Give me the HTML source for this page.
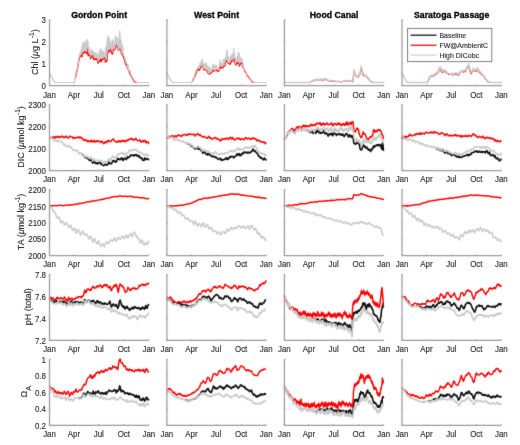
<!DOCTYPE html>
<html><head><meta charset="utf-8"><style>
html,body{margin:0;padding:0;background:#fff;}
svg{display:block;}
text{font-family:"Liberation Sans",sans-serif;fill:#262626;stroke:#262626;stroke-width:0.12px;}
</style></head><body>
<svg width="520" height="445" viewBox="0 0 520 445">
<defs>
<filter id="bl" color-interpolation-filters="sRGB" x="0" y="0" width="520" height="445" filterUnits="userSpaceOnUse"><feConvolveMatrix order="3" kernelMatrix="0.0113 0.0838 0.0113 0.0838 0.6193 0.0838 0.0113 0.0838 0.0113" edgeMode="none" preserveAlpha="false"/></filter>
<filter id="bt" color-interpolation-filters="sRGB" x="0" y="0" width="520" height="445" filterUnits="userSpaceOnUse"><feConvolveMatrix order="3" kernelMatrix="0.0016 0.0371 0.0016 0.0371 0.8450 0.0371 0.0016 0.0371 0.0016" edgeMode="none" preserveAlpha="false"/></filter>
</defs>
<rect width="520" height="445" fill="#fff"/>
<g filter="url(#bl)">
<polyline points="75.3,78.2 75.6,77.1 75.9,75.8 76.2,73.9 76.6,72.2 76.9,71.2 77.2,70.3 77.5,68.7 77.8,66.8 78.1,64.4 78.4,63.6 78.8,60.5 79.1,59.5 79.4,57.4 79.7,57.0 80.0,56.6 80.3,55.2 80.6,56.6 81.0,55.4 81.3,56.4 81.6,56.5 81.9,56.8 82.2,55.1 82.5,52.1 82.8,53.0 83.2,53.2 83.5,53.6 83.8,51.6 84.1,51.3 84.4,52.5 84.7,52.1 85.0,52.5 85.3,51.5 85.7,52.4 86.0,52.0 86.3,53.0 86.6,53.5 86.9,52.5 87.2,49.0 87.5,48.9 87.9,53.6 88.2,55.8 88.5,54.7 88.8,53.4 89.1,54.0 89.4,55.3 89.7,54.9 90.1,56.7 90.4,57.3 90.7,58.5 91.0,57.7 91.3,57.0 91.6,56.2 91.9,55.2 92.3,56.3 92.6,55.8 92.9,55.9 93.2,57.5 93.5,58.7 93.8,59.8 94.1,59.0 94.4,58.7 94.8,58.7 95.1,58.7 95.4,59.5 95.7,58.7 96.0,59.1 96.3,58.8 96.6,59.4 97.0,58.3 97.3,59.0 97.6,62.1 97.9,62.4 98.2,63.4 98.5,60.7 98.8,61.1 99.2,60.8 99.5,61.7 99.8,60.2 100.1,59.0 100.4,59.4 100.7,60.1 101.0,61.5 101.4,61.4 101.7,60.6 102.0,58.9 102.3,58.8 102.6,59.3 102.9,59.3 103.2,59.5 103.6,57.7 103.9,58.4 104.2,57.6 104.5,57.9 104.8,58.1 105.1,60.3 105.4,62.2 105.7,61.9 106.1,59.3 106.4,61.0 106.7,61.2 107.0,59.9 107.3,54.9 107.6,52.5 107.9,50.6 108.3,50.7 108.6,49.7 108.9,51.8 109.2,52.0 109.5,50.1 109.8,49.3 110.1,47.1 110.5,50.8 110.8,50.5 111.1,52.1 111.4,49.7 111.7,51.4 112.0,53.5 112.3,54.1 112.7,53.4 113.0,50.2 113.3,50.2 113.6,47.6 113.9,49.0 114.2,48.3 114.5,49.5 114.8,48.5 115.2,48.8 115.5,48.0 115.8,46.2 116.1,45.9 116.4,44.8 116.7,45.2 117.0,45.4 117.4,46.4 117.7,47.5 118.0,48.3 118.3,50.1 118.6,50.5 118.9,50.4 119.2,48.8 119.6,48.3 119.9,47.2 120.2,49.2 120.5,49.3 120.8,50.6 121.1,51.3 121.4,53.5 121.8,54.6 122.1,53.1 122.4,53.8 122.7,54.9 123.0,56.0 123.3,56.9 123.6,57.0 124.0,58.3 124.3,58.7 124.6,60.2 124.9,62.2 125.2,61.5 125.5,64.1 125.8,64.0 126.1,64.6 126.5,64.2 126.8,65.0 127.1,67.1 127.4,67.2 127.7,68.2 128.0,68.9 128.3,69.5 128.7,70.7 129.0,71.1 129.3,71.8 129.6,72.4 129.9,73.6 130.2,74.5 130.5,74.7 130.9,75.4 131.2,75.5 131.5,76.1 131.8,76.6 132.1,77.4 132.4,78.2 132.7,78.8 133.1,79.8 133.4,80.1 133.7,80.4 134.0,80.8 134.3,81.1 134.6,81.7 134.9,81.9 135.2,82.1 135.6,82.2 135.9,82.3 136.2,82.5 136.5,82.5" fill="none" stroke="#ff0000" stroke-width="1.3" stroke-linejoin="round" stroke-linecap="round"/>
<polygon points="49.6,73.9 49.9,73.8 50.2,74.0 50.5,74.4 50.8,75.5 51.1,76.2 51.5,76.3 51.8,77.1 52.1,78.0 52.4,78.4 52.7,79.1 53.0,79.6 53.3,80.0 53.6,80.7 54.0,81.1 54.3,81.8 54.6,81.9 54.9,82.1 55.2,82.4 55.5,82.5 55.8,82.5 56.2,82.5 56.5,82.5 56.8,82.5 57.1,82.5 57.4,82.5 57.7,82.5 58.0,82.5 58.4,82.5 58.7,82.5 59.0,82.5 59.3,82.5 59.6,82.5 59.9,82.5 60.2,82.5 60.6,82.5 60.9,82.5 61.2,82.5 61.5,82.5 61.8,82.5 62.1,82.5 62.4,82.5 62.8,82.5 63.1,82.5 63.4,82.5 63.7,82.5 64.0,82.5 64.3,82.5 64.6,82.5 64.9,82.5 65.3,82.5 65.6,82.5 65.9,82.5 66.2,82.5 66.5,82.5 66.8,82.5 67.1,82.5 67.5,82.5 67.8,82.5 68.1,82.5 68.4,82.5 68.7,82.5 69.0,82.5 69.3,82.5 69.7,82.5 70.0,82.5 70.3,82.5 70.6,82.5 70.9,82.5 71.2,82.5 71.5,82.5 71.9,82.5 72.2,82.5 72.5,82.5 72.8,82.5 73.1,82.5 73.4,82.5 73.7,82.5 74.0,82.5 74.4,82.5 74.7,81.6 75.0,79.8 75.3,78.2 75.6,76.9 75.9,75.8 76.2,73.1 76.6,72.2 76.9,71.2 77.2,70.3 77.5,68.7 77.8,64.9 78.1,60.6 78.4,63.6 78.8,58.3 79.1,58.1 79.4,54.3 79.7,57.0 80.0,55.3 80.3,50.9 80.6,53.3 81.0,50.6 81.3,48.9 81.6,48.2 81.9,46.6 82.2,47.2 82.5,45.7 82.8,43.6 83.2,45.8 83.5,41.7 83.8,43.2 84.1,43.7 84.4,46.1 84.7,42.1 85.0,47.0 85.3,43.7 85.7,42.4 86.0,40.9 86.3,43.0 86.6,41.3 86.9,39.1 87.2,39.4 87.5,41.0 87.9,41.2 88.2,46.2 88.5,48.1 88.8,48.3 89.1,48.0 89.4,47.1 89.7,48.9 90.1,51.5 90.4,54.9 90.7,53.1 91.0,51.3 91.3,52.1 91.6,50.5 91.9,49.4 92.3,50.1 92.6,51.0 92.9,54.7 93.2,51.2 93.5,54.2 93.8,55.5 94.1,52.4 94.4,56.0 94.8,54.5 95.1,52.4 95.4,54.2 95.7,54.0 96.0,53.8 96.3,54.1 96.6,55.2 97.0,56.1 97.3,53.6 97.6,55.7 97.9,52.7 98.2,56.6 98.5,57.5 98.8,55.8 99.2,55.0 99.5,54.6 99.8,50.9 100.1,49.5 100.4,48.7 100.7,49.2 101.0,49.0 101.4,54.8 101.7,50.0 102.0,53.1 102.3,54.4 102.6,52.2 102.9,51.2 103.2,51.0 103.6,54.4 103.9,56.5 104.2,54.5 104.5,54.0 104.8,52.6 105.1,54.1 105.4,47.9 105.7,52.4 106.1,51.4 106.4,45.8 106.7,50.7 107.0,40.6 107.3,38.9 107.6,37.4 107.9,41.0 108.3,35.4 108.6,38.7 108.9,39.8 109.2,40.5 109.5,38.4 109.8,41.0 110.1,46.9 110.5,41.7 110.8,43.7 111.1,43.8 111.4,44.6 111.7,42.1 112.0,42.3 112.3,39.3 112.7,44.3 113.0,44.3 113.3,40.4 113.6,47.6 113.9,49.0 114.2,43.7 114.5,44.4 114.8,45.7 115.2,38.0 115.5,35.4 115.8,36.3 116.1,37.3 116.4,36.8 116.7,39.2 117.0,39.8 117.4,37.9 117.7,43.1 118.0,45.8 118.3,43.1 118.6,41.4 118.9,38.0 119.2,37.6 119.6,30.8 119.9,33.2 120.2,35.0 120.5,41.1 120.8,41.7 121.1,40.0 121.4,44.2 121.8,48.0 122.1,44.1 122.4,46.4 122.7,47.0 123.0,46.6 123.3,53.4 123.6,55.7 124.0,56.2 124.3,56.3 124.6,56.7 124.9,58.4 125.2,57.4 125.5,61.7 125.8,62.8 126.1,63.3 126.5,61.1 126.8,63.3 127.1,63.9 127.4,67.2 127.7,66.5 128.0,64.1 128.3,68.4 128.7,70.7 129.0,70.3 129.3,71.3 129.6,71.0 129.9,69.6 130.2,70.7 130.5,72.2 130.9,74.0 131.2,75.0 131.5,76.0 131.8,76.0 132.1,77.4 132.4,77.4 132.7,77.8 133.1,79.0 133.4,78.9 133.7,78.9 134.0,80.0 134.3,80.8 134.6,80.6 134.9,81.3 135.2,81.6 135.6,81.8 135.9,82.1 136.2,82.5 136.5,82.5 136.8,82.5 137.1,82.5 137.4,82.5 137.8,82.5 138.1,82.5 138.4,82.5 138.7,82.5 139.0,82.5 139.3,82.5 139.6,82.5 140.0,82.5 140.3,82.5 140.6,82.5 140.9,82.5 141.2,82.5 141.5,82.5 141.8,82.5 142.2,82.5 142.5,82.5 142.8,82.5 143.1,82.5 143.4,82.5 143.7,82.5 144.0,82.5 144.4,82.5 144.7,82.5 145.0,82.5 145.3,82.5 145.6,82.5 145.9,82.5 146.2,82.5 146.5,82.5 146.9,82.5 147.2,82.5 147.5,82.5 147.8,82.5 148.1,82.5 148.4,82.5 148.7,82.5 148.7,82.5 148.4,82.5 148.1,82.5 147.8,82.5 147.5,82.5 147.2,82.5 146.9,82.5 146.5,82.5 146.2,82.5 145.9,82.5 145.6,82.5 145.3,82.5 145.0,82.5 144.7,82.5 144.4,82.5 144.0,82.5 143.7,82.5 143.4,82.5 143.1,82.5 142.8,82.5 142.5,82.5 142.2,82.5 141.8,82.5 141.5,82.5 141.2,82.5 140.9,82.5 140.6,82.5 140.3,82.5 140.0,82.5 139.6,82.5 139.3,82.5 139.0,82.5 138.7,82.5 138.4,82.5 138.1,82.5 137.8,82.5 137.4,82.5 137.1,82.5 136.8,82.5 136.5,82.5 136.2,82.5 135.9,82.3 135.6,82.1 135.2,82.1 134.9,81.7 134.6,81.5 134.3,80.8 134.0,80.0 133.7,79.9 133.4,79.7 133.1,79.7 132.7,78.5 132.4,77.4 132.1,77.4 131.8,76.0 131.5,76.0 131.2,75.0 130.9,74.0 130.5,75.3 130.2,74.7 129.9,73.6 129.6,71.1 129.3,71.3 129.0,71.4 128.7,70.9 128.3,70.0 128.0,69.0 127.7,69.4 127.4,67.9 127.1,67.1 126.8,64.3 126.5,63.6 126.1,63.4 125.8,63.3 125.5,63.7 125.2,61.4 124.9,61.6 124.6,59.3 124.3,58.4 124.0,57.3 123.6,55.7 123.3,54.6 123.0,55.0 122.7,55.1 122.4,54.6 122.1,54.0 121.8,54.4 121.4,53.5 121.1,50.9 120.8,50.9 120.5,49.2 120.2,48.6 119.9,48.3 119.6,49.3 119.2,50.6 118.9,51.0 118.6,51.3 118.3,50.2 118.0,47.6 117.7,47.5 117.4,46.7 117.0,46.1 116.7,45.1 116.4,43.2 116.1,44.1 115.8,43.8 115.5,47.3 115.2,48.6 114.8,49.3 114.5,50.2 114.2,48.3 113.9,49.3 113.6,47.6 113.3,49.7 113.0,48.9 112.7,52.3 112.3,53.1 112.0,51.7 111.7,50.4 111.4,49.1 111.1,52.6 110.8,50.1 110.5,49.8 110.1,46.9 109.8,48.9 109.5,50.0 109.2,51.8 108.9,51.3 108.6,49.3 108.3,50.3 107.9,50.0 107.6,51.7 107.3,54.2 107.0,59.5 106.7,60.1 106.4,59.9 106.1,57.8 105.7,60.7 105.4,61.1 105.1,59.7 104.8,57.4 104.5,57.2 104.2,56.1 103.9,58.0 103.6,57.5 103.2,59.4 102.9,58.5 102.6,58.4 102.3,58.8 102.0,58.0 101.7,58.2 101.4,58.6 101.0,59.2 100.7,59.1 100.4,59.0 100.1,58.1 99.8,58.8 99.5,59.3 99.2,60.2 98.8,61.7 98.5,61.6 98.2,63.4 97.9,61.1 97.6,61.6 97.3,58.6 97.0,58.9 96.6,58.5 96.3,57.5 96.0,57.0 95.7,57.6 95.4,58.7 95.1,59.0 94.8,58.5 94.4,57.7 94.1,57.1 93.8,56.9 93.5,56.7 93.2,54.8 92.9,54.7 92.6,53.6 92.3,54.6 91.9,54.0 91.6,56.1 91.3,56.5 91.0,56.2 90.7,57.3 90.4,57.2 90.1,57.4 89.7,54.4 89.4,54.2 89.1,52.7 88.8,52.2 88.5,53.7 88.2,54.8 87.9,52.9 87.5,47.8 87.2,47.8 86.9,51.1 86.6,52.5 86.3,52.1 86.0,51.8 85.7,52.8 85.3,51.1 85.0,51.3 84.7,50.1 84.4,51.2 84.1,50.7 83.8,52.0 83.5,54.3 83.2,52.8 82.8,52.0 82.5,50.4 82.2,53.8 81.9,54.9 81.6,55.3 81.3,54.7 81.0,54.6 80.6,55.8 80.3,54.4 80.0,55.4 79.7,57.0 79.4,56.6 79.1,59.6 78.8,61.0 78.4,64.5 78.1,64.3 77.8,65.9 77.5,68.7 77.2,70.3 76.9,71.2 76.6,72.2 76.2,74.5 75.9,76.3 75.6,78.1 75.3,78.4 75.0,79.8 74.7,81.6 74.4,82.5 74.0,82.5 73.7,82.5 73.4,82.5 73.1,82.5 72.8,82.5 72.5,82.5 72.2,82.5 71.9,82.5 71.5,82.5 71.2,82.5 70.9,82.5 70.6,82.5 70.3,82.5 70.0,82.5 69.7,82.5 69.3,82.5 69.0,82.5 68.7,82.5 68.4,82.5 68.1,82.5 67.8,82.5 67.5,82.5 67.1,82.5 66.8,82.5 66.5,82.5 66.2,82.5 65.9,82.5 65.6,82.5 65.3,82.5 64.9,82.5 64.6,82.5 64.3,82.5 64.0,82.5 63.7,82.5 63.4,82.5 63.1,82.5 62.8,82.5 62.4,82.5 62.1,82.5 61.8,82.5 61.5,82.5 61.2,82.5 60.9,82.5 60.6,82.5 60.2,82.5 59.9,82.5 59.6,82.5 59.3,82.5 59.0,82.5 58.7,82.5 58.4,82.5 58.0,82.5 57.7,82.5 57.4,82.5 57.1,82.5 56.8,82.5 56.5,82.5 56.2,82.5 55.8,82.5 55.5,82.5 55.2,82.4 54.9,82.1 54.6,81.9 54.3,81.8 54.0,81.1 53.6,80.7 53.3,80.0 53.0,79.6 52.7,79.1 52.4,78.4 52.1,78.0 51.8,77.1 51.5,76.6 51.1,76.7 50.8,75.9 50.5,75.1 50.2,74.5 49.9,73.8 49.6,73.9" fill="#c9c9c9"/>
<polyline points="49.6,73.9 49.9,73.8 50.2,74.0 50.5,74.4 50.8,75.5 51.1,76.2 51.5,76.3 51.8,77.1 52.1,78.0 52.4,78.4 52.7,79.1 53.0,79.6 53.3,80.0 53.6,80.7 54.0,81.1 54.3,81.8 54.6,81.9 54.9,82.1 55.2,82.4 55.5,82.5 55.8,82.5 56.2,82.5 56.5,82.5 56.8,82.5 57.1,82.5 57.4,82.5 57.7,82.5 58.0,82.5 58.4,82.5 58.7,82.5 59.0,82.5 59.3,82.5 59.6,82.5 59.9,82.5 60.2,82.5 60.6,82.5 60.9,82.5 61.2,82.5 61.5,82.5 61.8,82.5 62.1,82.5 62.4,82.5 62.8,82.5 63.1,82.5 63.4,82.5 63.7,82.5 64.0,82.5 64.3,82.5 64.6,82.5 64.9,82.5 65.3,82.5 65.6,82.5 65.9,82.5 66.2,82.5 66.5,82.5 66.8,82.5 67.1,82.5 67.5,82.5 67.8,82.5 68.1,82.5 68.4,82.5 68.7,82.5 69.0,82.5 69.3,82.5 69.7,82.5 70.0,82.5 70.3,82.5 70.6,82.5 70.9,82.5 71.2,82.5 71.5,82.5 71.9,82.5 72.2,82.5 72.5,82.5 72.8,82.5 73.1,82.5 73.4,82.5 73.7,82.5 74.0,82.5 74.4,82.5 74.7,81.6 75.0,79.8 75.3,78.2 75.6,76.9 75.9,75.8 76.2,73.1 76.6,72.2 76.9,71.2 77.2,70.3 77.5,68.7 77.8,64.9 78.1,60.6 78.4,63.6 78.8,58.3 79.1,58.1 79.4,54.3 79.7,57.0 80.0,55.3 80.3,50.9 80.6,53.3 81.0,50.6 81.3,48.9 81.6,48.2 81.9,46.6 82.2,47.2 82.5,45.7 82.8,43.6 83.2,45.8 83.5,41.7 83.8,43.2 84.1,43.7 84.4,46.1 84.7,42.1 85.0,47.0 85.3,43.7 85.7,42.4 86.0,40.9 86.3,43.0 86.6,41.3 86.9,39.1 87.2,39.4 87.5,41.0 87.9,41.2 88.2,46.2 88.5,48.1 88.8,48.3 89.1,48.0 89.4,47.1 89.7,48.9 90.1,51.5 90.4,54.9 90.7,53.1 91.0,51.3 91.3,52.1 91.6,50.5 91.9,49.4 92.3,50.1 92.6,51.0 92.9,54.7 93.2,51.2 93.5,54.2 93.8,55.5 94.1,52.4 94.4,56.0 94.8,54.5 95.1,52.4 95.4,54.2 95.7,54.0 96.0,53.8 96.3,54.1 96.6,55.2 97.0,56.1 97.3,53.6 97.6,55.7 97.9,52.7 98.2,56.6 98.5,57.5 98.8,55.8 99.2,55.0 99.5,54.6 99.8,50.9 100.1,49.5 100.4,48.7 100.7,49.2 101.0,49.0 101.4,54.8 101.7,50.0 102.0,53.1 102.3,54.4 102.6,52.2 102.9,51.2 103.2,51.0 103.6,54.4 103.9,56.5 104.2,54.5 104.5,54.0 104.8,52.6 105.1,54.1 105.4,47.9 105.7,52.4 106.1,51.4 106.4,45.8 106.7,50.7 107.0,40.6 107.3,38.9 107.6,37.4 107.9,41.0 108.3,35.4 108.6,38.7 108.9,39.8 109.2,40.5 109.5,38.4 109.8,41.0 110.1,46.9 110.5,41.7 110.8,43.7 111.1,43.8 111.4,44.6 111.7,42.1 112.0,42.3 112.3,39.3 112.7,44.3 113.0,44.3 113.3,40.4 113.6,47.6 113.9,49.0 114.2,43.7 114.5,44.4 114.8,45.7 115.2,38.0 115.5,35.4 115.8,36.3 116.1,37.3 116.4,36.8 116.7,39.2 117.0,39.8 117.4,37.9 117.7,43.1 118.0,45.8 118.3,43.1 118.6,41.4 118.9,38.0 119.2,37.6 119.6,30.8 119.9,33.2 120.2,35.0 120.5,41.1 120.8,41.7 121.1,40.0 121.4,44.2 121.8,48.0 122.1,44.1 122.4,46.4 122.7,47.0 123.0,46.6 123.3,53.4 123.6,55.7 124.0,56.2 124.3,56.3 124.6,56.7 124.9,58.4 125.2,57.4 125.5,61.7 125.8,62.8 126.1,63.3 126.5,61.1 126.8,63.3 127.1,63.9 127.4,67.2 127.7,66.5 128.0,64.1 128.3,68.4 128.7,70.7 129.0,70.3 129.3,71.3 129.6,71.0 129.9,69.6 130.2,70.7 130.5,72.2 130.9,74.0 131.2,75.0 131.5,76.0 131.8,76.0 132.1,77.4 132.4,77.4 132.7,77.8 133.1,79.0 133.4,78.9 133.7,78.9 134.0,80.0 134.3,80.8 134.6,80.6 134.9,81.3 135.2,81.6 135.6,81.8 135.9,82.1 136.2,82.5 136.5,82.5 136.8,82.5 137.1,82.5 137.4,82.5 137.8,82.5 138.1,82.5 138.4,82.5 138.7,82.5 139.0,82.5 139.3,82.5 139.6,82.5 140.0,82.5 140.3,82.5 140.6,82.5 140.9,82.5 141.2,82.5 141.5,82.5 141.8,82.5 142.2,82.5 142.5,82.5 142.8,82.5 143.1,82.5 143.4,82.5 143.7,82.5 144.0,82.5 144.4,82.5 144.7,82.5 145.0,82.5 145.3,82.5 145.6,82.5 145.9,82.5 146.2,82.5 146.5,82.5 146.9,82.5 147.2,82.5 147.5,82.5 147.8,82.5 148.1,82.5 148.4,82.5 148.7,82.5" fill="none" stroke="#c9c9c9" stroke-width="1.0" stroke-linejoin="round" stroke-linecap="round"/>
<polyline points="49.6,73.9 49.9,73.8 50.2,74.0 50.5,74.4 50.8,75.5 51.1,76.2 51.5,76.3 51.8,77.1 52.1,78.0 52.4,78.4 52.7,79.1 53.0,79.6 53.3,80.0 53.6,80.7 54.0,81.1 54.3,81.8 54.6,81.9 54.9,82.1 55.2,82.4 55.5,82.5 55.8,82.5 56.2,82.5 56.5,82.5 56.8,82.5 57.1,82.5 57.4,82.5 57.7,82.5 58.0,82.5 58.4,82.5 58.7,82.5 59.0,82.5 59.3,82.5 59.6,82.5 59.9,82.5 60.2,82.5 60.6,82.5 60.9,82.5 61.2,82.5 61.5,82.5 61.8,82.5 62.1,82.5 62.4,82.5 62.8,82.5 63.1,82.5 63.4,82.5 63.7,82.5 64.0,82.5 64.3,82.5 64.6,82.5 64.9,82.5 65.3,82.5 65.6,82.5 65.9,82.5 66.2,82.5 66.5,82.5 66.8,82.5 67.1,82.5 67.5,82.5 67.8,82.5 68.1,82.5 68.4,82.5 68.7,82.5 69.0,82.5 69.3,82.5 69.7,82.5 70.0,82.5 70.3,82.5 70.6,82.5 70.9,82.5 71.2,82.5 71.5,82.5 71.9,82.5 72.2,82.5 72.5,82.5 72.8,82.5 73.1,82.5 73.4,82.5 73.7,82.5 74.0,82.5 74.4,82.5 74.7,81.6 75.0,79.8" fill="none" stroke="#c9c9c9" stroke-width="1.15" stroke-linejoin="round" stroke-linecap="round"/>
<polyline points="136.8,82.5 137.1,82.5 137.4,82.5 137.8,82.5 138.1,82.5 138.4,82.5 138.7,82.5 139.0,82.5 139.3,82.5 139.6,82.5 140.0,82.5 140.3,82.5 140.6,82.5 140.9,82.5 141.2,82.5 141.5,82.5 141.8,82.5 142.2,82.5 142.5,82.5 142.8,82.5 143.1,82.5 143.4,82.5 143.7,82.5 144.0,82.5 144.4,82.5 144.7,82.5 145.0,82.5 145.3,82.5 145.6,82.5 145.9,82.5 146.2,82.5 146.5,82.5 146.9,82.5 147.2,82.5 147.5,82.5 147.8,82.5 148.1,82.5 148.4,82.5 148.7,82.5" fill="none" stroke="#c9c9c9" stroke-width="1.15" stroke-linejoin="round" stroke-linecap="round"/>
<path d="M49.50,19.40V85.70H148.80" fill="none" stroke="#9c9c9c" stroke-width="1.25"/>
<path d="M49.50,85.70h1.2M49.50,63.77h1.2M49.50,41.83h1.2M49.50,19.90h1.2M49.50,85.70v-1.2M73.98,85.70v-1.2M98.74,85.70v-1.2M123.77,85.70v-1.2M148.80,85.70v-1.2" stroke="#9c9c9c" stroke-width="0.9" fill="none"/>
<polyline points="192.4,81.3 192.7,80.7 193.0,79.9 193.3,79.2 193.6,78.6 194.0,78.1 194.3,77.4 194.6,77.0 194.9,76.0 195.2,75.5 195.5,74.3 195.8,73.7 196.1,73.0 196.5,72.4 196.8,71.6 197.1,70.8 197.4,70.1 197.7,69.3 198.0,68.9 198.3,68.8 198.7,69.5 199.0,69.7 199.3,70.3 199.6,69.8 199.9,69.0 200.2,68.4 200.5,67.3 200.9,67.5 201.2,65.7 201.5,66.0 201.8,64.2 202.1,64.9 202.4,64.9 202.7,66.4 203.1,67.7 203.4,68.9 203.7,69.9 204.0,69.5 204.3,69.7 204.6,69.4 204.9,69.8 205.3,70.0 205.6,70.1 205.9,70.0 206.2,69.9 206.5,70.2 206.8,70.6 207.1,71.2 207.4,72.1 207.8,73.0 208.1,72.9 208.4,73.1 208.7,72.9 209.0,73.9 209.3,74.0 209.6,74.5 210.0,73.7 210.3,73.3 210.6,73.1 210.9,73.1 211.2,73.2 211.5,72.1 211.8,71.9 212.2,70.9 212.5,71.5 212.8,71.0 213.1,71.7 213.4,70.4 213.7,70.6 214.0,70.0 214.4,70.4 214.7,70.4 215.0,70.7 215.3,70.8 215.6,70.8 215.9,70.9 216.2,70.6 216.5,69.9 216.9,70.0 217.2,70.5 217.5,70.8 217.8,71.3 218.1,71.0 218.4,71.4 218.7,71.3 219.1,70.9 219.4,69.6 219.7,67.2 220.0,66.0 220.3,66.5 220.6,67.1 220.9,68.0 221.3,68.3 221.6,67.8 221.9,67.4 222.2,66.7 222.5,67.8 222.8,67.9 223.1,67.7 223.5,66.5 223.8,65.6 224.1,65.5 224.4,66.2 224.7,66.0 225.0,65.2 225.3,63.9 225.7,61.5 226.0,61.2 226.3,60.8 226.6,61.5 226.9,60.3 227.2,60.4 227.5,62.3 227.8,63.3 228.2,62.8 228.5,63.0 228.8,62.3 229.1,63.7 229.4,62.9 229.7,64.3 230.0,63.2 230.4,64.1 230.7,63.4 231.0,62.4 231.3,60.0 231.6,59.1 231.9,60.6 232.2,61.6 232.6,61.5 232.9,60.1 233.2,60.0 233.5,59.7 233.8,59.5 234.1,58.3 234.4,60.2 234.8,62.2 235.1,63.2 235.4,64.6 235.7,64.5 236.0,65.2 236.3,63.1 236.6,62.9 236.9,63.2 237.3,63.7 237.6,62.0 237.9,62.2 238.2,62.0 238.5,62.6 238.8,63.4 239.1,64.9 239.5,66.2 239.8,64.7 240.1,64.4 240.4,63.0 240.7,63.5 241.0,62.8 241.3,63.6 241.7,62.9 242.0,64.0 242.3,65.1 242.6,66.4 242.9,67.4 243.2,68.0 243.5,68.4 243.9,68.5 244.2,69.1 244.5,70.3 244.8,71.3 245.1,72.0 245.4,71.7 245.7,72.2 246.1,72.4 246.4,73.0 246.7,74.3 247.0,75.2 247.3,75.8 247.6,75.7 247.9,76.0 248.2,76.4 248.6,77.1 248.9,77.3 249.2,78.0 249.5,78.2 249.8,78.8 250.1,79.2 250.4,79.6 250.8,80.0 251.1,80.4 251.4,80.8 251.7,81.2 252.0,81.7 252.3,82.0 252.6,82.2 253.0,82.3 253.3,82.3 253.6,82.4 253.9,82.5 254.2,82.5" fill="none" stroke="#ff0000" stroke-width="1.2" stroke-linejoin="round" stroke-linecap="round"/>
<polygon points="167.0,73.1 167.3,72.6 167.6,74.3 167.9,75.2 168.2,75.1 168.5,76.4 168.8,76.4 169.2,77.6 169.5,77.9 169.8,78.6 170.1,79.2 170.4,79.5 170.7,79.8 171.0,80.6 171.4,81.3 171.7,81.7 172.0,82.0 172.3,82.1 172.6,82.4 172.9,82.5 173.2,82.5 173.6,82.5 173.9,82.5 174.2,82.5 174.5,82.5 174.8,82.5 175.1,82.5 175.4,82.5 175.7,82.5 176.1,82.5 176.4,82.5 176.7,82.5 177.0,82.5 177.3,82.5 177.6,82.5 177.9,82.5 178.3,82.5 178.6,82.5 178.9,82.5 179.2,82.5 179.5,82.5 179.8,82.5 180.1,82.5 180.5,82.5 180.8,82.5 181.1,82.5 181.4,82.5 181.7,82.5 182.0,82.5 182.3,82.5 182.7,82.5 183.0,82.5 183.3,82.5 183.6,82.5 183.9,82.5 184.2,82.5 184.5,82.5 184.9,82.5 185.2,82.5 185.5,82.5 185.8,82.5 186.1,82.5 186.4,82.5 186.7,82.5 187.0,82.5 187.4,82.5 187.7,82.5 188.0,82.5 188.3,82.5 188.6,82.5 188.9,82.5 189.2,82.5 189.6,82.5 189.9,82.5 190.2,82.5 190.5,82.5 190.8,82.5 191.1,82.5 191.4,82.5 191.8,82.1 192.1,81.6 192.4,80.7 192.7,80.6 193.0,79.5 193.3,78.3 193.6,78.0 194.0,77.0 194.3,75.7 194.6,74.0 194.9,74.4 195.2,73.7 195.5,70.4 195.8,72.5 196.1,71.9 196.5,70.2 196.8,70.1 197.1,69.3 197.4,68.2 197.7,68.4 198.0,68.9 198.3,66.1 198.7,67.8 199.0,67.1 199.3,65.2 199.6,65.0 199.9,62.9 200.2,63.0 200.5,63.8 200.9,63.6 201.2,60.8 201.5,66.0 201.8,59.5 202.1,59.9 202.4,59.4 202.7,60.3 203.1,64.7 203.4,62.7 203.7,66.6 204.0,67.1 204.3,64.3 204.6,66.9 204.9,63.6 205.3,68.6 205.6,63.8 205.9,63.3 206.2,62.1 206.5,63.8 206.8,65.5 207.1,65.6 207.4,65.6 207.8,66.5 208.1,67.4 208.4,69.8 208.7,66.0 209.0,67.7 209.3,67.5 209.6,67.1 210.0,67.7 210.3,68.3 210.6,70.4 210.9,69.6 211.2,69.0 211.5,69.5 211.8,68.2 212.2,66.6 212.5,66.6 212.8,64.6 213.1,66.5 213.4,66.0 213.7,64.5 214.0,63.7 214.4,68.1 214.7,66.4 215.0,70.7 215.3,65.4 215.6,67.2 215.9,65.0 216.2,65.6 216.5,66.9 216.9,65.5 217.2,67.6 217.5,68.9 217.8,68.8 218.1,69.0 218.4,69.1 218.7,68.4 219.1,66.7 219.4,63.9 219.7,60.6 220.0,60.0 220.3,61.5 220.6,64.7 220.9,64.0 221.3,63.1 221.6,65.9 221.9,63.5 222.2,63.5 222.5,64.0 222.8,64.7 223.1,59.4 223.5,61.2 223.8,62.6 224.1,60.9 224.4,59.1 224.7,58.9 225.0,61.5 225.3,57.0 225.7,58.1 226.0,57.0 226.3,53.0 226.6,53.2 226.9,49.9 227.2,50.6 227.5,51.4 227.8,57.1 228.2,56.5 228.5,57.0 228.8,56.7 229.1,63.0 229.4,61.5 229.7,59.6 230.0,58.3 230.4,56.4 230.7,59.4 231.0,58.6 231.3,54.6 231.6,58.6 231.9,57.3 232.2,53.5 232.6,53.8 232.9,53.5 233.2,53.5 233.5,51.9 233.8,48.1 234.1,53.6 234.4,53.3 234.8,56.9 235.1,58.7 235.4,57.2 235.7,59.1 236.0,60.6 236.3,61.4 236.6,59.3 236.9,57.6 237.3,58.1 237.6,55.7 237.9,55.6 238.2,52.2 238.5,55.6 238.8,52.9 239.1,53.2 239.5,55.8 239.8,58.0 240.1,62.6 240.4,60.5 240.7,57.2 241.0,59.8 241.3,58.2 241.7,60.3 242.0,59.1 242.3,59.8 242.6,61.0 242.9,62.4 243.2,62.5 243.5,66.3 243.9,68.5 244.2,69.1 244.5,69.5 244.8,69.8 245.1,71.2 245.4,71.5 245.7,72.2 246.1,72.4 246.4,72.7 246.7,74.3 247.0,75.1 247.3,74.2 247.6,75.2 247.9,74.6 248.2,76.1 248.6,76.4 248.9,77.2 249.2,77.6 249.5,78.2 249.8,78.7 250.1,79.2 250.4,79.6 250.8,79.9 251.1,80.2 251.4,80.8 251.7,81.2 252.0,81.5 252.3,82.0 252.6,82.1 253.0,82.2 253.3,82.3 253.6,82.4 253.9,82.4 254.2,82.5 254.5,82.5 254.8,82.5 255.2,82.5 255.5,82.5 255.8,82.5 256.1,82.5 256.4,82.5 256.7,82.5 257.0,82.5 257.3,82.5 257.7,82.5 258.0,82.5 258.3,82.5 258.6,82.5 258.9,82.5 259.2,82.5 259.5,82.5 259.9,82.5 260.2,82.5 260.5,82.5 260.8,82.5 261.1,82.5 261.4,82.5 261.7,82.5 262.1,82.5 262.4,82.5 262.7,82.5 263.0,82.5 263.3,82.5 263.6,82.5 263.9,82.5 264.3,82.5 264.6,82.5 264.9,82.5 265.2,82.5 265.5,82.5 265.8,82.5 266.1,82.5 266.1,82.5 265.8,82.5 265.5,82.5 265.2,82.5 264.9,82.5 264.6,82.5 264.3,82.5 263.9,82.5 263.6,82.5 263.3,82.5 263.0,82.5 262.7,82.5 262.4,82.5 262.1,82.5 261.7,82.5 261.4,82.5 261.1,82.5 260.8,82.5 260.5,82.5 260.2,82.5 259.9,82.5 259.5,82.5 259.2,82.5 258.9,82.5 258.6,82.5 258.3,82.5 258.0,82.5 257.7,82.5 257.3,82.5 257.0,82.5 256.7,82.5 256.4,82.5 256.1,82.5 255.8,82.5 255.5,82.5 255.2,82.5 254.8,82.5 254.5,82.5 254.2,82.5 253.9,82.4 253.6,82.4 253.3,82.4 253.0,82.4 252.6,82.2 252.3,82.0 252.0,81.6 251.7,81.5 251.4,81.2 251.1,81.1 250.8,80.4 250.4,79.6 250.1,79.2 249.8,78.7 249.5,78.2 249.2,77.6 248.9,77.2 248.6,76.4 248.2,76.1 247.9,74.6 247.6,75.2 247.3,75.6 247.0,75.3 246.7,74.3 246.4,72.7 246.1,72.4 245.7,72.2 245.4,71.5 245.1,71.2 244.8,70.6 244.5,69.7 244.2,69.8 243.9,68.8 243.5,69.6 243.2,69.5 242.9,68.1 242.6,67.5 242.3,65.0 242.0,64.7 241.7,61.5 241.3,61.8 241.0,61.3 240.7,62.7 240.4,62.0 240.1,62.6 239.8,63.1 239.5,65.6 239.1,63.9 238.8,62.5 238.5,61.7 238.2,62.4 237.9,62.0 237.6,61.4 237.3,62.5 236.9,62.4 236.6,61.4 236.3,62.7 236.0,64.8 235.7,65.1 235.4,64.1 235.1,61.9 234.8,60.8 234.4,59.5 234.1,58.5 233.8,58.2 233.5,58.1 233.2,58.1 232.9,59.1 232.6,61.2 232.2,61.5 231.9,60.8 231.6,59.3 231.3,59.9 231.0,61.7 230.7,61.1 230.4,62.1 230.0,62.5 229.7,64.7 229.4,62.7 229.1,63.0 228.8,61.0 228.5,62.8 228.2,62.7 227.8,64.6 227.5,63.5 227.2,61.3 226.9,60.0 226.6,59.6 226.3,59.3 226.0,58.7 225.7,60.0 225.3,62.6 225.0,65.0 224.7,65.8 224.4,65.8 224.1,64.7 223.8,64.9 223.5,65.6 223.1,67.0 222.8,67.4 222.5,67.8 222.2,66.5 221.9,66.6 221.6,67.1 221.3,66.6 220.9,67.1 220.6,65.9 220.3,66.0 220.0,64.9 219.7,66.1 219.4,69.6 219.1,71.0 218.7,71.5 218.4,70.4 218.1,69.6 217.8,68.9 217.5,68.9 217.2,68.8 216.9,68.0 216.5,68.5 216.2,68.3 215.9,69.0 215.6,69.2 215.3,69.7 215.0,70.7 214.7,68.4 214.4,69.2 214.0,68.8 213.7,69.5 213.4,67.7 213.1,69.5 212.8,69.9 212.5,71.8 212.2,71.3 211.8,72.3 211.5,71.4 211.2,72.8 210.9,71.7 210.6,71.9 210.3,71.7 210.0,72.4 209.6,74.4 209.3,74.1 209.0,74.1 208.7,72.4 208.4,73.4 208.1,73.2 207.8,73.3 207.4,70.5 207.1,68.4 206.8,68.0 206.5,69.1 206.2,70.6 205.9,70.6 205.6,70.3 205.3,69.5 204.9,68.9 204.6,68.0 204.3,69.0 204.0,68.7 203.7,69.6 203.4,69.0 203.1,68.7 202.7,66.9 202.4,64.1 202.1,63.5 201.8,63.7 201.5,66.7 201.2,66.3 200.9,67.4 200.5,65.6 200.2,67.0 199.9,66.7 199.6,68.0 199.3,68.1 199.0,68.2 198.7,68.3 198.3,67.9 198.0,68.9 197.7,68.4 197.4,68.2 197.1,69.3 196.8,70.2 196.5,71.2 196.1,71.9 195.8,72.5 195.5,72.3 195.2,74.2 194.9,74.4 194.6,76.5 194.3,77.5 194.0,79.4 193.6,79.0 193.3,79.1 193.0,79.6 192.7,80.6 192.4,80.8 192.1,81.6 191.8,82.1 191.4,82.5 191.1,82.5 190.8,82.5 190.5,82.5 190.2,82.5 189.9,82.5 189.6,82.5 189.2,82.5 188.9,82.5 188.6,82.5 188.3,82.5 188.0,82.5 187.7,82.5 187.4,82.5 187.0,82.5 186.7,82.5 186.4,82.5 186.1,82.5 185.8,82.5 185.5,82.5 185.2,82.5 184.9,82.5 184.5,82.5 184.2,82.5 183.9,82.5 183.6,82.5 183.3,82.5 183.0,82.5 182.7,82.5 182.3,82.5 182.0,82.5 181.7,82.5 181.4,82.5 181.1,82.5 180.8,82.5 180.5,82.5 180.1,82.5 179.8,82.5 179.5,82.5 179.2,82.5 178.9,82.5 178.6,82.5 178.3,82.5 177.9,82.5 177.6,82.5 177.3,82.5 177.0,82.5 176.7,82.5 176.4,82.5 176.1,82.5 175.7,82.5 175.4,82.5 175.1,82.5 174.8,82.5 174.5,82.5 174.2,82.5 173.9,82.5 173.6,82.5 173.2,82.5 172.9,82.5 172.6,82.4 172.3,82.1 172.0,82.0 171.7,81.7 171.4,81.3 171.0,80.6 170.7,79.8 170.4,79.5 170.1,79.2 169.8,78.6 169.5,77.9 169.2,77.6 168.8,77.1 168.5,76.5 168.2,75.8 167.9,75.2 167.6,74.3 167.3,72.6 167.0,73.1" fill="#c9c9c9"/>
<polyline points="167.0,73.1 167.3,72.6 167.6,74.3 167.9,75.2 168.2,75.1 168.5,76.4 168.8,76.4 169.2,77.6 169.5,77.9 169.8,78.6 170.1,79.2 170.4,79.5 170.7,79.8 171.0,80.6 171.4,81.3 171.7,81.7 172.0,82.0 172.3,82.1 172.6,82.4 172.9,82.5 173.2,82.5 173.6,82.5 173.9,82.5 174.2,82.5 174.5,82.5 174.8,82.5 175.1,82.5 175.4,82.5 175.7,82.5 176.1,82.5 176.4,82.5 176.7,82.5 177.0,82.5 177.3,82.5 177.6,82.5 177.9,82.5 178.3,82.5 178.6,82.5 178.9,82.5 179.2,82.5 179.5,82.5 179.8,82.5 180.1,82.5 180.5,82.5 180.8,82.5 181.1,82.5 181.4,82.5 181.7,82.5 182.0,82.5 182.3,82.5 182.7,82.5 183.0,82.5 183.3,82.5 183.6,82.5 183.9,82.5 184.2,82.5 184.5,82.5 184.9,82.5 185.2,82.5 185.5,82.5 185.8,82.5 186.1,82.5 186.4,82.5 186.7,82.5 187.0,82.5 187.4,82.5 187.7,82.5 188.0,82.5 188.3,82.5 188.6,82.5 188.9,82.5 189.2,82.5 189.6,82.5 189.9,82.5 190.2,82.5 190.5,82.5 190.8,82.5 191.1,82.5 191.4,82.5 191.8,82.1 192.1,81.6 192.4,80.7 192.7,80.6 193.0,79.5 193.3,78.3 193.6,78.0 194.0,77.0 194.3,75.7 194.6,74.0 194.9,74.4 195.2,73.7 195.5,70.4 195.8,72.5 196.1,71.9 196.5,70.2 196.8,70.1 197.1,69.3 197.4,68.2 197.7,68.4 198.0,68.9 198.3,66.1 198.7,67.8 199.0,67.1 199.3,65.2 199.6,65.0 199.9,62.9 200.2,63.0 200.5,63.8 200.9,63.6 201.2,60.8 201.5,66.0 201.8,59.5 202.1,59.9 202.4,59.4 202.7,60.3 203.1,64.7 203.4,62.7 203.7,66.6 204.0,67.1 204.3,64.3 204.6,66.9 204.9,63.6 205.3,68.6 205.6,63.8 205.9,63.3 206.2,62.1 206.5,63.8 206.8,65.5 207.1,65.6 207.4,65.6 207.8,66.5 208.1,67.4 208.4,69.8 208.7,66.0 209.0,67.7 209.3,67.5 209.6,67.1 210.0,67.7 210.3,68.3 210.6,70.4 210.9,69.6 211.2,69.0 211.5,69.5 211.8,68.2 212.2,66.6 212.5,66.6 212.8,64.6 213.1,66.5 213.4,66.0 213.7,64.5 214.0,63.7 214.4,68.1 214.7,66.4 215.0,70.7 215.3,65.4 215.6,67.2 215.9,65.0 216.2,65.6 216.5,66.9 216.9,65.5 217.2,67.6 217.5,68.9 217.8,68.8 218.1,69.0 218.4,69.1 218.7,68.4 219.1,66.7 219.4,63.9 219.7,60.6 220.0,60.0 220.3,61.5 220.6,64.7 220.9,64.0 221.3,63.1 221.6,65.9 221.9,63.5 222.2,63.5 222.5,64.0 222.8,64.7 223.1,59.4 223.5,61.2 223.8,62.6 224.1,60.9 224.4,59.1 224.7,58.9 225.0,61.5 225.3,57.0 225.7,58.1 226.0,57.0 226.3,53.0 226.6,53.2 226.9,49.9 227.2,50.6 227.5,51.4 227.8,57.1 228.2,56.5 228.5,57.0 228.8,56.7 229.1,63.0 229.4,61.5 229.7,59.6 230.0,58.3 230.4,56.4 230.7,59.4 231.0,58.6 231.3,54.6 231.6,58.6 231.9,57.3 232.2,53.5 232.6,53.8 232.9,53.5 233.2,53.5 233.5,51.9 233.8,48.1 234.1,53.6 234.4,53.3 234.8,56.9 235.1,58.7 235.4,57.2 235.7,59.1 236.0,60.6 236.3,61.4 236.6,59.3 236.9,57.6 237.3,58.1 237.6,55.7 237.9,55.6 238.2,52.2 238.5,55.6 238.8,52.9 239.1,53.2 239.5,55.8 239.8,58.0 240.1,62.6 240.4,60.5 240.7,57.2 241.0,59.8 241.3,58.2 241.7,60.3 242.0,59.1 242.3,59.8 242.6,61.0 242.9,62.4 243.2,62.5 243.5,66.3 243.9,68.5 244.2,69.1 244.5,69.5 244.8,69.8 245.1,71.2 245.4,71.5 245.7,72.2 246.1,72.4 246.4,72.7 246.7,74.3 247.0,75.1 247.3,74.2 247.6,75.2 247.9,74.6 248.2,76.1 248.6,76.4 248.9,77.2 249.2,77.6 249.5,78.2 249.8,78.7 250.1,79.2 250.4,79.6 250.8,79.9 251.1,80.2 251.4,80.8 251.7,81.2 252.0,81.5 252.3,82.0 252.6,82.1 253.0,82.2 253.3,82.3 253.6,82.4 253.9,82.4 254.2,82.5 254.5,82.5 254.8,82.5 255.2,82.5 255.5,82.5 255.8,82.5 256.1,82.5 256.4,82.5 256.7,82.5 257.0,82.5 257.3,82.5 257.7,82.5 258.0,82.5 258.3,82.5 258.6,82.5 258.9,82.5 259.2,82.5 259.5,82.5 259.9,82.5 260.2,82.5 260.5,82.5 260.8,82.5 261.1,82.5 261.4,82.5 261.7,82.5 262.1,82.5 262.4,82.5 262.7,82.5 263.0,82.5 263.3,82.5 263.6,82.5 263.9,82.5 264.3,82.5 264.6,82.5 264.9,82.5 265.2,82.5 265.5,82.5 265.8,82.5 266.1,82.5" fill="none" stroke="#c9c9c9" stroke-width="1.0" stroke-linejoin="round" stroke-linecap="round"/>
<polyline points="167.0,73.1 167.3,72.6 167.6,74.3 167.9,75.2 168.2,75.1 168.5,76.4 168.8,76.4 169.2,77.6 169.5,77.9 169.8,78.6 170.1,79.2 170.4,79.5 170.7,79.8 171.0,80.6 171.4,81.3 171.7,81.7 172.0,82.0 172.3,82.1 172.6,82.4 172.9,82.5 173.2,82.5 173.6,82.5 173.9,82.5 174.2,82.5 174.5,82.5 174.8,82.5 175.1,82.5 175.4,82.5 175.7,82.5 176.1,82.5 176.4,82.5 176.7,82.5 177.0,82.5 177.3,82.5 177.6,82.5 177.9,82.5 178.3,82.5 178.6,82.5 178.9,82.5 179.2,82.5 179.5,82.5 179.8,82.5 180.1,82.5 180.5,82.5 180.8,82.5 181.1,82.5 181.4,82.5 181.7,82.5 182.0,82.5 182.3,82.5 182.7,82.5 183.0,82.5 183.3,82.5 183.6,82.5 183.9,82.5 184.2,82.5 184.5,82.5 184.9,82.5 185.2,82.5 185.5,82.5 185.8,82.5 186.1,82.5 186.4,82.5 186.7,82.5 187.0,82.5 187.4,82.5 187.7,82.5 188.0,82.5 188.3,82.5 188.6,82.5 188.9,82.5 189.2,82.5 189.6,82.5 189.9,82.5 190.2,82.5 190.5,82.5 190.8,82.5 191.1,82.5 191.4,82.5 191.8,82.1 192.1,81.6" fill="none" stroke="#c9c9c9" stroke-width="1.15" stroke-linejoin="round" stroke-linecap="round"/>
<polyline points="254.5,82.5 254.8,82.5 255.2,82.5 255.5,82.5 255.8,82.5 256.1,82.5 256.4,82.5 256.7,82.5 257.0,82.5 257.3,82.5 257.7,82.5 258.0,82.5 258.3,82.5 258.6,82.5 258.9,82.5 259.2,82.5 259.5,82.5 259.9,82.5 260.2,82.5 260.5,82.5 260.8,82.5 261.1,82.5 261.4,82.5 261.7,82.5 262.1,82.5 262.4,82.5 262.7,82.5 263.0,82.5 263.3,82.5 263.6,82.5 263.9,82.5 264.3,82.5 264.6,82.5 264.9,82.5 265.2,82.5 265.5,82.5 265.8,82.5 266.1,82.5" fill="none" stroke="#c9c9c9" stroke-width="1.15" stroke-linejoin="round" stroke-linecap="round"/>
<path d="M166.90,19.40V85.70H266.20" fill="none" stroke="#9c9c9c" stroke-width="1.25"/>
<path d="M166.90,85.70h1.2M166.90,63.77h1.2M166.90,41.83h1.2M166.90,19.90h1.2M166.90,85.70v-1.2M191.38,85.70v-1.2M216.14,85.70v-1.2M241.17,85.70v-1.2M266.20,85.70v-1.2" stroke="#9c9c9c" stroke-width="0.9" fill="none"/>
<polyline points="310.1,82.1 310.4,81.9 310.7,81.7 311.1,81.6 311.4,81.5 311.7,81.4 312.0,81.3 312.3,81.1 312.6,81.0 312.9,80.9 313.2,80.7 313.6,80.4 313.9,80.3 314.2,80.3 314.5,80.3 314.8,80.2 315.1,80.2 315.4,80.3 315.8,80.4 316.1,80.5 316.4,80.5 316.7,80.3 317.0,80.0 317.3,79.7 317.6,79.5 318.0,79.4 318.3,79.5 318.6,79.7 318.9,79.5 319.2,79.5 319.5,79.6 319.8,80.1 320.2,80.4 320.5,80.3 320.8,79.9 321.1,79.5 321.4,79.2 321.7,79.3 322.0,79.6 322.3,79.9 322.7,80.2 323.0,80.1 323.3,80.0 323.6,79.8 323.9,79.8 324.2,79.7 324.5,79.7 324.9,79.4 325.2,79.3 325.5,79.1 325.8,79.2 326.1,79.5 326.4,79.7 326.7,79.8 327.1,80.0 327.4,80.1 327.7,80.2 328.0,80.3 328.3,80.6 328.6,80.7 328.9,80.7 329.3,80.7 329.6,80.7 329.9,80.8 330.2,81.0 330.5,81.1 330.8,81.1 331.1,81.1 331.4,81.2 331.8,81.2 332.1,81.2 332.4,81.2 332.7,81.1 333.0,81.1 333.3,81.0 333.6,81.0 334.0,80.9 334.3,81.0 334.6,81.2 334.9,81.3 335.2,81.4 335.5,81.6 335.8,81.6 336.2,81.6 336.5,81.5 336.8,81.5 337.1,81.5 337.4,81.4 337.7,81.4 338.0,81.4 338.4,81.5 338.7,81.5 339.0,81.6 339.3,81.7 339.6,81.8 339.9,81.9 340.2,81.8 340.6,81.8 340.9,81.8 341.2,81.7 341.5,81.7 341.8,81.7 342.1,81.6 342.4,81.6 342.7,81.5 343.1,81.5 343.4,81.4 343.7,81.4 344.0,81.3 344.3,81.2 344.6,81.1 344.9,81.0 345.3,81.0 345.6,81.0 345.9,81.0 346.2,80.9 346.5,80.9 346.8,80.8 347.1,80.8 347.5,80.6 347.8,80.5 348.1,80.6 348.4,80.6 348.7,80.8 349.0,80.8 349.3,80.9 349.7,81.0 350.0,80.9 350.3,80.8 350.6,80.7 350.9,80.7 351.2,80.6 351.5,80.8 351.9,81.1 352.2,81.3 352.5,81.5 352.8,81.8 353.1,81.0 353.4,77.1 353.7,71.1 354.0,70.9 354.4,72.0 354.7,72.9 355.0,73.6 355.3,74.7 355.6,75.8 355.9,76.3 356.2,76.3 356.6,76.3 356.9,76.4 357.2,76.7 357.5,76.7 357.8,76.9 358.1,77.1 358.4,76.5 358.8,75.8 359.1,75.1 359.4,74.6 359.7,74.4 360.0,73.7 360.3,72.6 360.6,70.9 361.0,69.7 361.3,69.5 361.6,69.4 361.9,70.6 362.2,71.3 362.5,72.4 362.8,73.8 363.1,74.6 363.5,75.2 363.8,75.1 364.1,75.5 364.4,75.5 364.7,75.9 365.0,76.1 365.3,76.4 365.7,76.2 366.0,76.3 366.3,76.6 366.6,77.0 366.9,77.3 367.2,77.7 367.5,78.0 367.9,78.2 368.2,78.5 368.5,78.8 368.8,79.1 369.1,79.5 369.4,79.9 369.7,80.2 370.1,80.5 370.4,80.8 370.7,81.2 371.0,81.5 371.3,81.7 371.6,82.0 371.9,82.3 372.2,82.4 372.6,82.4" fill="none" stroke="#ff0000" stroke-width="1.2" stroke-linejoin="round" stroke-linecap="round"/>
<polygon points="284.4,82.5 284.7,82.5 285.0,82.5 285.3,82.5 285.6,82.5 285.9,82.5 286.3,82.5 286.6,82.5 286.9,82.5 287.2,82.5 287.5,82.5 287.8,82.5 288.1,82.5 288.5,82.5 288.8,82.5 289.1,82.5 289.4,82.5 289.7,82.5 290.0,82.5 290.3,82.5 290.6,82.5 291.0,82.5 291.3,82.5 291.6,82.5 291.9,82.5 292.2,82.5 292.5,82.5 292.8,82.5 293.2,82.5 293.5,82.5 293.8,82.5 294.1,82.5 294.4,82.5 294.7,82.5 295.0,82.5 295.4,82.5 295.7,82.5 296.0,82.5 296.3,82.5 296.6,82.5 296.9,82.5 297.2,82.5 297.6,82.5 297.9,82.5 298.2,82.5 298.5,82.5 298.8,82.5 299.1,82.5 299.4,82.5 299.8,82.5 300.1,82.5 300.4,82.5 300.7,82.5 301.0,82.5 301.3,82.5 301.6,82.5 301.9,82.5 302.3,82.5 302.6,82.5 302.9,82.5 303.2,82.5 303.5,82.5 303.8,82.5 304.1,82.5 304.5,82.5 304.8,82.5 305.1,82.5 305.4,82.5 305.7,82.5 306.0,82.5 306.3,82.5 306.7,82.5 307.0,82.5 307.3,82.5 307.6,82.5 307.9,82.5 308.2,82.5 308.5,82.5 308.9,82.5 309.2,82.5 309.5,82.5 309.8,82.3 310.1,82.0 310.4,81.8 310.7,81.7 311.1,81.5 311.4,81.5 311.7,81.4 312.0,81.3 312.3,81.1 312.6,80.9 312.9,80.7 313.2,80.6 313.6,80.2 313.9,80.3 314.2,80.1 314.5,80.2 314.8,79.5 315.1,80.0 315.4,80.2 315.8,80.1 316.1,80.3 316.4,80.4 316.7,80.1 317.0,79.6 317.3,79.4 317.6,79.3 318.0,79.1 318.3,78.9 318.6,79.0 318.9,79.1 319.2,79.4 319.5,79.3 319.8,79.7 320.2,80.3 320.5,79.9 320.8,79.5 321.1,79.1 321.4,79.0 321.7,78.9 322.0,79.5 322.3,79.3 322.7,79.9 323.0,79.4 323.3,79.3 323.6,79.5 323.9,79.2 324.2,79.0 324.5,79.0 324.9,79.1 325.2,78.9 325.5,78.9 325.8,79.1 326.1,78.9 326.4,79.2 326.7,79.4 327.1,79.9 327.4,80.0 327.7,80.2 328.0,80.2 328.3,80.3 328.6,80.5 328.9,80.4 329.3,80.7 329.6,80.7 329.9,80.6 330.2,80.8 330.5,80.8 330.8,81.1 331.1,81.1 331.4,81.0 331.8,81.1 332.1,81.0 332.4,81.1 332.7,81.0 333.0,80.9 333.3,81.0 333.6,80.7 334.0,80.8 334.3,80.9 334.6,80.9 334.9,81.2 335.2,81.3 335.5,81.3 335.8,81.4 336.2,81.5 336.5,81.4 336.8,81.3 337.1,81.3 337.4,81.3 337.7,81.2 338.0,81.3 338.4,81.3 338.7,81.5 339.0,81.6 339.3,81.6 339.6,81.7 339.9,81.8 340.2,81.7 340.6,81.6 340.9,81.7 341.2,81.6 341.5,81.7 341.8,81.6 342.1,81.5 342.4,81.5 342.7,81.5 343.1,81.3 343.4,81.2 343.7,81.2 344.0,81.1 344.3,81.1 344.6,81.0 344.9,81.0 345.3,81.0 345.6,80.8 345.9,80.7 346.2,80.7 346.5,80.7 346.8,80.4 347.1,80.4 347.5,80.4 347.8,80.5 348.1,80.4 348.4,80.5 348.7,80.5 349.0,80.7 349.3,80.8 349.7,80.8 350.0,80.7 350.3,80.7 350.6,80.4 350.9,80.4 351.2,80.4 351.5,80.7 351.9,80.9 352.2,81.1 352.5,81.5 352.8,81.8 353.1,80.9 353.4,77.0 353.7,70.1 354.0,69.9 354.4,69.8 354.7,72.9 355.0,72.7 355.3,74.7 355.6,75.2 355.9,75.6 356.2,75.8 356.6,76.3 356.9,75.7 357.2,76.0 357.5,76.1 357.8,75.7 358.1,76.9 358.4,76.0 358.8,75.2 359.1,75.1 359.4,73.5 359.7,73.3 360.0,73.5 360.3,71.9 360.6,68.5 361.0,66.2 361.3,66.7 361.6,68.3 361.9,68.3 362.2,69.8 362.5,71.5 362.8,71.8 363.1,73.5 363.5,74.3 363.8,74.4 364.1,74.7 364.4,74.5 364.7,75.3 365.0,75.1 365.3,76.0 365.7,76.2 366.0,75.6 366.3,75.3 366.6,76.1 366.9,76.6 367.2,77.1 367.5,77.5 367.9,77.3 368.2,77.7 368.5,78.6 368.8,78.4 369.1,79.3 369.4,79.4 369.7,80.0 370.1,80.3 370.4,80.7 370.7,81.0 371.0,81.2 371.3,81.6 371.6,81.9 371.9,82.2 372.2,82.4 372.6,82.4 372.9,82.4 373.2,82.5 373.5,82.5 373.8,82.5 374.1,82.5 374.4,82.5 374.8,82.5 375.1,82.5 375.4,82.5 375.7,82.5 376.0,82.5 376.3,82.5 376.6,82.5 377.0,82.5 377.3,82.5 377.6,82.5 377.9,82.5 378.2,82.5 378.5,82.5 378.8,82.5 379.2,82.5 379.5,82.5 379.8,82.5 380.1,82.5 380.4,82.5 380.7,82.5 381.0,82.5 381.4,82.5 381.7,82.5 382.0,82.5 382.3,82.5 382.6,82.5 382.9,82.5 383.2,82.5 383.5,82.5 383.5,82.5 383.2,82.5 382.9,82.5 382.6,82.5 382.3,82.5 382.0,82.5 381.7,82.5 381.4,82.5 381.0,82.5 380.7,82.5 380.4,82.5 380.1,82.5 379.8,82.5 379.5,82.5 379.2,82.5 378.8,82.5 378.5,82.5 378.2,82.5 377.9,82.5 377.6,82.5 377.3,82.5 377.0,82.5 376.6,82.5 376.3,82.5 376.0,82.5 375.7,82.5 375.4,82.5 375.1,82.5 374.8,82.5 374.4,82.5 374.1,82.5 373.8,82.5 373.5,82.5 373.2,82.5 372.9,82.5 372.6,82.4 372.2,82.4 371.9,82.3 371.6,82.0 371.3,81.8 371.0,81.5 370.7,81.2 370.4,81.0 370.1,80.7 369.7,80.4 369.4,79.9 369.1,79.7 368.8,79.1 368.5,78.7 368.2,78.5 367.9,78.2 367.5,78.3 367.2,78.0 366.9,78.0 366.6,77.4 366.3,77.1 366.0,76.8 365.7,76.8 365.3,76.8 365.0,76.5 364.7,76.4 364.4,75.8 364.1,75.4 363.8,75.1 363.5,75.2 363.1,74.7 362.8,73.6 362.5,72.3 362.2,71.6 361.9,70.9 361.6,69.6 361.3,69.4 361.0,69.9 360.6,71.1 360.3,72.8 360.0,73.7 359.7,74.5 359.4,74.7 359.1,75.5 358.8,75.9 358.4,76.6 358.1,77.1 357.8,77.2 357.5,77.2 357.2,77.1 356.9,76.5 356.6,76.3 356.2,76.1 355.9,76.6 355.6,76.2 355.3,75.1 355.0,73.7 354.7,73.0 354.4,72.2 354.0,71.1 353.7,71.1 353.4,77.1 353.1,81.0 352.8,81.8 352.5,81.5 352.2,81.3 351.9,81.1 351.5,80.9 351.2,80.6 350.9,80.8 350.6,80.8 350.3,81.0 350.0,81.1 349.7,81.2 349.3,81.1 349.0,80.8 348.7,80.8 348.4,80.7 348.1,80.6 347.8,80.5 347.5,80.5 347.1,80.6 346.8,80.8 346.5,81.0 346.2,81.1 345.9,81.1 345.6,80.9 345.3,81.0 344.9,81.0 344.6,81.1 344.3,81.3 344.0,81.3 343.7,81.4 343.4,81.5 343.1,81.6 342.7,81.7 342.4,81.7 342.1,81.8 341.8,81.8 341.5,81.8 341.2,81.8 340.9,81.8 340.6,81.9 340.2,81.8 339.9,81.9 339.6,81.7 339.3,81.7 339.0,81.6 338.7,81.6 338.4,81.6 338.0,81.5 337.7,81.5 337.4,81.5 337.1,81.6 336.8,81.6 336.5,81.6 336.2,81.7 335.8,81.7 335.5,81.7 335.2,81.4 334.9,81.2 334.6,81.0 334.3,80.9 334.0,80.8 333.6,80.9 333.3,81.1 333.0,81.2 332.7,81.2 332.4,81.3 332.1,81.3 331.8,81.3 331.4,81.2 331.1,81.2 330.8,81.2 330.5,81.2 330.2,81.0 329.9,80.8 329.6,80.8 329.3,80.9 328.9,80.9 328.6,80.8 328.3,80.6 328.0,80.3 327.7,80.2 327.4,80.1 327.1,80.2 326.7,80.1 326.4,79.9 326.1,79.4 325.8,79.1 325.5,79.0 325.2,79.6 324.9,79.7 324.5,80.0 324.2,80.0 323.9,80.1 323.6,79.9 323.3,79.9 323.0,79.9 322.7,80.2 322.3,80.0 322.0,79.8 321.7,79.7 321.4,79.6 321.1,79.7 320.8,79.9 320.5,80.2 320.2,80.3 319.8,79.9 319.5,79.6 319.2,79.4 318.9,79.7 318.6,79.9 318.3,79.7 318.0,79.5 317.6,79.5 317.3,79.9 317.0,80.0 316.7,80.4 316.4,80.7 316.1,80.7 315.8,80.5 315.4,80.3 315.1,80.2 314.8,80.3 314.5,80.5 314.2,80.5 313.9,80.4 313.6,80.5 313.2,80.6 312.9,80.9 312.6,81.0 312.3,81.2 312.0,81.3 311.7,81.4 311.4,81.6 311.1,81.6 310.7,81.8 310.4,81.9 310.1,82.2 309.8,82.3 309.5,82.5 309.2,82.5 308.9,82.5 308.5,82.5 308.2,82.5 307.9,82.5 307.6,82.5 307.3,82.5 307.0,82.5 306.7,82.5 306.3,82.5 306.0,82.5 305.7,82.5 305.4,82.5 305.1,82.5 304.8,82.5 304.5,82.5 304.1,82.5 303.8,82.5 303.5,82.5 303.2,82.5 302.9,82.5 302.6,82.5 302.3,82.5 301.9,82.5 301.6,82.5 301.3,82.5 301.0,82.5 300.7,82.5 300.4,82.5 300.1,82.5 299.8,82.5 299.4,82.5 299.1,82.5 298.8,82.5 298.5,82.5 298.2,82.5 297.9,82.5 297.6,82.5 297.2,82.5 296.9,82.5 296.6,82.5 296.3,82.5 296.0,82.5 295.7,82.5 295.4,82.5 295.0,82.5 294.7,82.5 294.4,82.5 294.1,82.5 293.8,82.5 293.5,82.5 293.2,82.5 292.8,82.5 292.5,82.5 292.2,82.5 291.9,82.5 291.6,82.5 291.3,82.5 291.0,82.5 290.6,82.5 290.3,82.5 290.0,82.5 289.7,82.5 289.4,82.5 289.1,82.5 288.8,82.5 288.5,82.5 288.1,82.5 287.8,82.5 287.5,82.5 287.2,82.5 286.9,82.5 286.6,82.5 286.3,82.5 285.9,82.5 285.6,82.5 285.3,82.5 285.0,82.5 284.7,82.5 284.4,82.5" fill="#c9c9c9"/>
<polyline points="284.4,82.5 284.7,82.5 285.0,82.5 285.3,82.5 285.6,82.5 285.9,82.5 286.3,82.5 286.6,82.5 286.9,82.5 287.2,82.5 287.5,82.5 287.8,82.5 288.1,82.5 288.5,82.5 288.8,82.5 289.1,82.5 289.4,82.5 289.7,82.5 290.0,82.5 290.3,82.5 290.6,82.5 291.0,82.5 291.3,82.5 291.6,82.5 291.9,82.5 292.2,82.5 292.5,82.5 292.8,82.5 293.2,82.5 293.5,82.5 293.8,82.5 294.1,82.5 294.4,82.5 294.7,82.5 295.0,82.5 295.4,82.5 295.7,82.5 296.0,82.5 296.3,82.5 296.6,82.5 296.9,82.5 297.2,82.5 297.6,82.5 297.9,82.5 298.2,82.5 298.5,82.5 298.8,82.5 299.1,82.5 299.4,82.5 299.8,82.5 300.1,82.5 300.4,82.5 300.7,82.5 301.0,82.5 301.3,82.5 301.6,82.5 301.9,82.5 302.3,82.5 302.6,82.5 302.9,82.5 303.2,82.5 303.5,82.5 303.8,82.5 304.1,82.5 304.5,82.5 304.8,82.5 305.1,82.5 305.4,82.5 305.7,82.5 306.0,82.5 306.3,82.5 306.7,82.5 307.0,82.5 307.3,82.5 307.6,82.5 307.9,82.5 308.2,82.5 308.5,82.5 308.9,82.5 309.2,82.5 309.5,82.5 309.8,82.3 310.1,82.0 310.4,81.8 310.7,81.7 311.1,81.5 311.4,81.5 311.7,81.4 312.0,81.3 312.3,81.1 312.6,80.9 312.9,80.7 313.2,80.6 313.6,80.2 313.9,80.3 314.2,80.1 314.5,80.2 314.8,79.5 315.1,80.0 315.4,80.2 315.8,80.1 316.1,80.3 316.4,80.4 316.7,80.1 317.0,79.6 317.3,79.4 317.6,79.3 318.0,79.1 318.3,78.9 318.6,79.0 318.9,79.1 319.2,79.4 319.5,79.3 319.8,79.7 320.2,80.3 320.5,79.9 320.8,79.5 321.1,79.1 321.4,79.0 321.7,78.9 322.0,79.5 322.3,79.3 322.7,79.9 323.0,79.4 323.3,79.3 323.6,79.5 323.9,79.2 324.2,79.0 324.5,79.0 324.9,79.1 325.2,78.9 325.5,78.9 325.8,79.1 326.1,78.9 326.4,79.2 326.7,79.4 327.1,79.9 327.4,80.0 327.7,80.2 328.0,80.2 328.3,80.3 328.6,80.5 328.9,80.4 329.3,80.7 329.6,80.7 329.9,80.6 330.2,80.8 330.5,80.8 330.8,81.1 331.1,81.1 331.4,81.0 331.8,81.1 332.1,81.0 332.4,81.1 332.7,81.0 333.0,80.9 333.3,81.0 333.6,80.7 334.0,80.8 334.3,80.9 334.6,80.9 334.9,81.2 335.2,81.3 335.5,81.3 335.8,81.4 336.2,81.5 336.5,81.4 336.8,81.3 337.1,81.3 337.4,81.3 337.7,81.2 338.0,81.3 338.4,81.3 338.7,81.5 339.0,81.6 339.3,81.6 339.6,81.7 339.9,81.8 340.2,81.7 340.6,81.6 340.9,81.7 341.2,81.6 341.5,81.7 341.8,81.6 342.1,81.5 342.4,81.5 342.7,81.5 343.1,81.3 343.4,81.2 343.7,81.2 344.0,81.1 344.3,81.1 344.6,81.0 344.9,81.0 345.3,81.0 345.6,80.8 345.9,80.7 346.2,80.7 346.5,80.7 346.8,80.4 347.1,80.4 347.5,80.4 347.8,80.5 348.1,80.4 348.4,80.5 348.7,80.5 349.0,80.7 349.3,80.8 349.7,80.8 350.0,80.7 350.3,80.7 350.6,80.4 350.9,80.4 351.2,80.4 351.5,80.7 351.9,80.9 352.2,81.1 352.5,81.5 352.8,81.8 353.1,80.9 353.4,77.0 353.7,70.1 354.0,69.9 354.4,69.8 354.7,72.9 355.0,72.7 355.3,74.7 355.6,75.2 355.9,75.6 356.2,75.8 356.6,76.3 356.9,75.7 357.2,76.0 357.5,76.1 357.8,75.7 358.1,76.9 358.4,76.0 358.8,75.2 359.1,75.1 359.4,73.5 359.7,73.3 360.0,73.5 360.3,71.9 360.6,68.5 361.0,66.2 361.3,66.7 361.6,68.3 361.9,68.3 362.2,69.8 362.5,71.5 362.8,71.8 363.1,73.5 363.5,74.3 363.8,74.4 364.1,74.7 364.4,74.5 364.7,75.3 365.0,75.1 365.3,76.0 365.7,76.2 366.0,75.6 366.3,75.3 366.6,76.1 366.9,76.6 367.2,77.1 367.5,77.5 367.9,77.3 368.2,77.7 368.5,78.6 368.8,78.4 369.1,79.3 369.4,79.4 369.7,80.0 370.1,80.3 370.4,80.7 370.7,81.0 371.0,81.2 371.3,81.6 371.6,81.9 371.9,82.2 372.2,82.4 372.6,82.4 372.9,82.4 373.2,82.5 373.5,82.5 373.8,82.5 374.1,82.5 374.4,82.5 374.8,82.5 375.1,82.5 375.4,82.5 375.7,82.5 376.0,82.5 376.3,82.5 376.6,82.5 377.0,82.5 377.3,82.5 377.6,82.5 377.9,82.5 378.2,82.5 378.5,82.5 378.8,82.5 379.2,82.5 379.5,82.5 379.8,82.5 380.1,82.5 380.4,82.5 380.7,82.5 381.0,82.5 381.4,82.5 381.7,82.5 382.0,82.5 382.3,82.5 382.6,82.5 382.9,82.5 383.2,82.5 383.5,82.5" fill="none" stroke="#c9c9c9" stroke-width="1.3" stroke-linejoin="round" stroke-linecap="round"/>
<polyline points="284.4,82.5 284.7,82.5 285.0,82.5 285.3,82.5 285.6,82.5 285.9,82.5 286.3,82.5 286.6,82.5 286.9,82.5 287.2,82.5 287.5,82.5 287.8,82.5 288.1,82.5 288.5,82.5 288.8,82.5 289.1,82.5 289.4,82.5 289.7,82.5 290.0,82.5 290.3,82.5 290.6,82.5 291.0,82.5 291.3,82.5 291.6,82.5 291.9,82.5 292.2,82.5 292.5,82.5 292.8,82.5 293.2,82.5 293.5,82.5 293.8,82.5 294.1,82.5 294.4,82.5 294.7,82.5 295.0,82.5 295.4,82.5 295.7,82.5 296.0,82.5 296.3,82.5 296.6,82.5 296.9,82.5 297.2,82.5 297.6,82.5 297.9,82.5 298.2,82.5 298.5,82.5 298.8,82.5 299.1,82.5 299.4,82.5 299.8,82.5 300.1,82.5 300.4,82.5 300.7,82.5 301.0,82.5 301.3,82.5 301.6,82.5 301.9,82.5 302.3,82.5 302.6,82.5 302.9,82.5 303.2,82.5 303.5,82.5 303.8,82.5 304.1,82.5 304.5,82.5 304.8,82.5 305.1,82.5 305.4,82.5 305.7,82.5 306.0,82.5 306.3,82.5 306.7,82.5 307.0,82.5 307.3,82.5 307.6,82.5 307.9,82.5 308.2,82.5 308.5,82.5 308.9,82.5 309.2,82.5 309.5,82.5 309.8,82.3" fill="none" stroke="#c9c9c9" stroke-width="1.15" stroke-linejoin="round" stroke-linecap="round"/>
<polyline points="372.9,82.4 373.2,82.5 373.5,82.5 373.8,82.5 374.1,82.5 374.4,82.5 374.8,82.5 375.1,82.5 375.4,82.5 375.7,82.5 376.0,82.5 376.3,82.5 376.6,82.5 377.0,82.5 377.3,82.5 377.6,82.5 377.9,82.5 378.2,82.5 378.5,82.5 378.8,82.5 379.2,82.5 379.5,82.5 379.8,82.5 380.1,82.5 380.4,82.5 380.7,82.5 381.0,82.5 381.4,82.5 381.7,82.5 382.0,82.5 382.3,82.5 382.6,82.5 382.9,82.5 383.2,82.5 383.5,82.5" fill="none" stroke="#c9c9c9" stroke-width="1.15" stroke-linejoin="round" stroke-linecap="round"/>
<path d="M284.40,19.40V85.70H383.70" fill="none" stroke="#9c9c9c" stroke-width="1.25"/>
<path d="M284.40,85.70h1.2M284.40,63.77h1.2M284.40,41.83h1.2M284.40,19.90h1.2M284.40,85.70v-1.2M308.88,85.70v-1.2M333.64,85.70v-1.2M358.67,85.70v-1.2M383.70,85.70v-1.2" stroke="#9c9c9c" stroke-width="0.9" fill="none"/>
<polyline points="428.0,81.5 428.3,80.7 428.6,80.1 429.0,79.2 429.3,78.3 429.6,77.5 429.9,76.8 430.2,76.7 430.5,76.4 430.8,76.4 431.1,76.1 431.5,76.0 431.8,76.1 432.1,76.3 432.4,76.3 432.7,76.3 433.0,76.2 433.3,76.1 433.7,75.9 434.0,75.7 434.3,75.4 434.6,74.9 434.9,74.7 435.2,74.1 435.5,74.2 435.9,73.9 436.2,74.0 436.5,73.7 436.8,73.6 437.1,73.4 437.4,73.2 437.7,72.9 438.1,72.3 438.4,71.8 438.7,70.7 439.0,70.6 439.3,69.7 439.6,69.4 439.9,69.2 440.3,69.5 440.6,69.8 440.9,70.2 441.2,70.7 441.5,71.6 441.8,71.9 442.1,72.1 442.4,72.3 442.8,72.2 443.1,72.2 443.4,71.9 443.7,71.5 444.0,71.2 444.3,70.6 444.6,70.9 445.0,71.4 445.3,71.9 445.6,72.3 445.9,72.5 446.2,72.8 446.5,72.8 446.8,72.8 447.2,72.9 447.5,73.1 447.8,73.4 448.1,73.9 448.4,74.2 448.7,74.2 449.0,74.4 449.4,74.2 449.7,74.4 450.0,74.4 450.3,74.4 450.6,74.4 450.9,74.3 451.2,74.1 451.5,74.0 451.9,74.1 452.2,74.4 452.5,74.6 452.8,75.1 453.1,75.0 453.4,74.4 453.7,74.0 454.1,74.2 454.4,74.6 454.7,74.4 455.0,73.8 455.3,73.8 455.6,73.8 455.9,73.9 456.3,73.8 456.6,74.2 456.9,74.5 457.2,74.6 457.5,74.7 457.8,74.9 458.1,75.3 458.5,75.5 458.8,74.8 459.1,73.6 459.4,73.0 459.7,72.6 460.0,72.9 460.3,72.2 460.7,71.8 461.0,71.4 461.3,71.5 461.6,71.3 461.9,71.4 462.2,71.2 462.5,71.3 462.8,71.8 463.2,72.5 463.5,72.3 463.8,71.6 464.1,70.6 464.4,70.3 464.7,71.0 465.0,71.1 465.4,71.5 465.7,70.5 466.0,70.1 466.3,69.3 466.6,68.8 466.9,68.0 467.2,67.4 467.6,67.6 467.9,67.4 468.2,67.2 468.5,66.1 468.8,67.0 469.1,67.5 469.4,68.7 469.8,69.8 470.1,71.3 470.4,72.5 470.7,73.2 471.0,73.6 471.3,73.6 471.6,72.6 471.9,71.7 472.3,71.1 472.6,70.7 472.9,70.7 473.2,70.6 473.5,70.6 473.8,70.2 474.1,69.9 474.5,70.2 474.8,71.0 475.1,71.3 475.4,71.5 475.7,71.4 476.0,71.1 476.3,70.0 476.7,70.0 477.0,69.7 477.3,70.1 477.6,70.5 477.9,71.0 478.2,71.3 478.5,71.8 478.9,71.8 479.2,71.9 479.5,71.8 479.8,72.2 480.1,72.6 480.4,73.3 480.7,73.5 481.1,73.9 481.4,73.8 481.7,74.2 482.0,74.4 482.3,75.0 482.6,75.3 482.9,75.5 483.2,75.6 483.6,76.0 483.9,76.5 484.2,76.8 484.5,77.1 484.8,77.9 485.1,78.4 485.4,79.0 485.8,79.2 486.1,79.6 486.4,80.0 486.7,80.4 487.0,80.8 487.3,81.2 487.6,81.5 488.0,81.9 488.3,82.0 488.6,82.1 488.9,82.3 489.2,82.4" fill="none" stroke="#ff0000" stroke-width="1.2" stroke-linejoin="round" stroke-linecap="round"/>
<polygon points="402.0,72.7 402.3,73.8 402.6,75.2 402.9,74.8 403.2,75.7 403.5,76.6 403.8,76.8 404.2,77.7 404.5,77.9 404.8,78.8 405.1,79.1 405.4,79.5 405.7,80.3 406.0,80.7 406.4,81.2 406.7,81.7 407.0,81.9 407.3,82.2 407.6,82.4 407.9,82.5 408.2,82.5 408.6,82.5 408.9,82.5 409.2,82.5 409.5,82.5 409.8,82.5 410.1,82.5 410.4,82.5 410.7,82.5 411.1,82.5 411.4,82.5 411.7,82.5 412.0,82.5 412.3,82.5 412.6,82.5 412.9,82.5 413.3,82.5 413.6,82.5 413.9,82.5 414.2,82.5 414.5,82.5 414.8,82.5 415.1,82.5 415.5,82.5 415.8,82.5 416.1,82.5 416.4,82.5 416.7,82.5 417.0,82.5 417.3,82.5 417.7,82.5 418.0,82.5 418.3,82.5 418.6,82.5 418.9,82.5 419.2,82.5 419.5,82.5 419.9,82.5 420.2,82.5 420.5,82.5 420.8,82.5 421.1,82.5 421.4,82.5 421.7,82.5 422.0,82.5 422.4,82.5 422.7,82.5 423.0,82.5 423.3,82.5 423.6,82.5 423.9,82.5 424.2,82.5 424.6,82.5 424.9,82.5 425.2,82.5 425.5,82.5 425.8,82.5 426.1,82.5 426.4,82.5 426.8,82.5 427.1,82.5 427.4,82.5 427.7,82.0 428.0,81.4 428.3,80.7 428.6,80.0 429.0,78.9 429.3,78.2 429.6,77.2 429.9,76.8 430.2,76.4 430.5,76.3 430.8,76.4 431.1,75.1 431.5,75.5 431.8,74.8 432.1,75.9 432.4,75.4 432.7,75.7 433.0,75.8 433.3,76.1 433.7,75.1 434.0,74.6 434.3,74.0 434.6,74.3 434.9,73.5 435.2,73.4 435.5,73.4 435.9,73.5 436.2,72.7 436.5,73.2 436.8,73.6 437.1,71.7 437.4,73.0 437.7,72.9 438.1,71.1 438.4,71.4 438.7,69.4 439.0,69.7 439.3,68.5 439.6,68.2 439.9,66.8 440.3,66.5 440.6,67.0 440.9,67.8 441.2,68.9 441.5,69.7 441.8,69.6 442.1,70.8 442.4,71.5 442.8,69.6 443.1,70.9 443.4,70.1 443.7,69.8 444.0,69.7 444.3,70.1 444.6,70.3 445.0,71.0 445.3,70.2 445.6,71.8 445.9,70.9 446.2,72.0 446.5,72.4 446.8,71.3 447.2,72.9 447.5,73.1 447.8,72.6 448.1,73.4 448.4,73.3 448.7,73.5 449.0,73.5 449.4,73.5 449.7,74.2 450.0,74.2 450.3,73.8 450.6,74.4 450.9,74.1 451.2,73.9 451.5,73.2 451.9,74.1 452.2,74.4 452.5,72.9 452.8,73.5 453.1,73.8 453.4,74.4 453.7,74.0 454.1,73.7 454.4,73.9 454.7,73.9 455.0,72.7 455.3,73.4 455.6,72.7 455.9,72.7 456.3,72.7 456.6,72.5 456.9,73.0 457.2,73.8 457.5,74.2 457.8,74.2 458.1,75.1 458.5,74.7 458.8,73.5 459.1,73.1 459.4,72.4 459.7,71.8 460.0,72.3 460.3,71.7 460.7,71.7 461.0,71.3 461.3,70.7 461.6,71.3 461.9,70.4 462.2,70.9 462.5,70.3 462.8,71.2 463.2,71.2 463.5,71.1 463.8,71.5 464.1,70.6 464.4,70.2 464.7,69.8 465.0,70.7 465.4,70.6 465.7,69.8 466.0,69.5 466.3,68.7 466.6,67.7 466.9,68.0 467.2,66.7 467.6,66.2 467.9,66.7 468.2,64.8 468.5,63.7 468.8,64.2 469.1,66.5 469.4,67.4 469.8,68.8 470.1,69.9 470.4,70.6 470.7,72.1 471.0,71.2 471.3,72.3 471.6,71.3 471.9,71.1 472.3,70.6 472.6,70.7 472.9,67.9 473.2,70.6 473.5,69.0 473.8,69.7 474.1,69.9 474.5,69.1 474.8,69.8 475.1,70.4 475.4,70.3 475.7,70.1 476.0,70.3 476.3,69.9 476.7,68.3 477.0,69.7 477.3,68.8 477.6,67.4 477.9,69.1 478.2,71.3 478.5,71.7 478.9,71.0 479.2,69.9 479.5,71.0 479.8,71.9 480.1,71.7 480.4,71.7 480.7,71.8 481.1,73.1 481.4,72.9 481.7,73.6 482.0,74.0 482.3,74.8 482.6,74.4 482.9,74.8 483.2,74.3 483.6,75.9 483.9,76.3 484.2,76.4 484.5,76.2 484.8,77.2 485.1,77.9 485.4,78.9 485.8,79.0 486.1,79.5 486.4,80.0 486.7,80.4 487.0,80.6 487.3,81.0 487.6,81.4 488.0,81.8 488.3,81.9 488.6,82.1 488.9,82.2 489.2,82.4 489.5,82.5 489.8,82.5 490.2,82.5 490.5,82.5 490.8,82.5 491.1,82.5 491.4,82.5 491.7,82.5 492.0,82.5 492.3,82.5 492.7,82.5 493.0,82.5 493.3,82.5 493.6,82.5 493.9,82.5 494.2,82.5 494.5,82.5 494.9,82.5 495.2,82.5 495.5,82.5 495.8,82.5 496.1,82.5 496.4,82.5 496.7,82.5 497.1,82.5 497.4,82.5 497.7,82.5 498.0,82.5 498.3,82.5 498.6,82.5 498.9,82.5 499.3,82.5 499.6,82.5 499.9,82.5 500.2,82.5 500.5,82.5 500.8,82.5 501.1,82.5 501.1,82.5 500.8,82.5 500.5,82.5 500.2,82.5 499.9,82.5 499.6,82.5 499.3,82.5 498.9,82.5 498.6,82.5 498.3,82.5 498.0,82.5 497.7,82.5 497.4,82.5 497.1,82.5 496.7,82.5 496.4,82.5 496.1,82.5 495.8,82.5 495.5,82.5 495.2,82.5 494.9,82.5 494.5,82.5 494.2,82.5 493.9,82.5 493.6,82.5 493.3,82.5 493.0,82.5 492.7,82.5 492.3,82.5 492.0,82.5 491.7,82.5 491.4,82.5 491.1,82.5 490.8,82.5 490.5,82.5 490.2,82.5 489.8,82.5 489.5,82.5 489.2,82.4 488.9,82.3 488.6,82.2 488.3,82.0 488.0,81.9 487.6,81.6 487.3,81.2 487.0,80.8 486.7,80.4 486.4,80.0 486.1,79.5 485.8,79.4 485.4,79.4 485.1,79.0 484.8,78.2 484.5,77.3 484.2,76.9 483.9,76.4 483.6,75.9 483.2,75.5 482.9,75.2 482.6,75.1 482.3,74.8 482.0,74.0 481.7,73.8 481.4,73.4 481.1,73.8 480.7,73.5 480.4,73.5 480.1,72.8 479.8,72.3 479.5,71.8 479.2,71.9 478.9,71.7 478.5,71.7 478.2,71.3 477.9,71.1 477.6,70.6 477.3,70.4 477.0,69.7 476.7,69.9 476.3,69.9 476.0,70.7 475.7,71.4 475.4,71.4 475.1,71.4 474.8,70.9 474.5,70.1 474.1,69.9 473.8,70.3 473.5,70.8 473.2,70.8 472.9,70.8 472.6,70.7 472.3,71.0 471.9,71.4 471.6,72.4 471.3,73.6 471.0,73.8 470.7,73.6 470.4,72.8 470.1,71.5 469.8,70.0 469.4,68.8 469.1,67.6 468.8,67.1 468.5,66.3 468.2,67.4 467.9,67.3 467.6,67.8 467.2,68.1 466.9,68.9 466.6,69.6 466.3,69.4 466.0,70.2 465.7,70.3 465.4,71.6 465.0,71.1 464.7,71.0 464.4,70.2 464.1,70.6 463.8,71.6 463.5,72.5 463.2,72.7 462.8,71.9 462.5,71.3 462.2,71.5 461.9,71.6 461.6,71.5 461.3,71.6 461.0,71.5 460.7,72.3 460.3,72.7 460.0,73.5 459.7,72.8 459.4,73.1 459.1,73.3 458.8,74.5 458.5,75.4 458.1,75.7 457.8,75.3 457.5,75.1 457.2,74.6 456.9,74.7 456.6,74.2 456.3,73.7 455.9,73.8 455.6,73.8 455.3,73.6 455.0,73.8 454.7,74.4 454.4,74.7 454.1,74.0 453.7,74.0 453.4,74.5 453.1,75.0 452.8,75.3 452.5,74.8 452.2,74.5 451.9,74.3 451.5,74.0 451.2,74.1 450.9,74.1 450.6,74.4 450.3,74.3 450.0,74.5 449.7,74.6 449.4,74.2 449.0,74.0 448.7,73.9 448.4,74.2 448.1,74.3 447.8,74.0 447.5,73.5 447.2,73.2 446.8,73.1 446.5,73.3 446.2,73.0 445.9,72.5 445.6,72.4 445.3,72.3 445.0,71.7 444.6,71.2 444.3,70.9 444.0,71.3 443.7,71.6 443.4,71.7 443.1,72.2 442.8,72.2 442.4,72.0 442.1,72.0 441.8,71.8 441.5,72.1 441.2,71.0 440.9,70.3 440.6,69.8 440.3,69.7 439.9,69.3 439.6,69.5 439.3,69.8 439.0,70.7 438.7,70.9 438.4,72.1 438.1,72.6 437.7,72.9 437.4,73.0 437.1,73.0 436.8,73.6 436.5,73.6 436.2,74.0 435.9,74.1 435.5,74.7 435.2,74.3 434.9,75.0 434.6,75.0 434.3,75.4 434.0,75.6 433.7,75.8 433.3,76.1 433.0,76.2 432.7,76.5 432.4,76.7 432.1,76.4 431.8,76.3 431.5,76.1 431.1,76.4 430.8,76.6 430.5,76.6 430.2,76.8 429.9,77.0 429.6,77.4 429.3,78.2 429.0,78.9 428.6,80.0 428.3,80.7 428.0,81.5 427.7,82.1 427.4,82.5 427.1,82.5 426.8,82.5 426.4,82.5 426.1,82.5 425.8,82.5 425.5,82.5 425.2,82.5 424.9,82.5 424.6,82.5 424.2,82.5 423.9,82.5 423.6,82.5 423.3,82.5 423.0,82.5 422.7,82.5 422.4,82.5 422.0,82.5 421.7,82.5 421.4,82.5 421.1,82.5 420.8,82.5 420.5,82.5 420.2,82.5 419.9,82.5 419.5,82.5 419.2,82.5 418.9,82.5 418.6,82.5 418.3,82.5 418.0,82.5 417.7,82.5 417.3,82.5 417.0,82.5 416.7,82.5 416.4,82.5 416.1,82.5 415.8,82.5 415.5,82.5 415.1,82.5 414.8,82.5 414.5,82.5 414.2,82.5 413.9,82.5 413.6,82.5 413.3,82.5 412.9,82.5 412.6,82.5 412.3,82.5 412.0,82.5 411.7,82.5 411.4,82.5 411.1,82.5 410.7,82.5 410.4,82.5 410.1,82.5 409.8,82.5 409.5,82.5 409.2,82.5 408.9,82.5 408.6,82.5 408.2,82.5 407.9,82.5 407.6,82.4 407.3,82.2 407.0,81.9 406.7,81.8 406.4,81.4 406.0,81.0 405.7,80.4 405.4,79.9 405.1,79.4 404.8,79.0 404.5,78.2 404.2,77.7 403.8,76.8 403.5,76.7 403.2,75.8 402.9,75.5 402.6,75.2 402.3,74.7 402.0,74.0" fill="#c9c9c9"/>
<polyline points="402.0,72.7 402.3,73.8 402.6,75.2 402.9,74.8 403.2,75.7 403.5,76.6 403.8,76.8 404.2,77.7 404.5,77.9 404.8,78.8 405.1,79.1 405.4,79.5 405.7,80.3 406.0,80.7 406.4,81.2 406.7,81.7 407.0,81.9 407.3,82.2 407.6,82.4 407.9,82.5 408.2,82.5 408.6,82.5 408.9,82.5 409.2,82.5 409.5,82.5 409.8,82.5 410.1,82.5 410.4,82.5 410.7,82.5 411.1,82.5 411.4,82.5 411.7,82.5 412.0,82.5 412.3,82.5 412.6,82.5 412.9,82.5 413.3,82.5 413.6,82.5 413.9,82.5 414.2,82.5 414.5,82.5 414.8,82.5 415.1,82.5 415.5,82.5 415.8,82.5 416.1,82.5 416.4,82.5 416.7,82.5 417.0,82.5 417.3,82.5 417.7,82.5 418.0,82.5 418.3,82.5 418.6,82.5 418.9,82.5 419.2,82.5 419.5,82.5 419.9,82.5 420.2,82.5 420.5,82.5 420.8,82.5 421.1,82.5 421.4,82.5 421.7,82.5 422.0,82.5 422.4,82.5 422.7,82.5 423.0,82.5 423.3,82.5 423.6,82.5 423.9,82.5 424.2,82.5 424.6,82.5 424.9,82.5 425.2,82.5 425.5,82.5 425.8,82.5 426.1,82.5 426.4,82.5 426.8,82.5 427.1,82.5 427.4,82.5 427.7,82.0 428.0,81.4 428.3,80.7 428.6,80.0 429.0,78.9 429.3,78.2 429.6,77.2 429.9,76.8 430.2,76.4 430.5,76.3 430.8,76.4 431.1,75.1 431.5,75.5 431.8,74.8 432.1,75.9 432.4,75.4 432.7,75.7 433.0,75.8 433.3,76.1 433.7,75.1 434.0,74.6 434.3,74.0 434.6,74.3 434.9,73.5 435.2,73.4 435.5,73.4 435.9,73.5 436.2,72.7 436.5,73.2 436.8,73.6 437.1,71.7 437.4,73.0 437.7,72.9 438.1,71.1 438.4,71.4 438.7,69.4 439.0,69.7 439.3,68.5 439.6,68.2 439.9,66.8 440.3,66.5 440.6,67.0 440.9,67.8 441.2,68.9 441.5,69.7 441.8,69.6 442.1,70.8 442.4,71.5 442.8,69.6 443.1,70.9 443.4,70.1 443.7,69.8 444.0,69.7 444.3,70.1 444.6,70.3 445.0,71.0 445.3,70.2 445.6,71.8 445.9,70.9 446.2,72.0 446.5,72.4 446.8,71.3 447.2,72.9 447.5,73.1 447.8,72.6 448.1,73.4 448.4,73.3 448.7,73.5 449.0,73.5 449.4,73.5 449.7,74.2 450.0,74.2 450.3,73.8 450.6,74.4 450.9,74.1 451.2,73.9 451.5,73.2 451.9,74.1 452.2,74.4 452.5,72.9 452.8,73.5 453.1,73.8 453.4,74.4 453.7,74.0 454.1,73.7 454.4,73.9 454.7,73.9 455.0,72.7 455.3,73.4 455.6,72.7 455.9,72.7 456.3,72.7 456.6,72.5 456.9,73.0 457.2,73.8 457.5,74.2 457.8,74.2 458.1,75.1 458.5,74.7 458.8,73.5 459.1,73.1 459.4,72.4 459.7,71.8 460.0,72.3 460.3,71.7 460.7,71.7 461.0,71.3 461.3,70.7 461.6,71.3 461.9,70.4 462.2,70.9 462.5,70.3 462.8,71.2 463.2,71.2 463.5,71.1 463.8,71.5 464.1,70.6 464.4,70.2 464.7,69.8 465.0,70.7 465.4,70.6 465.7,69.8 466.0,69.5 466.3,68.7 466.6,67.7 466.9,68.0 467.2,66.7 467.6,66.2 467.9,66.7 468.2,64.8 468.5,63.7 468.8,64.2 469.1,66.5 469.4,67.4 469.8,68.8 470.1,69.9 470.4,70.6 470.7,72.1 471.0,71.2 471.3,72.3 471.6,71.3 471.9,71.1 472.3,70.6 472.6,70.7 472.9,67.9 473.2,70.6 473.5,69.0 473.8,69.7 474.1,69.9 474.5,69.1 474.8,69.8 475.1,70.4 475.4,70.3 475.7,70.1 476.0,70.3 476.3,69.9 476.7,68.3 477.0,69.7 477.3,68.8 477.6,67.4 477.9,69.1 478.2,71.3 478.5,71.7 478.9,71.0 479.2,69.9 479.5,71.0 479.8,71.9 480.1,71.7 480.4,71.7 480.7,71.8 481.1,73.1 481.4,72.9 481.7,73.6 482.0,74.0 482.3,74.8 482.6,74.4 482.9,74.8 483.2,74.3 483.6,75.9 483.9,76.3 484.2,76.4 484.5,76.2 484.8,77.2 485.1,77.9 485.4,78.9 485.8,79.0 486.1,79.5 486.4,80.0 486.7,80.4 487.0,80.6 487.3,81.0 487.6,81.4 488.0,81.8 488.3,81.9 488.6,82.1 488.9,82.2 489.2,82.4 489.5,82.5 489.8,82.5 490.2,82.5 490.5,82.5 490.8,82.5 491.1,82.5 491.4,82.5 491.7,82.5 492.0,82.5 492.3,82.5 492.7,82.5 493.0,82.5 493.3,82.5 493.6,82.5 493.9,82.5 494.2,82.5 494.5,82.5 494.9,82.5 495.2,82.5 495.5,82.5 495.8,82.5 496.1,82.5 496.4,82.5 496.7,82.5 497.1,82.5 497.4,82.5 497.7,82.5 498.0,82.5 498.3,82.5 498.6,82.5 498.9,82.5 499.3,82.5 499.6,82.5 499.9,82.5 500.2,82.5 500.5,82.5 500.8,82.5 501.1,82.5" fill="none" stroke="#c9c9c9" stroke-width="1.3" stroke-linejoin="round" stroke-linecap="round"/>
<polyline points="402.0,72.7 402.3,73.8 402.6,75.2 402.9,74.8 403.2,75.7 403.5,76.6 403.8,76.8 404.2,77.7 404.5,77.9 404.8,78.8 405.1,79.1 405.4,79.5 405.7,80.3 406.0,80.7 406.4,81.2 406.7,81.7 407.0,81.9 407.3,82.2 407.6,82.4 407.9,82.5 408.2,82.5 408.6,82.5 408.9,82.5 409.2,82.5 409.5,82.5 409.8,82.5 410.1,82.5 410.4,82.5 410.7,82.5 411.1,82.5 411.4,82.5 411.7,82.5 412.0,82.5 412.3,82.5 412.6,82.5 412.9,82.5 413.3,82.5 413.6,82.5 413.9,82.5 414.2,82.5 414.5,82.5 414.8,82.5 415.1,82.5 415.5,82.5 415.8,82.5 416.1,82.5 416.4,82.5 416.7,82.5 417.0,82.5 417.3,82.5 417.7,82.5 418.0,82.5 418.3,82.5 418.6,82.5 418.9,82.5 419.2,82.5 419.5,82.5 419.9,82.5 420.2,82.5 420.5,82.5 420.8,82.5 421.1,82.5 421.4,82.5 421.7,82.5 422.0,82.5 422.4,82.5 422.7,82.5 423.0,82.5 423.3,82.5 423.6,82.5 423.9,82.5 424.2,82.5 424.6,82.5 424.9,82.5 425.2,82.5 425.5,82.5 425.8,82.5 426.1,82.5 426.4,82.5 426.8,82.5 427.1,82.5 427.4,82.5 427.7,82.0" fill="none" stroke="#c9c9c9" stroke-width="1.15" stroke-linejoin="round" stroke-linecap="round"/>
<polyline points="489.5,82.5 489.8,82.5 490.2,82.5 490.5,82.5 490.8,82.5 491.1,82.5 491.4,82.5 491.7,82.5 492.0,82.5 492.3,82.5 492.7,82.5 493.0,82.5 493.3,82.5 493.6,82.5 493.9,82.5 494.2,82.5 494.5,82.5 494.9,82.5 495.2,82.5 495.5,82.5 495.8,82.5 496.1,82.5 496.4,82.5 496.7,82.5 497.1,82.5 497.4,82.5 497.7,82.5 498.0,82.5 498.3,82.5 498.6,82.5 498.9,82.5 499.3,82.5 499.6,82.5 499.9,82.5 500.2,82.5 500.5,82.5 500.8,82.5 501.1,82.5" fill="none" stroke="#c9c9c9" stroke-width="1.15" stroke-linejoin="round" stroke-linecap="round"/>
<path d="M402.00,19.40V85.70H501.30" fill="none" stroke="#9c9c9c" stroke-width="1.25"/>
<path d="M402.00,85.70h1.2M402.00,63.77h1.2M402.00,41.83h1.2M402.00,19.90h1.2M402.00,85.70v-1.2M426.48,85.70v-1.2M451.24,85.70v-1.2M476.27,85.70v-1.2M501.30,85.70v-1.2" stroke="#9c9c9c" stroke-width="0.9" fill="none"/>
<polyline points="82.4,154.4 82.9,154.5 83.4,155.2 83.9,156.5 84.4,156.4 84.9,157.2 85.4,157.7 85.9,157.2 86.3,157.7 86.8,158.1 87.3,158.4 87.8,158.5 88.3,158.9 88.8,159.5 89.3,160.1 89.8,160.2 90.3,160.7 90.8,160.5 91.3,159.4 91.7,160.2 92.2,161.4 92.7,163.2 93.2,162.2 93.7,161.9 94.2,160.9 94.7,162.4 95.2,163.4 95.7,163.1 96.2,162.9 96.6,163.2 97.1,163.9 97.6,163.6 98.1,162.7 98.6,163.5 99.1,162.9 99.6,162.7 100.1,162.5 100.6,162.8 101.1,164.4 101.6,164.0 102.0,164.7 102.5,164.5 103.0,165.0 103.5,165.6 104.0,165.1 104.5,165.1 105.0,164.2 105.5,164.7 106.0,164.8 106.5,165.1 106.9,165.1 107.4,164.5 107.9,164.3 108.4,163.2 108.9,162.1 109.4,163.3 109.9,163.1 110.4,163.7 110.9,163.8 111.4,163.7 111.8,163.1 112.3,161.7 112.8,161.1 113.3,160.5 113.8,161.2 114.3,161.7 114.8,160.9 115.3,161.7 115.8,162.2 116.3,161.7 116.8,160.9 117.2,159.8 117.7,158.5 118.2,159.1 118.7,158.6 119.2,159.4 119.7,159.7 120.2,159.5 120.7,159.5 121.2,158.1 121.7,157.9 122.1,158.0 122.6,159.8 123.1,160.5 123.6,159.6 124.1,158.4 124.6,158.2 125.1,158.0 125.6,158.9 126.1,159.6 126.6,158.9 127.1,158.4 127.5,156.7 128.0,157.5 128.5,157.6 129.0,157.1 129.5,157.2 130.0,156.0 130.5,155.2 131.0,154.9 131.5,155.2 132.0,155.5 132.4,155.1 132.9,155.7 133.4,155.8 133.9,154.8 134.4,155.7 134.9,155.6 135.4,154.8 135.9,155.0 136.4,154.6 136.9,155.7 137.3,156.1 137.8,156.1 138.3,155.9 138.8,155.3 139.3,157.4 139.8,157.6 140.3,157.2 140.8,157.8 141.3,158.4 141.8,158.2 142.3,158.7 142.7,160.2 143.2,160.2 143.7,160.5 144.2,159.5 144.7,158.0 145.2,159.8 145.7,159.1 146.2,158.7 146.7,159.0 147.2,158.5 147.6,158.7 148.1,159.4 148.6,159.6" fill="none" stroke="#111111" stroke-width="1.65" stroke-linejoin="round" stroke-linecap="round"/>
<polyline points="49.6,138.7 50.1,138.1 50.5,137.6 51.0,137.2 51.5,137.1 52.0,137.1 52.5,138.4 53.0,136.9 53.5,137.7 54.0,136.8 54.5,138.3 55.0,137.4 55.5,137.1 55.9,136.3 56.4,137.4 56.9,137.2 57.4,136.8 57.9,136.3 58.4,136.8 58.9,137.5 59.4,136.9 59.9,137.4 60.4,137.3 60.8,136.4 61.3,136.3 61.8,136.7 62.3,136.4 62.8,136.2 63.3,137.5 63.8,137.7 64.3,137.0 64.8,137.5 65.3,137.0 65.8,136.3 66.2,136.3 66.7,136.4 67.2,137.7 67.7,137.9 68.2,137.7 68.7,137.9 69.2,137.1 69.7,136.3 70.2,136.3 70.7,136.5 71.1,136.4 71.6,136.5 72.1,136.6 72.6,137.4 73.1,138.3 73.6,138.0 74.1,138.4 74.6,137.8 75.1,137.9 75.6,137.5 76.0,137.9 76.5,137.4 77.0,137.4 77.5,137.5 78.0,136.9 78.5,137.8 79.0,137.3 79.5,137.7 80.0,136.7 80.5,137.7 81.0,137.4 81.4,138.3 81.9,138.2 82.4,138.1 82.9,138.9 83.4,140.1 83.9,140.4 84.4,139.9 84.9,140.3 85.4,140.3 85.9,139.5 86.3,140.5 86.8,140.5 87.3,141.8 87.8,141.3 88.3,140.6 88.8,141.4 89.3,141.8 89.8,141.4 90.3,140.9 90.8,141.5 91.3,140.0 91.7,140.6 92.2,141.4 92.7,142.1 93.2,141.9 93.7,140.7 94.2,140.3 94.7,141.7 95.2,141.6 95.7,142.1 96.2,140.9 96.6,141.2 97.1,140.5 97.6,141.3 98.1,141.1 98.6,141.6 99.1,141.8 99.6,141.2 100.1,141.6 100.6,141.7 101.1,142.5 101.6,141.7 102.0,141.0 102.5,141.7 103.0,142.8 103.5,143.7 104.0,143.2 104.5,143.3 105.0,141.7 105.5,142.0 106.0,142.1 106.5,142.7 106.9,141.4 107.4,140.7 107.9,141.7 108.4,141.2 108.9,140.2 109.4,140.8 109.9,141.4 110.4,141.4 110.9,141.4 111.4,140.9 111.8,140.2 112.3,139.6 112.8,139.3 113.3,138.8 113.8,139.8 114.3,140.8 114.8,141.0 115.3,141.5 115.8,141.5 116.3,142.0 116.8,142.3 117.2,142.1 117.7,141.2 118.2,141.7 118.7,141.4 119.2,140.6 119.7,141.7 120.2,141.4 120.7,141.9 121.2,140.4 121.7,140.9 122.1,140.8 122.6,141.3 123.1,140.6 123.6,141.4 124.1,140.2 124.6,140.8 125.1,141.7 125.6,141.4 126.1,141.5 126.6,140.0 127.1,140.4 127.5,140.0 128.0,140.5 128.5,140.3 129.0,139.2 129.5,138.9 130.0,138.5 130.5,139.1 131.0,138.9 131.5,139.4 132.0,138.3 132.4,139.0 132.9,139.7 133.4,140.1 133.9,139.5 134.4,139.9 134.9,139.7 135.4,138.8 135.9,138.3 136.4,139.6 136.9,140.1 137.3,140.7 137.8,140.7 138.3,140.7 138.8,140.4 139.3,140.3 139.8,139.6 140.3,140.9 140.8,141.9 141.3,142.2 141.8,141.8 142.3,141.1 142.7,140.5 143.2,140.7 143.7,141.9 144.2,141.3 144.7,140.3 145.2,141.1 145.7,141.2 146.2,143.1 146.7,141.5 147.2,142.0 147.6,142.3 148.1,142.1 148.6,143.5" fill="none" stroke="#ff0000" stroke-width="1.45" stroke-linejoin="round" stroke-linecap="round"/>
<polyline points="49.6,138.3 50.1,137.6 50.5,136.9 51.0,137.0 51.5,138.6 52.0,138.8 52.5,138.4 53.0,138.5 53.5,139.8 54.0,140.1 54.5,141.1 55.0,140.6 55.5,140.3 55.9,139.9 56.4,140.3 56.9,140.6 57.4,141.6 57.9,141.5 58.4,140.8 58.9,140.8 59.4,141.5 59.9,141.6 60.4,141.9 60.8,141.9 61.3,142.2 61.8,142.5 62.3,141.9 62.8,143.0 63.3,144.1 63.8,144.7 64.3,144.0 64.8,144.1 65.3,145.8 65.8,146.0 66.2,146.0 66.7,146.4 67.2,146.2 67.7,146.3 68.2,145.4 68.7,146.5 69.2,147.1 69.7,147.0 70.2,146.2 70.7,146.6 71.1,147.2 71.6,147.6 72.1,148.5 72.6,149.2 73.1,150.5 73.6,150.4 74.1,150.6 74.6,150.0 75.1,150.3 75.6,149.7 76.0,150.3 76.5,150.9 77.0,150.6 77.5,151.6 78.0,151.2 78.5,153.0 79.0,153.0 79.5,154.1 80.0,152.8 80.5,152.9 81.0,153.1 81.4,153.2 81.9,153.9 82.4,154.1 82.9,154.2 83.4,154.8 83.9,156.2 84.4,155.9 84.9,156.8 85.4,157.0 85.9,155.6 86.3,156.3 86.8,156.7 87.3,157.2 87.8,156.3 88.3,157.7 88.8,157.6 89.3,158.5 89.8,158.4 90.3,158.0 90.8,158.4 91.3,156.9 91.7,158.7 92.2,159.3 92.7,161.1 93.2,160.4 93.7,159.1 94.2,158.9 94.7,160.3 95.2,160.7 95.7,160.8 96.2,160.2 96.6,159.9 97.1,160.8 97.6,160.7 98.1,160.8 98.6,160.4 99.1,160.3 99.6,160.9 100.1,160.8 100.6,160.6 101.1,160.4 101.6,160.6 102.0,160.4 102.5,161.4 103.0,161.5 103.5,164.0 104.0,162.8 104.5,162.8 105.0,161.2 105.5,161.1 106.0,161.4 106.5,162.4 106.9,161.6 107.4,160.7 107.9,160.6 108.4,159.9 108.9,158.5 109.4,159.6 109.9,160.3 110.4,160.2 110.9,159.8 111.4,158.7 111.8,158.6 112.3,156.1 112.8,156.1 113.3,156.2 113.8,157.5 114.3,157.3 114.8,157.5 115.3,157.8 115.8,156.9 116.3,158.2 116.8,155.8 117.2,155.7 117.7,155.0 118.2,154.1 118.7,153.6 119.2,154.3 119.7,153.9 120.2,153.7 120.7,153.4 121.2,152.6 121.7,152.7 122.1,152.2 122.6,154.1 123.1,154.4 123.6,154.4 124.1,153.3 124.6,154.3 125.1,153.5 125.6,155.4 126.1,154.8 126.6,154.1 127.1,153.3 127.5,152.6 128.0,152.7 128.5,152.4 129.0,150.7 129.5,150.5 130.0,150.1 130.5,150.8 131.0,150.1 131.5,150.3 132.0,150.3 132.4,149.9 132.9,150.4 133.4,149.7 133.9,150.1 134.4,149.3 134.9,149.6 135.4,149.2 135.9,149.3 136.4,149.9 136.9,150.1 137.3,151.2 137.8,151.0 138.3,151.8 138.8,152.3 139.3,152.6 139.8,152.3 140.3,152.3 140.8,152.3 141.3,153.3 141.8,153.6 142.3,153.2 142.7,154.0 143.2,154.7 143.7,154.6 144.2,154.4 144.7,154.4 145.2,155.6 145.7,154.2 146.2,155.4 146.7,154.8 147.2,154.6 147.6,154.2 148.1,155.2 148.6,155.5" fill="none" stroke="#c9c9c9" stroke-width="1.55" stroke-linejoin="round" stroke-linecap="round"/>
<path d="M49.50,104.30V170.60H148.80" fill="none" stroke="#9c9c9c" stroke-width="1.25"/>
<path d="M49.50,170.60h1.2M49.50,148.67h1.2M49.50,126.73h1.2M49.50,104.80h1.2M49.50,170.60v-1.2M73.98,170.60v-1.2M98.74,170.60v-1.2M123.77,170.60v-1.2M148.80,170.60v-1.2" stroke="#9c9c9c" stroke-width="0.9" fill="none"/>
<polyline points="187.6,143.7 188.0,143.6 188.5,143.7 189.0,144.2 189.5,144.0 190.0,144.4 190.5,145.3 191.0,145.9 191.5,146.3 192.0,146.3 192.5,146.5 193.0,146.4 193.4,147.5 193.9,148.1 194.4,148.2 194.9,149.0 195.4,148.8 195.9,148.5 196.4,148.5 196.9,148.6 197.4,148.4 197.9,147.9 198.3,148.4 198.8,149.2 199.3,149.1 199.8,149.2 200.3,149.5 200.8,150.0 201.3,150.8 201.8,150.9 202.3,151.6 202.8,153.0 203.2,153.2 203.7,152.6 204.2,152.2 204.7,152.0 205.2,152.7 205.7,153.7 206.2,154.2 206.7,154.2 207.2,155.0 207.7,153.5 208.2,154.1 208.6,153.7 209.1,154.8 209.6,154.3 210.1,154.7 210.6,155.3 211.1,155.8 211.6,156.5 212.1,156.7 212.6,156.5 213.1,156.4 213.5,156.0 214.0,157.0 214.5,157.2 215.0,157.5 215.5,156.9 216.0,157.1 216.5,157.7 217.0,158.1 217.5,158.7 218.0,159.3 218.5,159.3 218.9,159.0 219.4,158.5 219.9,158.2 220.4,158.4 220.9,159.6 221.4,160.5 221.9,159.4 222.4,160.1 222.9,159.8 223.4,160.0 223.8,160.0 224.3,159.0 224.8,159.1 225.3,159.2 225.8,159.1 226.3,157.6 226.8,158.9 227.3,158.2 227.8,159.4 228.3,159.0 228.8,158.7 229.2,157.6 229.7,156.7 230.2,157.4 230.7,156.6 231.2,156.8 231.7,156.3 232.2,156.4 232.7,156.6 233.2,156.7 233.7,157.8 234.1,157.5 234.6,156.9 235.1,156.1 235.6,156.1 236.1,155.5 236.6,154.7 237.1,153.9 237.6,153.9 238.1,155.3 238.6,154.1 239.0,154.4 239.5,153.6 240.0,155.7 240.5,155.1 241.0,155.3 241.5,154.9 242.0,153.5 242.5,153.1 243.0,153.6 243.5,153.5 244.0,152.3 244.4,152.0 244.9,152.0 245.4,152.7 245.9,152.3 246.4,152.4 246.9,153.0 247.4,152.3 247.9,152.8 248.4,152.1 248.9,152.4 249.3,152.9 249.8,152.9 250.3,152.6 250.8,152.3 251.3,151.2 251.8,151.3 252.3,150.4 252.8,149.5 253.3,149.2 253.8,150.8 254.2,151.2 254.7,151.3 255.2,150.9 255.7,151.6 256.2,152.7 256.7,152.9 257.2,153.3 257.7,154.1 258.2,155.4 258.7,156.2 259.2,156.4 259.6,156.2 260.1,157.4 260.6,158.1 261.1,157.7 261.6,157.8 262.1,158.3 262.6,159.0 263.1,159.3 263.6,159.8 264.1,159.0 264.5,158.0 265.0,159.1 265.5,159.3 266.0,159.8" fill="none" stroke="#111111" stroke-width="1.65" stroke-linejoin="round" stroke-linecap="round"/>
<polyline points="167.0,137.7 167.5,138.0 167.9,137.9 168.4,138.0 168.9,137.3 169.4,136.1 169.9,136.6 170.4,136.6 170.9,137.2 171.4,136.0 171.9,135.9 172.4,136.5 172.8,135.6 173.3,136.2 173.8,136.5 174.3,136.9 174.8,136.3 175.3,136.0 175.8,135.6 176.3,136.9 176.8,136.5 177.3,136.0 177.8,135.4 178.2,135.5 178.7,134.7 179.2,135.3 179.7,135.7 180.2,135.7 180.7,136.2 181.2,136.4 181.7,136.5 182.2,134.9 182.7,135.0 183.1,135.1 183.6,135.1 184.1,134.5 184.6,134.4 185.1,134.6 185.6,134.9 186.1,135.2 186.6,135.3 187.1,134.2 187.6,134.3 188.0,135.0 188.5,134.4 189.0,134.4 189.5,133.8 190.0,134.4 190.5,134.2 191.0,134.2 191.5,134.4 192.0,134.6 192.5,134.7 193.0,134.2 193.4,134.3 193.9,134.0 194.4,134.8 194.9,136.0 195.4,135.9 195.9,135.1 196.4,134.6 196.9,134.2 197.4,134.1 197.9,133.3 198.3,134.3 198.8,135.3 199.3,134.7 199.8,135.0 200.3,134.8 200.8,135.3 201.3,136.1 201.8,136.5 202.3,136.5 202.8,137.0 203.2,136.9 203.7,136.9 204.2,136.3 204.7,136.8 205.2,136.9 205.7,137.5 206.2,138.1 206.7,138.1 207.2,138.3 207.7,137.8 208.2,137.1 208.6,136.2 209.1,137.3 209.6,137.8 210.1,138.2 210.6,137.6 211.1,138.3 211.6,138.8 212.1,139.2 212.6,139.0 213.1,138.4 213.5,138.4 214.0,138.0 214.5,138.0 215.0,137.3 215.5,137.7 216.0,138.1 216.5,138.9 217.0,138.8 217.5,138.2 218.0,139.1 218.5,139.7 218.9,139.8 219.4,139.7 219.9,139.4 220.4,141.1 220.9,140.6 221.4,140.4 221.9,139.1 222.4,138.5 222.9,138.6 223.4,139.3 223.8,139.4 224.3,139.1 224.8,138.4 225.3,139.1 225.8,139.1 226.3,138.6 226.8,138.0 227.3,138.1 227.8,138.9 228.3,139.6 228.8,139.5 229.2,138.5 229.7,137.5 230.2,137.2 230.7,137.4 231.2,138.3 231.7,139.2 232.2,138.1 232.7,137.6 233.2,138.5 233.7,139.5 234.1,139.4 234.6,139.8 235.1,140.0 235.6,139.4 236.1,138.8 236.6,138.1 237.1,138.1 237.6,138.2 238.1,139.0 238.6,138.8 239.0,138.2 239.5,138.3 240.0,139.4 240.5,139.2 241.0,139.8 241.5,138.9 242.0,138.8 242.5,138.8 243.0,139.1 243.5,139.3 244.0,139.9 244.4,138.7 244.9,138.2 245.4,137.7 245.9,137.6 246.4,137.8 246.9,139.1 247.4,138.9 247.9,138.7 248.4,138.2 248.9,138.4 249.3,138.6 249.8,138.3 250.3,139.1 250.8,139.5 251.3,138.6 251.8,138.9 252.3,138.0 252.8,138.6 253.3,138.1 253.8,137.7 254.2,138.6 254.7,138.7 255.2,138.6 255.7,138.6 256.2,139.9 256.7,140.8 257.2,140.0 257.7,139.9 258.2,139.9 258.7,140.8 259.2,140.4 259.6,141.3 260.1,141.0 260.6,141.5 261.1,142.0 261.6,142.2 262.1,141.9 262.6,141.9 263.1,141.8 263.6,142.7 264.1,142.3 264.5,142.0 265.0,143.0 265.5,143.7 266.0,143.1" fill="none" stroke="#ff0000" stroke-width="1.45" stroke-linejoin="round" stroke-linecap="round"/>
<polyline points="167.0,136.9 167.5,137.8 167.9,137.8 168.4,137.4 168.9,137.0 169.4,137.1 169.9,137.4 170.4,138.0 170.9,138.0 171.4,137.7 171.9,137.0 172.4,137.3 172.8,137.2 173.3,138.5 173.8,138.9 174.3,140.3 174.8,139.2 175.3,138.6 175.8,139.8 176.3,139.5 176.8,139.7 177.3,139.1 177.8,139.7 178.2,140.4 178.7,140.0 179.2,140.6 179.7,140.8 180.2,141.2 180.7,141.5 181.2,140.8 181.7,140.8 182.2,140.8 182.7,141.0 183.1,141.4 183.6,142.3 184.1,141.8 184.6,142.0 185.1,142.6 185.6,143.2 186.1,143.8 186.6,143.7 187.1,142.8 187.6,143.4 188.0,143.3 188.5,143.4 189.0,144.0 189.5,143.7 190.0,143.8 190.5,144.5 191.0,144.9 191.5,145.4 192.0,146.0 192.5,145.6 193.0,146.3 193.4,146.8 193.9,147.9 194.4,147.7 194.9,147.7 195.4,147.3 195.9,147.8 196.4,148.0 196.9,147.0 197.4,146.2 197.9,145.8 198.3,146.7 198.8,146.5 199.3,147.0 199.8,147.6 200.3,147.4 200.8,148.0 201.3,149.5 201.8,149.5 202.3,150.9 202.8,150.1 203.2,150.0 203.7,149.8 204.2,149.8 204.7,149.8 205.2,150.4 205.7,151.4 206.2,151.2 206.7,152.1 207.2,151.2 207.7,150.9 208.2,150.7 208.6,151.6 209.1,152.2 209.6,152.7 210.1,152.9 210.6,153.0 211.1,153.6 211.6,152.8 212.1,153.8 212.6,153.6 213.1,154.2 213.5,152.9 214.0,153.7 214.5,152.8 215.0,152.1 215.5,151.5 216.0,152.1 216.5,153.2 217.0,154.1 217.5,154.3 218.0,154.1 218.5,154.5 218.9,154.7 219.4,154.3 219.9,154.0 220.4,153.8 220.9,154.1 221.4,154.5 221.9,153.4 222.4,153.8 222.9,153.8 223.4,154.4 223.8,154.3 224.3,153.0 224.8,153.5 225.3,153.7 225.8,152.9 226.3,153.0 226.8,152.7 227.3,153.1 227.8,153.2 228.3,152.9 228.8,152.3 229.2,151.8 229.7,150.9 230.2,150.7 230.7,151.0 231.2,151.3 231.7,151.5 232.2,150.7 232.7,151.2 233.2,151.5 233.7,152.4 234.1,151.3 234.6,150.3 235.1,150.9 235.6,150.6 236.1,150.2 236.6,149.6 237.1,149.7 237.6,148.0 238.1,148.6 238.6,149.1 239.0,148.4 239.5,149.4 240.0,150.0 240.5,149.6 241.0,149.1 241.5,148.9 242.0,149.0 242.5,149.8 243.0,149.5 243.5,149.6 244.0,148.5 244.4,147.6 244.9,147.8 245.4,147.4 245.9,146.9 246.4,147.3 246.9,148.1 247.4,147.3 247.9,146.9 248.4,147.6 248.9,147.5 249.3,148.5 249.8,148.3 250.3,147.7 250.8,147.3 251.3,146.3 251.8,146.7 252.3,146.9 252.8,146.6 253.3,145.5 253.8,146.5 254.2,146.5 254.7,146.9 255.2,145.2 255.7,146.9 256.2,148.0 256.7,149.0 257.2,149.3 257.7,150.4 258.2,151.1 258.7,152.2 259.2,151.9 259.6,152.6 260.1,152.9 260.6,153.6 261.1,153.3 261.6,152.9 262.1,153.6 262.6,153.6 263.1,154.3 263.6,154.0 264.1,153.7 264.5,153.7 265.0,155.3 265.5,155.1 266.0,155.6" fill="none" stroke="#c9c9c9" stroke-width="1.55" stroke-linejoin="round" stroke-linecap="round"/>
<path d="M166.90,104.30V170.60H266.20" fill="none" stroke="#9c9c9c" stroke-width="1.25"/>
<path d="M166.90,170.60h1.2M166.90,148.67h1.2M166.90,126.73h1.2M166.90,104.80h1.2M166.90,170.60v-1.2M191.38,170.60v-1.2M216.14,170.60v-1.2M241.17,170.60v-1.2M266.20,170.60v-1.2" stroke="#9c9c9c" stroke-width="0.9" fill="none"/>
<polyline points="306.9,130.0 307.4,129.9 307.9,130.4 308.4,130.9 308.9,130.4 309.4,132.1 309.9,132.0 310.4,132.5 310.9,131.2 311.3,131.7 311.8,131.1 312.3,132.4 312.8,131.8 313.3,133.4 313.8,132.4 314.3,131.8 314.8,132.3 315.3,132.0 315.8,133.4 316.2,131.7 316.7,130.9 317.2,130.6 317.7,131.8 318.2,130.0 318.7,131.9 319.2,133.0 319.7,132.9 320.2,132.3 320.7,133.3 321.2,133.2 321.6,133.2 322.1,132.5 322.6,132.8 323.1,132.2 323.6,130.7 324.1,131.4 324.6,132.9 325.1,134.0 325.6,133.2 326.1,133.5 326.5,133.0 327.0,133.5 327.5,134.4 328.0,135.9 328.5,136.0 329.0,134.5 329.5,133.8 330.0,134.2 330.5,134.1 331.0,134.8 331.4,133.3 331.9,133.9 332.4,133.8 332.9,135.7 333.4,133.2 333.9,133.7 334.4,133.1 334.9,133.6 335.4,134.0 335.9,134.0 336.4,135.4 336.8,134.4 337.3,134.7 337.8,133.6 338.3,134.6 338.8,134.3 339.3,134.2 339.8,133.8 340.3,134.8 340.8,134.1 341.3,134.6 341.7,135.2 342.2,134.4 342.7,134.0 343.2,135.4 343.7,136.0 344.2,136.4 344.7,135.7 345.2,134.9 345.7,134.3 346.2,133.4 346.7,134.2 347.1,134.0 347.6,135.2 348.1,136.2 348.6,137.1 349.1,136.1 349.6,134.9 350.1,135.0 350.6,135.6 351.1,137.1 351.6,136.4 352.0,135.8 352.5,137.6 353.0,137.3 353.5,140.8 354.0,143.5 354.5,143.6 355.0,143.5 355.5,144.3 356.0,143.7 356.5,143.3 356.9,142.4 357.4,142.6 357.9,142.2 358.4,143.7 358.9,143.7 359.4,144.5 359.9,148.1 360.4,149.2 360.9,150.0 361.4,149.7 361.9,149.3 362.3,148.3 362.8,146.7 363.3,145.2 363.8,145.3 364.3,146.1 364.8,145.8 365.3,147.7 365.8,147.3 366.3,148.1 366.8,147.0 367.2,148.4 367.7,148.3 368.2,149.8 368.7,150.2 369.2,150.0 369.7,149.4 370.2,150.3 370.7,151.4 371.2,150.4 371.7,150.0 372.2,148.2 372.6,148.9 373.1,147.6 373.6,146.0 374.1,145.8 374.6,147.1 375.1,146.0 375.6,145.8 376.1,145.2 376.6,144.9 377.1,145.7 377.5,145.4 378.0,144.5 378.5,144.9 379.0,145.8 379.5,145.5 380.0,144.5 380.5,144.9 381.0,146.9 381.5,148.1 382.0,149.3 382.4,143.3 382.9,144.6 383.4,150.3" fill="none" stroke="#111111" stroke-width="1.65" stroke-linejoin="round" stroke-linecap="round"/>
<polyline points="284.4,139.1 284.9,137.0 285.4,138.7 285.8,137.7 286.3,137.7 286.8,135.9 287.3,135.7 287.8,132.3 288.3,132.8 288.8,131.2 289.3,131.3 289.8,130.6 290.3,131.2 290.7,130.7 291.2,129.2 291.7,128.5 292.2,128.4 292.7,129.5 293.2,130.6 293.7,129.3 294.2,130.4 294.7,131.2 295.2,129.7 295.7,129.7 296.1,128.0 296.6,127.6 297.1,126.7 297.6,126.7 298.1,127.8 298.6,128.6 299.1,126.8 299.6,126.4 300.1,126.4 300.6,127.7 301.0,127.4 301.5,128.5 302.0,126.8 302.5,126.4 303.0,125.4 303.5,126.4 304.0,125.2 304.5,126.8 305.0,126.5 305.5,126.8 305.9,125.5 306.4,126.2 306.9,125.8 307.4,126.5 307.9,126.1 308.4,126.4 308.9,126.0 309.4,126.4 309.9,125.6 310.4,125.7 310.9,124.1 311.3,125.3 311.8,125.1 312.3,125.9 312.8,124.8 313.3,124.9 313.8,125.1 314.3,124.5 314.8,125.6 315.3,125.4 315.8,125.3 316.2,123.5 316.7,123.6 317.2,123.0 317.7,123.7 318.2,123.9 318.7,124.0 319.2,122.8 319.7,123.8 320.2,122.7 320.7,124.6 321.2,125.5 321.6,124.5 322.1,123.5 322.6,124.1 323.1,124.7 323.6,123.3 324.1,123.3 324.6,124.5 325.1,125.1 325.6,124.4 326.1,124.1 326.5,123.3 327.0,122.9 327.5,123.9 328.0,124.7 328.5,124.9 329.0,124.3 329.5,124.2 330.0,124.4 330.5,124.2 331.0,123.7 331.4,122.8 331.9,124.5 332.4,125.1 332.9,125.9 333.4,124.8 333.9,123.5 334.4,123.6 334.9,123.4 335.4,124.4 335.9,124.5 336.4,125.2 336.8,123.9 337.3,123.9 337.8,122.9 338.3,124.3 338.8,123.4 339.3,123.9 339.8,124.9 340.3,123.4 340.8,124.1 341.3,124.7 341.7,125.7 342.2,124.7 342.7,124.2 343.2,123.5 343.7,123.7 344.2,125.4 344.7,124.0 345.2,125.1 345.7,124.0 346.2,122.5 346.7,124.2 347.1,121.9 347.6,125.2 348.1,123.6 348.6,124.7 349.1,123.3 349.6,122.6 350.1,122.5 350.6,124.0 351.1,124.6 351.6,123.2 352.0,121.7 352.5,122.0 353.0,121.8 353.5,127.0 354.0,131.4 354.5,131.3 355.0,131.3 355.5,131.9 356.0,129.4 356.5,129.2 356.9,127.9 357.4,129.2 357.9,128.7 358.4,129.4 358.9,132.8 359.4,134.5 359.9,135.3 360.4,136.4 360.9,137.8 361.4,137.7 361.9,137.0 362.3,135.7 362.8,133.6 363.3,131.8 363.8,134.1 364.3,134.1 364.8,133.8 365.3,134.7 365.8,135.6 366.3,137.4 366.8,138.6 367.2,139.2 367.7,139.0 368.2,139.7 368.7,139.7 369.2,138.2 369.7,137.1 370.2,137.3 370.7,137.4 371.2,136.3 371.7,136.7 372.2,135.8 372.6,135.7 373.1,132.5 373.6,129.7 374.1,129.9 374.6,130.7 375.1,132.3 375.6,130.8 376.1,131.0 376.6,130.9 377.1,131.9 377.5,130.1 378.0,129.4 378.5,130.0 379.0,129.7 379.5,130.8 380.0,129.8 380.5,130.3 381.0,131.2 381.5,132.7 382.0,134.7 382.4,134.6 382.9,136.1 383.4,138.3" fill="none" stroke="#ff0000" stroke-width="1.45" stroke-linejoin="round" stroke-linecap="round"/>
<polygon points="284.4,138.0 284.9,135.5 285.4,137.1 285.8,137.0 286.3,135.2 286.8,132.8 287.3,132.4 287.8,132.5 288.3,130.7 288.8,132.1 289.3,132.6 289.8,130.4 290.3,131.5 290.7,129.9 291.2,129.9 291.7,128.7 292.2,130.2 292.7,130.6 293.2,131.4 293.7,131.0 294.2,132.5 294.7,132.0 295.2,133.3 295.7,130.5 296.1,130.1 296.6,129.0 297.1,129.5 297.6,127.8 298.1,130.2 298.6,129.2 299.1,128.7 299.6,127.1 300.1,127.2 300.6,127.7 301.0,129.9 301.5,129.7 302.0,128.9 302.5,128.2 303.0,127.2 303.5,128.8 304.0,128.4 304.5,128.0 305.0,127.6 305.5,129.2 305.9,130.8 306.4,128.5 306.9,127.9 307.4,128.0 307.9,128.2 308.4,129.3 308.9,128.3 309.4,130.7 309.9,129.5 310.4,129.8 310.9,129.2 311.3,129.6 311.8,128.2 312.3,128.2 312.8,128.9 313.3,129.1 313.8,129.8 314.3,130.6 314.8,128.6 315.3,128.2 315.8,128.5 316.2,127.6 316.7,126.9 317.2,127.3 317.7,127.4 318.2,125.7 318.7,128.3 319.2,128.0 319.7,128.9 320.2,128.4 320.7,128.4 321.2,129.4 321.6,127.6 322.1,129.9 322.6,128.1 323.1,127.5 323.6,126.8 324.1,126.6 324.6,127.6 325.1,129.8 325.6,127.5 326.1,128.3 326.5,127.9 327.0,127.3 327.5,126.8 328.0,128.8 328.5,130.0 329.0,129.0 329.5,130.0 330.0,128.4 330.5,127.5 331.0,126.9 331.4,127.0 331.9,129.2 332.4,129.5 332.9,129.7 333.4,128.4 333.9,129.0 334.4,127.6 334.9,126.7 335.4,130.4 335.9,127.9 336.4,129.3 336.8,128.5 337.3,130.1 337.8,130.8 338.3,131.4 338.8,128.9 339.3,129.7 339.8,128.0 340.3,127.2 340.8,126.0 341.3,127.5 341.7,126.2 342.2,128.6 342.7,129.4 343.2,130.0 343.7,128.6 344.2,129.0 344.7,128.3 345.2,128.5 345.7,128.5 346.2,127.7 346.7,126.9 347.1,128.4 347.6,128.7 348.1,130.0 348.6,130.6 349.1,127.9 349.6,124.7 350.1,126.5 350.6,127.8 351.1,126.8 351.6,125.6 352.0,127.2 352.5,129.4 353.0,127.9 353.5,131.9 354.0,136.9 354.5,138.7 355.0,139.4 355.5,139.4 356.0,138.3 356.5,138.0 356.9,140.0 357.4,139.8 357.9,139.2 358.4,139.5 358.9,141.0 359.4,139.3 359.9,139.7 360.4,142.2 360.9,142.7 361.4,143.7 361.9,145.0 362.3,143.1 362.8,140.3 363.3,137.9 363.8,139.7 364.3,141.4 364.8,142.0 365.3,140.0 365.8,137.9 366.3,140.7 366.8,140.6 367.2,141.0 367.7,140.5 368.2,139.9 368.7,141.2 369.2,141.0 369.7,141.8 370.2,141.5 370.7,141.4 371.2,140.8 371.7,142.3 372.2,138.6 372.6,140.9 373.1,137.6 373.6,137.2 374.1,135.9 374.6,137.4 375.1,138.0 375.6,138.6 376.1,136.9 376.6,137.9 377.1,136.0 377.5,135.9 378.0,133.7 378.5,134.8 379.0,134.9 379.5,134.7 380.0,132.6 380.5,133.7 381.0,137.2 381.5,137.3 382.0,139.0 382.4,138.5 382.9,138.6 383.4,141.4 383.4,143.3 382.9,140.4 382.4,141.3 382.0,140.9 381.5,139.4 381.0,139.2 380.5,136.2 380.0,135.4 379.5,136.8 379.0,137.7 378.5,137.1 378.0,136.2 377.5,137.9 377.1,138.9 376.6,139.5 376.1,139.5 375.6,141.6 375.1,140.5 374.6,140.2 374.1,138.9 373.6,138.8 373.1,140.2 372.6,142.9 372.2,140.9 371.7,144.8 371.2,143.7 370.7,143.9 370.2,144.2 369.7,144.2 369.2,143.1 368.7,143.4 368.2,142.4 367.7,143.9 367.2,143.1 366.8,142.6 366.3,142.9 365.8,140.1 365.3,142.5 364.8,144.0 364.3,143.4 363.8,141.3 363.3,140.5 362.8,142.4 362.3,144.5 361.9,147.0 361.4,145.8 360.9,145.4 360.4,144.1 359.9,141.9 359.4,142.5 358.9,143.6 358.4,141.6 357.9,142.3 357.4,141.8 356.9,142.5 356.5,140.5 356.0,140.5 355.5,141.2 355.0,141.6 354.5,140.7 354.0,139.7 353.5,134.0 353.0,130.4 352.5,131.7 352.0,129.5 351.6,127.8 351.1,130.0 350.6,130.8 350.1,129.5 349.6,126.9 349.1,130.0 348.6,132.5 348.1,132.5 347.6,131.1 347.1,130.5 346.7,130.2 346.2,129.7 345.7,130.7 345.2,131.6 344.7,130.8 344.2,132.0 343.7,131.6 343.2,132.5 342.7,130.8 342.2,130.9 341.7,129.5 341.3,130.1 340.8,128.5 340.3,129.2 339.8,130.3 339.3,131.9 338.8,131.7 338.3,133.1 337.8,133.9 337.3,132.0 336.8,130.3 336.4,131.1 335.9,130.6 335.4,132.9 334.9,129.3 334.4,129.9 333.9,131.6 333.4,131.4 332.9,131.7 332.4,132.1 331.9,131.7 331.4,129.8 331.0,129.6 330.5,130.3 330.0,130.4 329.5,133.1 329.0,131.5 328.5,132.5 328.0,130.7 327.5,129.0 327.0,130.3 326.5,130.1 326.1,130.9 325.6,130.5 325.1,132.7 324.6,130.2 324.1,129.5 323.6,129.7 323.1,129.8 322.6,129.5 322.1,131.7 321.6,129.8 321.2,130.9 320.7,130.1 320.2,130.8 319.7,131.0 319.2,130.9 318.7,131.0 318.2,128.2 317.7,129.2 317.2,128.9 316.7,129.1 316.2,129.3 315.8,130.3 315.3,130.5 314.8,130.6 314.3,132.9 313.8,132.2 313.3,131.5 312.8,130.9 312.3,130.4 311.8,129.9 311.3,132.1 310.9,131.2 310.4,131.8 309.9,132.2 309.4,132.6 308.9,130.5 308.4,131.7 307.9,131.3 307.4,129.9 306.9,130.8 306.4,130.8 305.9,132.5 305.5,131.8 305.0,129.5 304.5,131.0 304.0,131.4 303.5,131.8 303.0,130.1 302.5,130.7 302.0,130.8 301.5,132.5 301.0,132.5 300.6,129.7 300.1,129.3 299.6,129.3 299.1,130.9 298.6,131.8 298.1,131.9 297.6,130.9 297.1,131.9 296.6,130.5 296.1,131.9 295.7,132.6 295.2,135.4 294.7,134.9 294.2,134.1 293.7,133.4 293.2,133.5 292.7,133.5 292.2,132.3 291.7,131.3 291.2,132.5 290.7,132.2 290.3,133.0 289.8,132.2 289.3,134.4 288.8,134.2 288.3,133.5 287.8,135.1 287.3,134.3 286.8,135.1 286.3,138.1 285.8,140.2 285.4,139.6 284.9,137.9 284.4,139.9" fill="#c9c9c9"/>
<polyline points="284.4,139.1 284.9,136.3 285.4,138.8 285.8,138.6 286.3,136.4 286.8,134.5 287.3,133.5 287.8,133.9 288.3,131.9 288.8,133.0 289.3,133.6 289.8,131.5 290.3,132.1 290.7,131.1 291.2,130.8 291.7,130.2 292.2,130.9 292.7,131.8 293.2,132.5 293.7,132.6 294.2,133.4 294.7,133.5 295.2,133.9 295.7,131.4 296.1,130.8 296.6,129.8 297.1,130.7 297.6,129.4 298.1,130.9 298.6,130.0 299.1,130.2 299.6,128.1 300.1,127.8 300.6,129.0 301.0,131.0 301.5,131.4 302.0,129.7 302.5,129.5 303.0,128.5 303.5,130.5 304.0,130.1 304.5,129.3 305.0,128.5 305.5,130.6 305.9,131.4 306.4,129.7 306.9,129.2 307.4,129.1 307.9,129.6 308.4,130.1 308.9,129.7 309.4,131.6 309.9,131.2 310.4,131.1 310.9,130.2 311.3,130.7 311.8,128.8 312.3,129.3 312.8,129.6 313.3,129.9 313.8,130.9 314.3,132.2 314.8,129.4 315.3,129.9 315.8,129.6 316.2,128.3 316.7,128.3 317.2,128.0 317.7,128.2 318.2,127.4 318.7,129.4 319.2,129.5 319.7,130.3 320.2,129.3 320.7,129.4 321.2,130.2 321.6,128.3 322.1,130.8 322.6,128.8 323.1,128.9 323.6,128.4 324.1,128.0 324.6,128.7 325.1,131.0 325.6,128.9 326.1,129.2 326.5,129.1 327.0,128.9 327.5,128.3 328.0,129.7 328.5,131.4 329.0,129.9 329.5,131.3 330.0,129.1 330.5,129.1 331.0,128.2 331.4,128.3 331.9,130.6 332.4,130.5 332.9,130.4 333.4,129.9 333.9,130.5 334.4,128.6 334.9,128.2 335.4,131.5 335.9,129.1 336.4,130.5 336.8,129.6 337.3,131.1 337.8,132.5 338.3,132.0 338.8,129.9 339.3,131.0 339.8,129.5 340.3,128.2 340.8,127.3 341.3,128.5 341.7,127.7 342.2,130.0 342.7,130.0 343.2,131.1 343.7,130.2 344.2,130.4 344.7,130.0 345.2,129.9 345.7,129.3 346.2,128.5 346.7,128.6 347.1,129.1 347.6,129.5 348.1,131.3 348.6,131.7 349.1,128.7 349.6,126.1 350.1,128.0 350.6,129.2 351.1,128.5 351.6,126.9 352.0,127.9 352.5,130.9 353.0,129.2 353.5,132.8 354.0,138.0 354.5,139.4 355.0,140.5 355.5,140.5 356.0,139.9 356.5,138.8 356.9,140.8 357.4,140.5 357.9,140.9 358.4,140.6 358.9,142.3 359.4,140.9 359.9,141.2 360.4,143.0 360.9,143.7 361.4,144.4 361.9,145.6 362.3,143.8 362.8,141.3 363.3,139.5 363.8,140.5 364.3,142.1 364.8,143.2 365.3,140.9 365.8,139.0 366.3,141.6 366.8,141.7 367.2,142.3 367.7,142.2 368.2,141.3 368.7,142.0 369.2,142.0 369.7,142.8 370.2,142.5 370.7,142.6 371.2,142.6 371.7,143.8 372.2,140.2 372.6,141.6 373.1,139.3 373.6,138.0 374.1,137.2 374.6,138.5 375.1,139.6 375.6,140.1 376.1,138.0 376.6,138.6 377.1,137.5 377.5,137.2 378.0,135.4 378.5,135.8 379.0,136.6 379.5,136.1 380.0,134.3 380.5,134.8 381.0,138.3 381.5,138.6 382.0,140.3 382.4,139.8 382.9,139.5 383.4,142.1" fill="none" stroke="#c9c9c9" stroke-width="1.55" stroke-linejoin="round" stroke-linecap="round"/>
<path d="M284.40,104.30V170.60H383.70" fill="none" stroke="#9c9c9c" stroke-width="1.25"/>
<path d="M284.40,170.60h1.2M284.40,148.67h1.2M284.40,126.73h1.2M284.40,104.80h1.2M284.40,170.60v-1.2M308.88,170.60v-1.2M333.64,170.60v-1.2M358.67,170.60v-1.2M383.70,170.60v-1.2" stroke="#9c9c9c" stroke-width="0.9" fill="none"/>
<polyline points="436.3,148.8 436.8,148.9 437.3,148.0 437.8,148.3 438.2,149.3 438.7,150.0 439.2,149.4 439.7,148.8 440.2,150.4 440.7,150.6 441.2,151.0 441.7,149.7 442.2,149.9 442.7,149.5 443.2,150.3 443.6,151.3 444.1,151.8 444.6,153.0 445.1,152.9 445.6,151.9 446.1,152.0 446.6,151.7 447.1,152.5 447.6,153.5 448.1,153.7 448.5,152.6 449.0,152.8 449.5,153.9 450.0,154.0 450.5,154.2 451.0,153.9 451.5,155.7 452.0,155.1 452.5,154.7 453.0,154.9 453.5,154.4 453.9,154.5 454.4,154.9 454.9,155.2 455.4,155.8 455.9,155.8 456.4,156.9 456.9,156.9 457.4,156.3 457.9,156.3 458.4,156.6 458.8,157.4 459.3,156.3 459.8,157.2 460.3,157.2 460.8,157.5 461.3,157.2 461.8,157.2 462.3,156.8 462.8,156.3 463.3,156.4 463.8,156.3 464.2,155.9 464.7,155.8 465.2,155.8 465.7,155.7 466.2,155.3 466.7,154.7 467.2,154.4 467.7,155.2 468.2,155.7 468.7,155.5 469.1,154.3 469.6,155.1 470.1,154.5 470.6,154.3 471.1,154.3 471.6,152.8 472.1,152.9 472.6,152.6 473.1,152.5 473.6,152.0 474.0,152.1 474.5,151.3 475.0,151.8 475.5,151.3 476.0,151.4 476.5,151.5 477.0,150.9 477.5,152.1 478.0,152.1 478.5,152.2 479.0,151.3 479.4,151.2 479.9,151.7 480.4,152.4 480.9,152.1 481.4,152.2 481.9,151.5 482.4,152.5 482.9,151.6 483.4,152.0 483.9,151.8 484.3,152.0 484.8,151.9 485.3,152.8 485.8,151.6 486.3,151.9 486.8,150.6 487.3,151.7 487.8,152.6 488.3,153.6 488.8,152.7 489.2,152.2 489.7,153.0 490.2,155.0 490.7,155.2 491.2,155.7 491.7,155.0 492.2,154.9 492.7,154.6 493.2,154.8 493.7,156.1 494.2,156.0 494.6,156.8 495.1,155.7 495.6,157.9 496.1,158.0 496.6,158.9 497.1,158.3 497.6,157.9 498.1,158.8 498.6,159.4 499.1,160.6 499.5,160.7 500.0,160.2 500.5,160.2 501.0,159.0" fill="none" stroke="#111111" stroke-width="1.65" stroke-linejoin="round" stroke-linecap="round"/>
<polyline points="402.0,138.8 402.5,136.2 402.9,135.9 403.4,136.7 403.9,137.8 404.4,137.3 404.9,136.9 405.4,136.1 405.9,137.5 406.4,136.8 406.9,137.1 407.4,137.0 407.8,136.2 408.3,136.6 408.8,135.3 409.3,135.7 409.8,134.2 410.3,134.3 410.8,135.0 411.3,135.6 411.8,135.8 412.3,135.7 412.8,135.6 413.2,135.2 413.7,135.1 414.2,135.0 414.7,134.5 415.2,134.2 415.7,135.0 416.2,133.7 416.7,133.6 417.2,133.9 417.7,133.5 418.1,133.8 418.6,134.4 419.1,134.2 419.6,133.0 420.1,134.3 420.6,133.0 421.1,134.3 421.6,133.8 422.1,133.9 422.6,133.2 423.0,133.5 423.5,133.4 424.0,133.6 424.5,134.0 425.0,133.9 425.5,132.3 426.0,132.3 426.5,132.1 427.0,132.5 427.5,133.0 428.0,133.0 428.4,133.0 428.9,132.9 429.4,132.7 429.9,133.0 430.4,132.6 430.9,131.8 431.4,132.0 431.9,132.7 432.4,133.1 432.9,132.7 433.3,132.0 433.8,132.4 434.3,131.6 434.8,132.4 435.3,133.0 435.8,132.5 436.3,132.3 436.8,132.4 437.3,132.4 437.8,133.3 438.2,133.9 438.7,134.1 439.2,134.3 439.7,133.7 440.2,134.0 440.7,134.1 441.2,132.8 441.7,133.0 442.2,132.8 442.7,133.1 443.2,133.5 443.6,133.6 444.1,134.5 444.6,135.5 445.1,135.6 445.6,134.5 446.1,134.5 446.6,133.7 447.1,134.6 447.6,134.5 448.1,135.5 448.5,135.6 449.0,135.9 449.5,135.3 450.0,135.9 450.5,135.3 451.0,135.2 451.5,135.7 452.0,135.4 452.5,135.6 453.0,135.9 453.5,135.7 453.9,135.9 454.4,134.8 454.9,135.2 455.4,134.6 455.9,134.7 456.4,135.6 456.9,136.1 457.4,135.8 457.9,135.5 458.4,135.5 458.8,135.7 459.3,136.3 459.8,135.8 460.3,135.9 460.8,135.4 461.3,137.3 461.8,136.2 462.3,135.7 462.8,136.2 463.3,136.6 463.8,136.1 464.2,136.3 464.7,135.8 465.2,136.0 465.7,136.3 466.2,135.3 466.7,136.3 467.2,136.3 467.7,136.6 468.2,136.6 468.7,135.3 469.1,135.1 469.6,135.7 470.1,136.0 470.6,135.9 471.1,136.7 471.6,135.7 472.1,135.4 472.6,134.5 473.1,133.7 473.6,134.1 474.0,134.4 474.5,134.9 475.0,134.7 475.5,136.1 476.0,135.9 476.5,135.9 477.0,136.1 477.5,137.6 478.0,137.7 478.5,137.0 479.0,136.9 479.4,136.3 479.9,136.7 480.4,137.0 480.9,137.2 481.4,137.8 481.9,136.9 482.4,137.1 482.9,136.1 483.4,137.2 483.9,137.9 484.3,138.2 484.8,137.8 485.3,138.7 485.8,137.9 486.3,137.9 486.8,137.1 487.3,137.5 487.8,137.7 488.3,138.2 488.8,138.1 489.2,138.1 489.7,137.3 490.2,138.5 490.7,138.7 491.2,139.0 491.7,138.1 492.2,138.3 492.7,138.9 493.2,138.5 493.7,139.3 494.2,139.6 494.6,141.1 495.1,139.8 495.6,140.3 496.1,141.0 496.6,141.6 497.1,140.6 497.6,140.3 498.1,141.2 498.6,141.0 499.1,141.5 499.5,141.7 500.0,142.0 500.5,141.7 501.0,140.5" fill="none" stroke="#ff0000" stroke-width="1.45" stroke-linejoin="round" stroke-linecap="round"/>
<polyline points="402.0,136.4 402.5,135.2 402.9,136.5 403.4,137.1 403.9,137.9 404.4,138.7 404.9,139.3 405.4,138.9 405.9,139.4 406.4,139.0 406.9,140.0 407.4,139.3 407.8,140.1 408.3,140.4 408.8,139.7 409.3,139.6 409.8,139.1 410.3,138.9 410.8,139.4 411.3,139.7 411.8,140.8 412.3,140.1 412.8,140.7 413.2,141.5 413.7,141.3 414.2,140.2 414.7,141.3 415.2,141.4 415.7,142.6 416.2,141.9 416.7,141.9 417.2,141.6 417.7,141.2 418.1,142.0 418.6,142.0 419.1,143.4 419.6,142.5 420.1,143.6 420.6,143.0 421.1,144.1 421.6,144.2 422.1,143.9 422.6,144.7 423.0,143.7 423.5,144.6 424.0,144.6 424.5,145.5 425.0,145.6 425.5,146.0 426.0,145.1 426.5,144.9 427.0,146.4 427.5,146.5 428.0,146.3 428.4,146.4 428.9,146.7 429.4,145.9 429.9,146.3 430.4,146.3 430.9,146.8 431.4,146.4 431.9,147.3 432.4,147.6 432.9,147.5 433.3,146.7 433.8,146.6 434.3,146.6 434.8,147.3 435.3,147.8 435.8,148.4 436.3,148.5 436.8,148.6 437.3,147.7 437.8,147.9 438.2,148.9 438.7,149.8 439.2,149.2 439.7,148.3 440.2,149.8 440.7,150.4 441.2,150.4 441.7,150.1 442.2,149.3 442.7,148.6 443.2,148.9 443.6,149.5 444.1,150.3 444.6,151.3 445.1,151.4 445.6,151.2 446.1,150.6 446.6,149.9 447.1,150.9 447.6,151.2 448.1,152.0 448.5,151.4 449.0,151.6 449.5,152.6 450.0,153.0 450.5,152.8 451.0,152.3 451.5,153.0 452.0,153.7 452.5,153.5 453.0,154.0 453.5,153.8 453.9,153.7 454.4,152.5 454.9,153.0 455.4,152.8 455.9,152.4 456.4,153.7 456.9,154.3 457.4,154.3 457.9,153.8 458.4,154.0 458.8,154.8 459.3,153.8 459.8,154.1 460.3,153.6 460.8,154.7 461.3,154.7 461.8,155.1 462.3,153.9 462.8,153.7 463.3,153.0 463.8,153.4 464.2,152.9 464.7,152.5 465.2,152.3 465.7,151.5 466.2,152.1 466.7,151.0 467.2,151.4 467.7,151.5 468.2,151.6 468.7,150.6 469.1,150.3 469.6,149.8 470.1,150.4 470.6,150.7 471.1,150.7 471.6,149.1 472.1,148.8 472.6,148.9 473.1,148.9 473.6,148.6 474.0,147.9 474.5,147.0 475.0,147.0 475.5,146.6 476.0,147.3 476.5,147.1 477.0,146.8 477.5,146.7 478.0,146.9 478.5,147.1 479.0,147.0 479.4,146.5 479.9,147.2 480.4,148.0 480.9,148.2 481.4,148.2 481.9,146.4 482.4,146.6 482.9,147.3 483.4,147.4 483.9,146.9 484.3,147.2 484.8,146.9 485.3,148.7 485.8,147.7 486.3,147.4 486.8,146.2 487.3,147.1 487.8,147.8 488.3,147.9 488.8,148.0 489.2,147.8 489.7,149.7 490.2,149.8 490.7,150.8 491.2,150.9 491.7,151.2 492.2,150.3 492.7,150.4 493.2,150.7 493.7,151.1 494.2,151.2 494.6,152.3 495.1,152.2 495.6,153.6 496.1,153.8 496.6,153.8 497.1,154.3 497.6,153.2 498.1,154.8 498.6,154.9 499.1,155.1 499.5,155.0 500.0,155.1 500.5,155.1 501.0,153.1" fill="none" stroke="#c9c9c9" stroke-width="1.55" stroke-linejoin="round" stroke-linecap="round"/>
<path d="M402.00,104.30V170.60H501.30" fill="none" stroke="#9c9c9c" stroke-width="1.25"/>
<path d="M402.00,170.60h1.2M402.00,148.67h1.2M402.00,126.73h1.2M402.00,104.80h1.2M402.00,170.60v-1.2M426.48,170.60v-1.2M451.24,170.60v-1.2M476.27,170.60v-1.2M501.30,170.60v-1.2" stroke="#9c9c9c" stroke-width="0.9" fill="none"/>
<polyline points="49.6,206.1 50.1,206.0 50.5,205.9 51.0,205.7 51.5,205.7 52.0,205.8 52.5,205.9 53.0,205.6 53.5,205.6 54.0,205.6 54.5,205.6 55.0,205.7 55.5,205.5 55.9,205.7 56.4,205.7 56.9,205.8 57.4,205.6 57.9,205.6 58.4,205.4 58.9,205.4 59.4,205.3 59.9,205.2 60.4,205.3 60.8,205.3 61.3,205.4 61.8,205.6 62.3,205.6 62.8,205.7 63.3,205.5 63.8,205.6 64.3,205.4 64.8,205.4 65.3,205.3 65.8,205.2 66.2,205.1 66.7,205.1 67.2,205.1 67.7,205.3 68.2,205.2 68.7,205.2 69.2,205.0 69.7,205.0 70.2,205.0 70.7,204.8 71.1,204.7 71.6,204.8 72.1,204.8 72.6,204.9 73.1,204.9 73.6,204.7 74.1,204.5 74.6,204.3 75.1,204.3 75.6,204.3 76.0,204.2 76.5,204.0 77.0,204.0 77.5,203.9 78.0,204.1 78.5,203.9 79.0,203.8 79.5,203.3 80.0,203.4 80.5,203.6 81.0,203.5 81.4,203.3 81.9,203.1 82.4,203.1 82.9,203.0 83.4,202.8 83.9,202.7 84.4,202.7 84.9,202.6 85.4,202.4 85.9,202.3 86.3,202.1 86.8,202.0 87.3,202.0 87.8,201.9 88.3,201.8 88.8,201.7 89.3,201.7 89.8,201.6 90.3,201.5 90.8,201.2 91.3,201.5 91.7,201.3 92.2,201.2 92.7,200.9 93.2,201.0 93.7,201.0 94.2,200.9 94.7,200.8 95.2,200.8 95.7,200.8 96.2,200.7 96.6,200.5 97.1,200.3 97.6,200.1 98.1,200.1 98.6,200.1 99.1,200.1 99.6,199.9 100.1,199.7 100.6,199.7 101.1,199.5 101.6,199.6 102.0,199.4 102.5,199.4 103.0,199.1 103.5,199.2 104.0,198.9 104.5,199.0 105.0,198.5 105.5,198.6 106.0,198.4 106.5,198.3 106.9,198.2 107.4,198.2 107.9,198.2 108.4,198.1 108.9,198.1 109.4,197.9 109.9,197.9 110.4,197.5 110.9,197.3 111.4,197.2 111.8,197.2 112.3,197.0 112.8,196.9 113.3,196.8 113.8,196.7 114.3,196.6 114.8,196.7 115.3,196.5 115.8,196.4 116.3,196.4 116.8,196.4 117.2,196.7 117.7,196.7 118.2,196.3 118.7,196.1 119.2,196.0 119.7,196.0 120.2,196.1 120.7,196.0 121.2,196.2 121.7,196.1 122.1,196.2 122.6,196.3 123.1,196.5 123.6,196.5 124.1,196.4 124.6,196.2 125.1,196.2 125.6,196.2 126.1,196.4 126.6,196.3 127.1,196.6 127.5,196.5 128.0,196.6 128.5,196.6 129.0,196.2 129.5,196.1 130.0,196.1 130.5,196.3 131.0,196.6 131.5,196.5 132.0,196.4 132.4,196.7 132.9,196.8 133.4,197.1 133.9,196.9 134.4,197.1 134.9,197.3 135.4,197.3 135.9,197.2 136.4,197.2 136.9,197.1 137.3,197.2 137.8,197.3 138.3,197.4 138.8,197.5 139.3,197.7 139.8,197.7 140.3,197.9 140.8,197.7 141.3,197.6 141.8,197.8 142.3,197.8 142.7,197.8 143.2,197.7 143.7,197.7 144.2,198.2 144.7,198.4 145.2,198.5 145.7,198.3 146.2,198.4 146.7,198.6 147.2,198.8 147.6,198.8 148.1,198.7 148.6,198.6" fill="none" stroke="#ff0000" stroke-width="1.45" stroke-linejoin="round" stroke-linecap="round"/>
<polyline points="49.6,206.2 50.1,206.5 50.5,207.1 51.0,207.5 51.5,207.9 52.0,208.2 52.5,209.4 53.0,211.1 53.5,211.3 54.0,211.5 54.5,211.6 55.0,211.9 55.5,213.4 55.9,214.4 56.4,216.5 56.9,217.6 57.4,218.3 57.9,217.6 58.4,217.1 58.9,216.7 59.4,217.5 59.9,220.2 60.4,220.6 60.8,223.2 61.3,222.2 61.8,222.0 62.3,221.1 62.8,221.0 63.3,222.3 63.8,223.6 64.3,225.1 64.8,225.2 65.3,224.2 65.8,223.2 66.2,222.7 66.7,223.6 67.2,224.3 67.7,225.2 68.2,225.7 68.7,227.1 69.2,227.6 69.7,226.9 70.2,226.0 70.7,224.9 71.1,226.6 71.6,227.5 72.1,229.1 72.6,230.4 73.1,230.1 73.6,229.5 74.1,228.2 74.6,228.1 75.1,229.4 75.6,232.0 76.0,232.8 76.5,233.2 77.0,231.1 77.5,230.1 78.0,230.1 78.5,229.6 79.0,231.6 79.5,232.7 80.0,233.5 80.5,235.2 81.0,234.2 81.4,233.9 81.9,232.2 82.4,231.0 82.9,231.3 83.4,232.5 83.9,233.4 84.4,234.8 84.9,235.1 85.4,235.2 85.9,234.4 86.3,233.9 86.8,234.3 87.3,235.4 87.8,236.0 88.3,237.3 88.8,239.0 89.3,238.1 89.8,237.0 90.3,236.2 90.8,236.1 91.3,237.6 91.7,238.8 92.2,239.8 92.7,242.3 93.2,241.5 93.7,240.8 94.2,239.1 94.7,238.4 95.2,240.5 95.7,241.7 96.2,242.5 96.6,243.8 97.1,243.5 97.6,242.9 98.1,242.1 98.6,240.7 99.1,242.0 99.6,244.2 100.1,245.4 100.6,246.2 101.1,246.1 101.6,245.5 102.0,245.1 102.5,243.8 103.0,244.0 103.5,245.0 104.0,245.5 104.5,247.0 105.0,245.0 105.5,243.6 106.0,242.6 106.5,241.6 106.9,242.5 107.4,243.1 107.9,243.8 108.4,243.6 108.9,243.1 109.4,241.5 109.9,241.0 110.4,239.9 110.9,240.0 111.4,240.7 111.8,240.4 112.3,241.3 112.8,240.4 113.3,240.1 113.8,238.9 114.3,238.0 114.8,238.6 115.3,240.6 115.8,240.9 116.3,241.1 116.8,239.7 117.2,239.1 117.7,237.8 118.2,237.1 118.7,238.1 119.2,238.3 119.7,238.8 120.2,239.4 120.7,238.8 121.2,237.4 121.7,236.9 122.1,235.8 122.6,237.0 123.1,237.1 123.6,238.5 124.1,238.5 124.6,237.8 125.1,236.4 125.6,235.5 126.1,235.0 126.6,235.2 127.1,237.2 127.5,237.4 128.0,238.1 128.5,236.2 129.0,235.5 129.5,234.4 130.0,234.3 130.5,233.3 131.0,234.7 131.5,235.6 132.0,236.5 132.4,236.8 132.9,234.8 133.4,232.8 133.9,232.1 134.4,232.1 134.9,233.2 135.4,234.2 135.9,235.3 136.4,237.1 136.9,236.5 137.3,236.7 137.8,236.9 138.3,238.4 138.8,239.0 139.3,239.8 139.8,241.7 140.3,242.9 140.8,242.5 141.3,241.3 141.8,240.2 142.3,240.3 142.7,242.5 143.2,243.4 143.7,244.9 144.2,244.9 144.7,244.3 145.2,243.5 145.7,242.5 146.2,243.8 146.7,244.4 147.2,244.1 147.6,244.1 148.1,242.2 148.6,241.4" fill="none" stroke="#c9c9c9" stroke-width="1.55" stroke-linejoin="round" stroke-linecap="round"/>
<path d="M49.50,189.20V255.50H148.80" fill="none" stroke="#9c9c9c" stroke-width="1.25"/>
<path d="M49.50,255.50h1.2M49.50,239.05h1.2M49.50,222.60h1.2M49.50,206.15h1.2M49.50,189.70h1.2M49.50,255.50v-1.2M73.98,255.50v-1.2M98.74,255.50v-1.2M123.77,255.50v-1.2M148.80,255.50v-1.2" stroke="#9c9c9c" stroke-width="0.9" fill="none"/>
<polyline points="167.0,205.9 167.5,206.0 167.9,206.2 168.4,206.1 168.9,206.0 169.4,205.9 169.9,206.0 170.4,206.1 170.9,205.7 171.4,205.8 171.9,206.0 172.4,205.7 172.8,206.2 173.3,206.2 173.8,206.1 174.3,205.9 174.8,205.9 175.3,205.7 175.8,205.9 176.3,205.7 176.8,205.9 177.3,205.8 177.8,205.7 178.2,205.6 178.7,205.3 179.2,205.1 179.7,205.4 180.2,205.4 180.7,205.5 181.2,205.2 181.7,205.1 182.2,205.0 182.7,205.4 183.1,205.2 183.6,205.1 184.1,204.9 184.6,204.7 185.1,204.5 185.6,204.4 186.1,204.5 186.6,204.2 187.1,204.2 187.6,204.0 188.0,204.1 188.5,204.0 189.0,203.6 189.5,203.6 190.0,203.5 190.5,203.7 191.0,203.4 191.5,203.2 192.0,202.8 192.5,202.9 193.0,202.3 193.4,202.0 193.9,201.7 194.4,201.8 194.9,201.6 195.4,201.3 195.9,200.8 196.4,200.9 196.9,200.7 197.4,200.5 197.9,200.0 198.3,199.7 198.8,199.4 199.3,199.4 199.8,199.5 200.3,199.6 200.8,199.5 201.3,199.4 201.8,198.9 202.3,198.7 202.8,198.6 203.2,198.7 203.7,198.4 204.2,198.0 204.7,198.2 205.2,198.2 205.7,198.3 206.2,198.2 206.7,198.2 207.2,198.2 207.7,198.2 208.2,198.0 208.6,197.5 209.1,197.8 209.6,197.8 210.1,197.8 210.6,197.6 211.1,197.5 211.6,197.5 212.1,197.3 212.6,197.1 213.1,197.1 213.5,197.3 214.0,197.0 214.5,196.6 215.0,196.7 215.5,196.7 216.0,196.6 216.5,196.6 217.0,196.5 217.5,196.3 218.0,196.4 218.5,196.1 218.9,196.1 219.4,195.9 219.9,195.9 220.4,195.8 220.9,195.8 221.4,195.7 221.9,195.7 222.4,195.6 222.9,195.2 223.4,195.3 223.8,194.9 224.3,195.2 224.8,195.2 225.3,195.2 225.8,195.0 226.3,194.9 226.8,194.7 227.3,194.9 227.8,194.8 228.3,194.7 228.8,194.5 229.2,194.6 229.7,194.2 230.2,194.0 230.7,193.8 231.2,194.0 231.7,193.8 232.2,194.1 232.7,194.0 233.2,194.0 233.7,194.2 234.1,194.2 234.6,193.9 235.1,194.3 235.6,194.4 236.1,194.2 236.6,194.4 237.1,194.2 237.6,194.1 238.1,193.8 238.6,194.1 239.0,194.4 239.5,194.6 240.0,194.8 240.5,195.1 241.0,194.9 241.5,195.2 242.0,194.9 242.5,194.9 243.0,195.1 243.5,195.4 244.0,195.3 244.4,195.6 244.9,195.4 245.4,195.5 245.9,195.6 246.4,195.6 246.9,195.6 247.4,195.6 247.9,196.0 248.4,196.1 248.9,196.0 249.3,195.9 249.8,196.1 250.3,196.1 250.8,196.0 251.3,196.1 251.8,196.2 252.3,196.3 252.8,196.6 253.3,196.7 253.8,196.8 254.2,196.8 254.7,196.6 255.2,196.6 255.7,197.2 256.2,197.2 256.7,197.4 257.2,197.3 257.7,197.2 258.2,197.1 258.7,197.5 259.2,197.1 259.6,197.5 260.1,197.3 260.6,197.9 261.1,198.0 261.6,198.1 262.1,197.9 262.6,197.8 263.1,197.7 263.6,198.0 264.1,198.2 264.5,198.2 265.0,198.3 265.5,198.2 266.0,198.5" fill="none" stroke="#ff0000" stroke-width="1.45" stroke-linejoin="round" stroke-linecap="round"/>
<polyline points="167.0,205.9 167.5,205.6 167.9,205.8 168.4,206.3 168.9,207.0 169.4,207.3 169.9,207.9 170.4,207.6 170.9,207.7 171.4,207.3 171.9,207.2 172.4,207.2 172.8,208.2 173.3,209.6 173.8,209.8 174.3,210.1 174.8,209.5 175.3,209.1 175.8,209.8 176.3,209.8 176.8,211.0 177.3,211.6 177.8,213.0 178.2,213.2 178.7,213.1 179.2,212.5 179.7,212.3 180.2,212.0 180.7,213.0 181.2,213.9 181.7,215.7 182.2,215.6 182.7,215.4 183.1,215.0 183.6,215.1 184.1,215.7 184.6,217.1 185.1,217.9 185.6,219.1 186.1,219.3 186.6,218.6 187.1,218.3 187.6,217.8 188.0,217.9 188.5,218.7 189.0,220.3 189.5,221.2 190.0,221.0 190.5,221.0 191.0,220.7 191.5,220.9 192.0,221.0 192.5,221.6 193.0,222.7 193.4,224.2 193.9,224.2 194.4,223.3 194.9,221.8 195.4,221.0 195.9,222.5 196.4,223.4 196.9,225.2 197.4,225.8 197.9,226.0 198.3,224.8 198.8,223.8 199.3,223.5 199.8,223.9 200.3,224.5 200.8,225.3 201.3,226.8 201.8,226.7 202.3,225.3 202.8,223.2 203.2,223.2 203.7,222.9 204.2,224.7 204.7,226.0 205.2,227.0 205.7,226.9 206.2,226.0 206.7,224.9 207.2,224.8 207.7,224.9 208.2,226.2 208.6,227.6 209.1,228.7 209.6,229.3 210.1,228.1 210.6,227.6 211.1,227.3 211.6,227.7 212.1,229.5 212.6,230.4 213.1,231.5 213.5,231.0 214.0,230.6 214.5,230.5 215.0,230.7 215.5,231.0 216.0,231.2 216.5,232.5 217.0,233.4 217.5,234.0 218.0,233.1 218.5,232.9 218.9,232.1 219.4,232.2 219.9,232.7 220.4,233.8 220.9,234.8 221.4,234.2 221.9,233.2 222.4,232.1 222.9,231.7 223.4,231.6 223.8,232.0 224.3,232.1 224.8,233.1 225.3,233.5 225.8,232.6 226.3,230.9 226.8,230.0 227.3,229.2 227.8,230.0 228.3,230.3 228.8,231.1 229.2,231.0 229.7,229.9 230.2,229.2 230.7,228.2 231.2,227.6 231.7,227.5 232.2,228.5 232.7,228.5 233.2,229.4 233.7,229.2 234.1,228.3 234.6,227.6 235.1,227.0 235.6,227.5 236.1,228.2 236.6,228.0 237.1,227.7 237.6,227.4 238.1,226.4 238.6,226.4 239.0,225.9 239.5,225.8 240.0,226.2 240.5,226.5 241.0,227.9 241.5,228.0 242.0,227.6 242.5,226.4 243.0,226.3 243.5,226.0 244.0,226.9 244.4,227.7 244.9,227.7 245.4,228.4 245.9,228.1 246.4,228.0 246.9,227.0 247.4,226.7 247.9,225.8 248.4,226.9 248.9,228.2 249.3,228.7 249.8,229.2 250.3,227.8 250.8,226.7 251.3,225.5 251.8,225.8 252.3,226.0 252.8,227.3 253.3,228.1 253.8,229.6 254.2,229.3 254.7,229.7 255.2,228.7 255.7,228.6 256.2,230.1 256.7,231.4 257.2,233.0 257.7,233.9 258.2,233.9 258.7,233.1 259.2,233.1 259.6,233.2 260.1,234.9 260.6,236.2 261.1,237.1 261.6,238.1 262.1,236.8 262.6,237.0 263.1,236.8 263.6,237.4 264.1,237.5 264.5,238.4 265.0,239.7 265.5,240.6 266.0,239.8" fill="none" stroke="#c9c9c9" stroke-width="1.55" stroke-linejoin="round" stroke-linecap="round"/>
<path d="M166.90,189.20V255.50H266.20" fill="none" stroke="#9c9c9c" stroke-width="1.25"/>
<path d="M166.90,255.50h1.2M166.90,239.05h1.2M166.90,222.60h1.2M166.90,206.15h1.2M166.90,189.70h1.2M166.90,255.50v-1.2M191.38,255.50v-1.2M216.14,255.50v-1.2M241.17,255.50v-1.2M266.20,255.50v-1.2" stroke="#9c9c9c" stroke-width="0.9" fill="none"/>
<polyline points="284.4,206.2 284.9,205.8 285.4,205.4 285.8,205.7 286.3,205.8 286.8,205.9 287.3,205.9 287.8,205.5 288.3,205.8 288.8,205.3 289.3,205.0 289.8,205.2 290.3,205.4 290.7,205.4 291.2,205.4 291.7,205.5 292.2,205.3 292.7,205.3 293.2,205.2 293.7,205.0 294.2,205.0 294.7,204.9 295.2,204.7 295.7,204.6 296.1,204.7 296.6,204.8 297.1,205.0 297.6,204.5 298.1,204.5 298.6,204.2 299.1,204.2 299.6,203.9 300.1,204.0 300.6,203.5 301.0,203.6 301.5,203.8 302.0,203.7 302.5,203.7 303.0,203.7 303.5,203.9 304.0,203.8 304.5,203.7 305.0,203.7 305.5,203.8 305.9,203.6 306.4,203.6 306.9,203.3 307.4,203.0 307.9,202.9 308.4,202.8 308.9,202.9 309.4,202.6 309.9,202.4 310.4,202.5 310.9,202.3 311.3,202.3 311.8,202.2 312.3,202.1 312.8,202.2 313.3,202.1 313.8,202.1 314.3,202.0 314.8,201.9 315.3,201.8 315.8,202.3 316.2,202.0 316.7,201.9 317.2,201.8 317.7,201.7 318.2,201.4 318.7,201.4 319.2,201.2 319.7,201.3 320.2,201.4 320.7,201.5 321.2,201.3 321.6,201.5 322.1,201.3 322.6,200.9 323.1,200.9 323.6,200.9 324.1,201.1 324.6,201.2 325.1,201.1 325.6,200.7 326.1,200.7 326.5,200.9 327.0,200.6 327.5,200.9 328.0,200.7 328.5,200.9 329.0,200.8 329.5,200.6 330.0,200.7 330.5,200.6 331.0,200.2 331.4,200.0 331.9,200.8 332.4,200.6 332.9,200.4 333.4,200.2 333.9,200.2 334.4,200.4 334.9,200.4 335.4,200.1 335.9,200.1 336.4,199.8 336.8,199.5 337.3,199.5 337.8,199.5 338.3,199.8 338.8,199.7 339.3,199.8 339.8,199.8 340.3,199.5 340.8,199.8 341.3,199.5 341.7,199.4 342.2,199.6 342.7,199.5 343.2,199.5 343.7,199.6 344.2,199.5 344.7,199.4 345.2,199.9 345.7,199.3 346.2,199.1 346.7,199.1 347.1,199.0 347.6,199.1 348.1,198.8 348.6,198.6 349.1,198.7 349.6,198.5 350.1,198.6 350.6,198.6 351.1,198.8 351.6,198.6 352.0,198.7 352.5,198.7 353.0,197.0 353.5,195.1 354.0,194.6 354.5,194.8 355.0,195.0 355.5,195.1 356.0,195.3 356.5,195.1 356.9,195.2 357.4,195.2 357.9,195.2 358.4,194.8 358.9,194.9 359.4,194.8 359.9,194.5 360.4,194.2 360.9,194.0 361.4,193.6 361.9,193.9 362.3,194.0 362.8,194.5 363.3,194.4 363.8,194.7 364.3,194.6 364.8,194.9 365.3,195.1 365.8,195.5 366.3,195.3 366.8,195.3 367.2,195.7 367.7,196.2 368.2,196.1 368.7,196.3 369.2,196.5 369.7,196.7 370.2,196.7 370.7,196.6 371.2,196.7 371.7,197.0 372.2,197.3 372.6,197.3 373.1,197.2 373.6,197.3 374.1,197.4 374.6,197.2 375.1,197.3 375.6,197.7 376.1,197.9 376.6,198.3 377.1,198.1 377.5,198.1 378.0,198.1 378.5,198.1 379.0,198.3 379.5,198.3 380.0,198.7 380.5,198.7 381.0,198.7 381.5,199.1 382.0,199.0 382.4,199.1 382.9,199.3 383.4,199.4" fill="none" stroke="#ff0000" stroke-width="1.45" stroke-linejoin="round" stroke-linecap="round"/>
<polyline points="284.4,206.1 284.9,205.8 285.4,205.9 285.8,206.1 286.3,206.5 286.8,206.8 287.3,207.1 287.8,207.3 288.3,207.5 288.8,207.6 289.3,207.1 289.8,206.5 290.3,206.6 290.7,207.4 291.2,208.3 291.7,208.1 292.2,208.2 292.7,207.6 293.2,207.6 293.7,207.2 294.2,207.8 294.7,207.9 295.2,208.8 295.7,209.1 296.1,209.8 296.6,209.9 297.1,209.4 297.6,208.6 298.1,208.3 298.6,208.9 299.1,209.4 299.6,210.4 300.1,210.4 300.6,210.5 301.0,209.9 301.5,209.7 302.0,209.9 302.5,210.8 303.0,211.1 303.5,211.7 304.0,212.3 304.5,211.4 305.0,211.1 305.5,210.8 305.9,210.9 306.4,211.9 306.9,212.3 307.4,212.8 307.9,212.2 308.4,212.2 308.9,211.7 309.4,211.7 309.9,212.0 310.4,212.5 310.9,213.5 311.3,213.8 311.8,213.8 312.3,213.5 312.8,213.2 313.3,213.0 313.8,212.8 314.3,212.7 314.8,213.9 315.3,214.8 315.8,216.0 316.2,215.1 316.7,215.0 317.2,214.5 317.7,214.8 318.2,214.7 318.7,215.7 319.2,215.6 319.7,215.5 320.2,215.3 320.7,214.9 321.2,215.3 321.6,215.8 322.1,216.1 322.6,216.7 323.1,217.2 323.6,217.5 324.1,217.1 324.6,216.9 325.1,217.0 325.6,217.7 326.1,217.7 326.5,218.4 327.0,218.4 327.5,218.4 328.0,218.4 328.5,218.1 329.0,218.1 329.5,218.5 330.0,218.7 330.5,218.9 331.0,219.3 331.4,219.3 331.9,219.4 332.4,219.1 332.9,219.3 333.4,219.7 333.9,219.8 334.4,220.6 334.9,220.9 335.4,221.0 335.9,221.0 336.4,219.9 336.8,219.9 337.3,220.5 337.8,220.9 338.3,221.1 338.8,221.8 339.3,221.4 339.8,221.2 340.3,220.8 340.8,220.7 341.3,221.5 341.7,222.1 342.2,222.9 342.7,223.0 343.2,222.9 343.7,222.3 344.2,221.9 344.7,221.7 345.2,222.5 345.7,222.6 346.2,223.5 346.7,223.5 347.1,223.4 347.6,223.6 348.1,223.0 348.6,222.7 349.1,223.5 349.6,224.1 350.1,224.5 350.6,225.1 351.1,224.5 351.6,224.5 352.0,223.8 352.5,223.5 353.0,223.4 353.5,223.7 354.0,224.0 354.5,222.8 355.0,222.8 355.5,222.6 356.0,222.6 356.5,222.7 356.9,222.6 357.4,223.3 357.9,223.1 358.4,223.6 358.9,223.5 359.4,223.0 359.9,222.2 360.4,221.8 360.9,221.6 361.4,221.5 361.9,222.3 362.3,222.5 362.8,222.7 363.3,223.0 363.8,222.6 364.3,222.5 364.8,222.7 365.3,223.5 365.8,223.7 366.3,223.7 366.8,224.2 367.2,224.0 367.7,223.5 368.2,223.0 368.7,222.7 369.2,223.6 369.7,223.7 370.2,224.3 370.7,224.2 371.2,224.4 371.7,224.8 372.2,224.8 372.6,224.9 373.1,225.4 373.6,225.7 374.1,226.5 374.6,227.2 375.1,227.1 375.6,226.8 376.1,226.4 376.6,226.1 377.1,226.6 377.5,227.3 378.0,227.8 378.5,227.8 379.0,227.5 379.5,227.5 380.0,227.9 380.5,227.9 381.0,229.3 381.5,230.6 382.0,232.0 382.4,234.1 382.9,235.3" fill="none" stroke="#c9c9c9" stroke-width="1.55" stroke-linejoin="round" stroke-linecap="round"/>
<path d="M284.40,189.20V255.50H383.70" fill="none" stroke="#9c9c9c" stroke-width="1.25"/>
<path d="M284.40,255.50h1.2M284.40,239.05h1.2M284.40,222.60h1.2M284.40,206.15h1.2M284.40,189.70h1.2M284.40,255.50v-1.2M308.88,255.50v-1.2M333.64,255.50v-1.2M358.67,255.50v-1.2M383.70,255.50v-1.2" stroke="#9c9c9c" stroke-width="0.9" fill="none"/>
<polyline points="402.0,206.0 402.5,205.9 402.9,205.8 403.4,206.0 403.9,205.7 404.4,205.5 404.9,205.6 405.4,205.9 405.9,205.9 406.4,206.1 406.9,205.4 407.4,205.9 407.8,205.8 408.3,206.0 408.8,205.7 409.3,205.6 409.8,205.4 410.3,205.7 410.8,205.5 411.3,205.5 411.8,205.6 412.3,205.4 412.8,205.2 413.2,205.3 413.7,205.1 414.2,204.9 414.7,204.9 415.2,204.7 415.7,204.7 416.2,204.5 416.7,204.8 417.2,204.5 417.7,204.6 418.1,204.6 418.6,204.8 419.1,204.4 419.6,204.2 420.1,204.3 420.6,204.0 421.1,204.0 421.6,203.8 422.1,203.3 422.6,203.2 423.0,203.0 423.5,203.0 424.0,202.8 424.5,202.9 425.0,202.7 425.5,202.5 426.0,202.4 426.5,202.2 427.0,201.7 427.5,202.0 428.0,201.4 428.4,201.3 428.9,201.4 429.4,201.2 429.9,201.2 430.4,201.0 430.9,201.1 431.4,200.9 431.9,200.7 432.4,200.5 432.9,200.5 433.3,200.7 433.8,200.6 434.3,200.5 434.8,200.2 435.3,200.1 435.8,200.2 436.3,200.1 436.8,200.1 437.3,199.8 437.8,199.9 438.2,199.7 438.7,199.5 439.2,199.7 439.7,199.8 440.2,199.4 440.7,199.3 441.2,199.3 441.7,199.5 442.2,199.4 442.7,199.3 443.2,199.0 443.6,199.1 444.1,199.3 444.6,198.9 445.1,198.7 445.6,198.8 446.1,198.7 446.6,198.8 447.1,198.4 447.6,198.4 448.1,198.6 448.5,198.3 449.0,198.4 449.5,198.1 450.0,198.2 450.5,198.0 451.0,198.1 451.5,198.4 452.0,198.2 452.5,198.3 453.0,198.1 453.5,198.2 453.9,198.0 454.4,197.7 454.9,197.7 455.4,197.4 455.9,197.5 456.4,197.4 456.9,197.8 457.4,197.7 457.9,197.0 458.4,197.2 458.8,197.1 459.3,197.1 459.8,196.8 460.3,197.0 460.8,196.7 461.3,196.8 461.8,196.3 462.3,196.6 462.8,196.4 463.3,196.4 463.8,196.0 464.2,196.1 464.7,196.2 465.2,196.4 465.7,196.0 466.2,196.1 466.7,195.8 467.2,195.8 467.7,195.8 468.2,195.8 468.7,195.5 469.1,195.3 469.6,195.1 470.1,195.0 470.6,195.1 471.1,194.9 471.6,195.0 472.1,195.2 472.6,195.6 473.1,195.5 473.6,195.3 474.0,195.2 474.5,195.1 475.0,195.2 475.5,195.1 476.0,195.0 476.5,195.4 477.0,195.3 477.5,195.3 478.0,195.3 478.5,195.2 479.0,195.2 479.4,195.3 479.9,195.5 480.4,195.6 480.9,195.6 481.4,195.4 481.9,195.7 482.4,195.9 482.9,195.8 483.4,195.6 483.9,195.6 484.3,195.6 484.8,195.8 485.3,195.9 485.8,196.0 486.3,196.0 486.8,196.0 487.3,196.0 487.8,196.2 488.3,196.0 488.8,196.1 489.2,196.0 489.7,196.2 490.2,196.4 490.7,196.7 491.2,197.0 491.7,196.9 492.2,196.5 492.7,196.5 493.2,196.7 493.7,196.9 494.2,197.2 494.6,197.2 495.1,197.1 495.6,197.1 496.1,197.0 496.6,197.4 497.1,197.4 497.6,197.3 498.1,197.3 498.6,197.3 499.1,197.5 499.5,197.8 500.0,197.8 500.5,197.9 501.0,197.6" fill="none" stroke="#ff0000" stroke-width="1.45" stroke-linejoin="round" stroke-linecap="round"/>
<polyline points="402.0,206.3 402.5,206.6 402.9,206.9 403.4,207.4 403.9,207.6 404.4,208.3 404.9,209.1 405.4,209.8 405.9,210.4 406.4,210.8 406.9,210.4 407.4,210.5 407.8,211.5 408.3,213.0 408.8,214.0 409.3,213.4 409.8,213.3 410.3,213.2 410.8,212.8 411.3,213.8 411.8,215.2 412.3,215.6 412.8,217.2 413.2,216.9 413.7,216.4 414.2,216.0 414.7,215.4 415.2,216.7 415.7,217.9 416.2,219.6 416.7,220.8 417.2,220.4 417.7,219.8 418.1,218.4 418.6,218.1 419.1,219.8 419.6,220.2 420.1,221.0 420.6,222.1 421.1,220.9 421.6,220.3 422.1,220.1 422.6,220.8 423.0,222.4 423.5,223.4 424.0,224.9 424.5,225.4 425.0,224.2 425.5,223.4 426.0,223.7 426.5,223.9 427.0,225.1 427.5,225.5 428.0,226.6 428.4,226.0 428.9,225.7 429.4,224.6 429.9,224.5 430.4,225.5 430.9,225.7 431.4,227.2 431.9,227.4 432.4,227.3 432.9,226.4 433.3,226.2 433.8,226.4 434.3,227.6 434.8,227.7 435.3,228.0 435.8,228.0 436.3,227.4 436.8,226.4 437.3,226.3 437.8,226.5 438.2,227.7 438.7,228.5 439.2,229.2 439.7,228.4 440.2,228.1 440.7,227.9 441.2,228.5 441.7,229.6 442.2,231.0 442.7,231.4 443.2,232.5 443.6,231.1 444.1,230.9 444.6,230.6 445.1,230.7 445.6,230.8 446.1,231.3 446.6,232.7 447.1,233.9 447.6,233.8 448.1,233.1 448.5,233.3 449.0,233.5 449.5,233.6 450.0,233.9 450.5,235.1 451.0,236.0 451.5,236.1 452.0,235.8 452.5,235.5 453.0,234.2 453.5,235.3 453.9,236.4 454.4,237.7 454.9,237.8 455.4,237.6 455.9,237.0 456.4,236.7 456.9,236.8 457.4,237.2 457.9,238.4 458.4,238.3 458.8,239.9 459.3,239.1 459.8,238.3 460.3,237.1 460.8,234.8 461.3,234.9 461.8,235.3 462.3,236.1 462.8,236.8 463.3,235.6 463.8,234.6 464.2,233.3 464.7,231.8 465.2,231.9 465.7,232.2 466.2,233.2 466.7,233.5 467.2,233.2 467.7,232.7 468.2,232.0 468.7,230.1 469.1,230.2 469.6,231.0 470.1,232.5 470.6,232.1 471.1,231.2 471.6,231.3 472.1,230.4 472.6,229.9 473.1,229.9 473.6,230.9 474.0,232.0 474.5,232.7 475.0,231.6 475.5,230.6 476.0,229.5 476.5,228.9 477.0,228.6 477.5,229.8 478.0,230.0 478.5,230.7 479.0,230.0 479.4,229.8 479.9,228.5 480.4,227.4 480.9,228.4 481.4,229.0 481.9,229.8 482.4,231.5 482.9,230.6 483.4,230.2 483.9,229.4 484.3,229.0 484.8,229.3 485.3,229.6 485.8,231.1 486.3,231.4 486.8,230.6 487.3,230.1 487.8,230.3 488.3,231.5 488.8,231.4 489.2,232.7 489.7,233.1 490.2,233.3 490.7,233.1 491.2,233.0 491.7,232.0 492.2,233.5 492.7,235.1 493.2,237.2 493.7,237.2 494.2,237.7 494.6,237.5 495.1,237.5 495.6,237.0 496.1,237.7 496.6,238.9 497.1,239.7 497.6,240.4 498.1,239.7 498.6,239.8 499.1,239.4 499.5,240.0 500.0,240.2 500.5,240.9 501.0,241.9" fill="none" stroke="#c9c9c9" stroke-width="1.55" stroke-linejoin="round" stroke-linecap="round"/>
<path d="M402.00,189.20V255.50H501.30" fill="none" stroke="#9c9c9c" stroke-width="1.25"/>
<path d="M402.00,255.50h1.2M402.00,239.05h1.2M402.00,222.60h1.2M402.00,206.15h1.2M402.00,189.70h1.2M402.00,255.50v-1.2M426.48,255.50v-1.2M451.24,255.50v-1.2M476.27,255.50v-1.2M501.30,255.50v-1.2" stroke="#9c9c9c" stroke-width="0.9" fill="none"/>
<polyline points="49.6,299.2 50.1,300.4 50.5,299.7 51.0,299.6 51.5,301.1 52.0,301.9 52.5,302.0 53.0,301.1 53.5,301.9 54.0,303.1 54.5,302.7 55.0,301.7 55.5,300.7 55.9,299.8 56.4,301.4 56.9,301.1 57.4,302.8 57.9,302.3 58.4,301.3 58.9,301.8 59.4,302.0 59.9,301.7 60.4,301.7 60.8,301.8 61.3,301.1 61.8,301.6 62.3,302.2 62.8,302.7 63.3,302.8 63.8,301.0 64.3,301.2 64.8,302.1 65.3,302.7 65.8,303.2 66.2,303.5 66.7,303.2 67.2,304.6 67.7,302.9 68.2,302.2 68.7,300.9 69.2,302.3 69.7,303.2 70.2,303.4 70.7,302.2 71.1,301.6 71.6,300.8 72.1,303.0 72.6,303.8 73.1,303.0 73.6,303.7 74.1,302.3 74.6,302.0 75.1,302.6 75.6,301.8 76.0,301.6 76.5,302.5 77.0,301.9 77.5,302.5 78.0,301.6 78.5,302.6 79.0,302.9 79.5,302.7 80.0,304.0 80.5,302.0 81.0,302.1 81.4,302.3 81.9,302.6 82.4,303.7 82.9,303.6 83.4,304.2 83.9,301.9 84.4,300.1 84.9,299.6 85.4,300.6 85.9,302.2 86.3,302.4 86.8,302.1 87.3,301.9 87.8,300.8 88.3,300.4 88.8,300.2 89.3,300.0 89.8,301.5 90.3,302.6 90.8,300.8 91.3,301.3 91.7,301.6 92.2,301.7 92.7,300.5 93.2,300.4 93.7,300.6 94.2,302.1 94.7,302.2 95.2,302.6 95.7,303.7 96.2,302.8 96.6,302.6 97.1,300.7 97.6,300.8 98.1,301.0 98.6,302.8 99.1,303.1 99.6,302.8 100.1,301.8 100.6,302.3 101.1,303.0 101.6,304.1 102.0,303.1 102.5,303.8 103.0,303.7 103.5,303.5 104.0,304.4 104.5,303.1 105.0,303.8 105.5,303.5 106.0,303.7 106.5,303.9 106.9,304.4 107.4,304.4 107.9,304.1 108.4,303.8 108.9,302.8 109.4,302.3 109.9,301.1 110.4,303.5 110.9,305.2 111.4,306.9 111.8,306.6 112.3,305.4 112.8,304.8 113.3,303.9 113.8,304.7 114.3,305.3 114.8,306.0 115.3,306.0 115.8,304.8 116.3,304.5 116.8,305.6 117.2,307.1 117.7,308.2 118.2,307.6 118.7,306.1 119.2,302.4 119.7,300.6 120.2,300.1 120.7,302.4 121.2,303.3 121.7,305.6 122.1,305.1 122.6,306.4 123.1,305.9 123.6,307.7 124.1,307.1 124.6,306.6 125.1,309.0 125.6,307.7 126.1,308.2 126.6,307.3 127.1,306.3 127.5,307.2 128.0,308.5 128.5,308.6 129.0,309.3 129.5,310.3 130.0,310.0 130.5,308.9 131.0,308.2 131.5,308.3 132.0,308.9 132.4,308.1 132.9,307.1 133.4,308.6 133.9,307.8 134.4,307.8 134.9,306.6 135.4,307.1 135.9,307.7 136.4,308.2 136.9,308.2 137.3,308.5 137.8,307.9 138.3,307.5 138.8,307.6 139.3,308.7 139.8,308.4 140.3,309.6 140.8,308.5 141.3,309.3 141.8,307.6 142.3,308.1 142.7,307.1 143.2,307.5 143.7,307.5 144.2,309.4 144.7,308.5 145.2,308.3 145.7,305.5 146.2,308.0 146.7,307.5 147.2,308.2 147.6,305.8 148.1,305.5 148.6,304.5" fill="none" stroke="#111111" stroke-width="1.65" stroke-linejoin="round" stroke-linecap="round"/>
<polyline points="49.6,296.8 50.1,297.3 50.5,298.0 51.0,298.0 51.5,297.9 52.0,297.6 52.5,299.0 53.0,297.9 53.5,299.0 54.0,299.9 54.5,299.8 55.0,301.0 55.5,299.8 55.9,298.8 56.4,298.2 56.9,297.3 57.4,298.5 57.9,297.6 58.4,298.0 58.9,298.4 59.4,299.1 59.9,298.4 60.4,297.9 60.8,297.4 61.3,298.3 61.8,298.3 62.3,298.7 62.8,299.3 63.3,298.7 63.8,298.2 64.3,296.9 64.8,297.1 65.3,298.7 65.8,300.2 66.2,300.8 66.7,299.8 67.2,301.0 67.7,298.9 68.2,298.9 68.7,297.3 69.2,299.4 69.7,298.6 70.2,299.6 70.7,299.0 71.1,298.9 71.6,298.8 72.1,298.0 72.6,299.2 73.1,300.0 73.6,299.7 74.1,299.5 74.6,299.1 75.1,298.1 75.6,298.7 76.0,298.0 76.5,298.1 77.0,297.5 77.5,297.1 78.0,297.9 78.5,296.9 79.0,296.6 79.5,296.7 80.0,296.8 80.5,296.5 81.0,297.3 81.4,297.8 81.9,296.6 82.4,296.8 82.9,295.6 83.4,295.7 83.9,293.5 84.4,291.2 84.9,290.1 85.4,292.2 85.9,292.8 86.3,292.0 86.8,290.4 87.3,288.9 87.8,289.7 88.3,289.0 88.8,289.2 89.3,289.9 89.8,289.9 90.3,290.7 90.8,289.3 91.3,289.7 91.7,288.9 92.2,287.5 92.7,286.8 93.2,286.2 93.7,287.4 94.2,287.4 94.7,288.4 95.2,287.5 95.7,287.6 96.2,287.5 96.6,286.9 97.1,285.7 97.6,286.2 98.1,286.4 98.6,286.9 99.1,285.9 99.6,286.0 100.1,284.9 100.6,285.6 101.1,285.5 101.6,287.2 102.0,287.7 102.5,287.4 103.0,286.0 103.5,286.3 104.0,284.8 104.5,284.7 105.0,284.5 105.5,286.0 106.0,285.7 106.5,284.7 106.9,284.6 107.4,285.8 107.9,287.1 108.4,287.3 108.9,288.0 109.4,286.8 109.9,286.2 110.4,287.9 110.9,290.1 111.4,290.7 111.8,290.0 112.3,288.3 112.8,287.4 113.3,286.8 113.8,285.5 114.3,285.2 114.8,286.7 115.3,285.8 115.8,284.4 116.3,284.5 116.8,285.5 117.2,287.5 117.7,290.0 118.2,292.4 118.7,290.6 119.2,287.0 119.7,285.0 120.2,283.8 120.7,284.7 121.2,285.5 121.7,286.1 122.1,286.2 122.6,285.8 123.1,287.6 123.6,287.3 124.1,289.1 124.6,290.5 125.1,292.0 125.6,292.2 126.1,291.6 126.6,291.8 127.1,290.1 127.5,289.0 128.0,287.3 128.5,288.0 129.0,289.0 129.5,289.8 130.0,290.4 130.5,289.4 131.0,290.4 131.5,288.7 132.0,288.8 132.4,288.0 132.9,288.1 133.4,288.6 133.9,287.9 134.4,288.6 134.9,287.8 135.4,288.7 135.9,289.2 136.4,288.8 136.9,288.8 137.3,288.8 137.8,288.1 138.3,287.9 138.8,286.6 139.3,285.2 139.8,286.0 140.3,286.2 140.8,285.4 141.3,284.8 141.8,284.4 142.3,284.1 142.7,285.0 143.2,285.3 143.7,284.6 144.2,285.4 144.7,284.9 145.2,285.4 145.7,284.0 146.2,284.6 146.7,284.5 147.2,284.2 147.6,284.0 148.1,283.2 148.6,284.0" fill="none" stroke="#ff0000" stroke-width="1.45" stroke-linejoin="round" stroke-linecap="round"/>
<polyline points="49.6,299.0 50.1,300.3 50.5,300.4 51.0,301.2 51.5,301.6 52.0,301.8 52.5,302.6 53.0,302.5 53.5,303.6 54.0,304.0 54.5,303.8 55.0,303.8 55.5,303.5 55.9,303.0 56.4,303.9 56.9,302.9 57.4,303.3 57.9,301.5 58.4,302.3 58.9,302.5 59.4,303.6 59.9,302.9 60.4,303.1 60.8,302.2 61.3,302.3 61.8,302.7 62.3,304.1 62.8,304.9 63.3,304.4 63.8,303.7 64.3,303.6 64.8,303.4 65.3,304.8 65.8,304.6 66.2,305.4 66.7,306.3 67.2,306.4 67.7,305.3 68.2,303.6 68.7,301.3 69.2,304.1 69.7,304.6 70.2,305.4 70.7,303.9 71.1,303.2 71.6,302.8 72.1,304.3 72.6,306.0 73.1,305.7 73.6,304.5 74.1,303.4 74.6,304.5 75.1,304.6 75.6,305.0 76.0,305.0 76.5,304.0 77.0,302.5 77.5,303.8 78.0,304.0 78.5,304.6 79.0,305.3 79.5,304.5 80.0,303.7 80.5,304.0 81.0,303.4 81.4,303.9 81.9,303.6 82.4,304.6 82.9,304.7 83.4,305.6 83.9,304.3 84.4,301.2 84.9,300.7 85.4,300.9 85.9,302.2 86.3,302.9 86.8,302.1 87.3,301.7 87.8,301.6 88.3,301.4 88.8,302.1 89.3,300.1 89.8,302.1 90.3,303.8 90.8,304.0 91.3,303.5 91.7,303.4 92.2,304.3 92.7,302.9 93.2,303.8 93.7,305.0 94.2,305.0 94.7,305.2 95.2,305.9 95.7,305.4 96.2,306.4 96.6,305.3 97.1,304.8 97.6,305.7 98.1,306.6 98.6,307.2 99.1,307.2 99.6,305.2 100.1,304.2 100.6,304.5 101.1,306.5 101.6,308.1 102.0,307.9 102.5,307.6 103.0,306.5 103.5,307.6 104.0,307.0 104.5,306.6 105.0,307.4 105.5,307.6 106.0,307.4 106.5,307.7 106.9,307.7 107.4,308.5 107.9,309.5 108.4,308.8 108.9,309.2 109.4,309.2 109.9,307.8 110.4,308.4 110.9,310.1 111.4,312.1 111.8,311.4 112.3,309.8 112.8,309.0 113.3,310.9 113.8,311.0 114.3,311.6 114.8,311.9 115.3,310.9 115.8,310.8 116.3,310.3 116.8,310.9 117.2,312.1 117.7,313.1 118.2,313.9 118.7,313.6 119.2,312.3 119.7,312.4 120.2,313.6 120.7,313.9 121.2,313.7 121.7,314.2 122.1,314.1 122.6,314.5 123.1,315.0 123.6,314.3 124.1,315.1 124.6,314.9 125.1,315.5 125.6,315.2 126.1,315.9 126.6,315.1 127.1,314.4 127.5,315.5 128.0,317.6 128.5,317.6 129.0,318.7 129.5,318.1 130.0,318.9 130.5,317.7 131.0,317.8 131.5,316.1 132.0,316.1 132.4,316.6 132.9,316.0 133.4,317.2 133.9,316.8 134.4,316.9 134.9,315.8 135.4,316.2 135.9,316.5 136.4,316.9 136.9,319.1 137.3,318.8 137.8,319.4 138.3,317.8 138.8,317.1 139.3,316.1 139.8,314.9 140.3,315.1 140.8,316.1 141.3,317.0 141.8,316.5 142.3,316.7 142.7,316.8 143.2,316.2 143.7,316.1 144.2,317.1 144.7,317.0 145.2,318.0 145.7,315.7 146.2,315.6 146.7,316.0 147.2,315.3 147.6,314.8 148.1,313.6 148.6,313.1" fill="none" stroke="#c9c9c9" stroke-width="1.55" stroke-linejoin="round" stroke-linecap="round"/>
<path d="M49.50,274.10V340.40H148.80" fill="none" stroke="#9c9c9c" stroke-width="1.25"/>
<path d="M49.50,340.40h1.2M49.50,318.47h1.2M49.50,296.53h1.2M49.50,274.60h1.2M49.50,340.40v-1.2M73.98,340.40v-1.2M98.74,340.40v-1.2M123.77,340.40v-1.2M148.80,340.40v-1.2" stroke="#9c9c9c" stroke-width="0.9" fill="none"/>
<polyline points="167.0,299.4 167.5,299.2 167.9,299.8 168.4,300.1 168.9,300.0 169.4,300.1 169.9,300.9 170.4,300.9 170.9,300.2 171.4,300.8 171.9,302.7 172.4,302.7 172.8,302.5 173.3,302.8 173.8,303.0 174.3,302.6 174.8,302.6 175.3,302.4 175.8,302.7 176.3,303.3 176.8,303.8 177.3,303.3 177.8,303.3 178.2,302.8 178.7,302.9 179.2,303.4 179.7,303.7 180.2,303.3 180.7,304.2 181.2,305.2 181.7,305.9 182.2,304.8 182.7,304.4 183.1,304.7 183.6,304.8 184.1,304.9 184.6,304.5 185.1,305.4 185.6,305.6 186.1,305.6 186.6,304.9 187.1,305.5 187.6,306.1 188.0,305.8 188.5,306.0 189.0,306.2 189.5,306.7 190.0,305.8 190.5,306.7 191.0,307.0 191.5,306.7 192.0,305.2 192.5,304.8 193.0,305.7 193.4,305.7 193.9,304.9 194.4,304.5 194.9,304.1 195.4,304.3 195.9,303.8 196.4,302.9 196.9,301.9 197.4,302.2 197.9,300.8 198.3,301.1 198.8,299.6 199.3,299.5 199.8,299.5 200.3,300.1 200.8,299.8 201.3,299.4 201.8,298.4 202.3,297.3 202.8,296.6 203.2,296.7 203.7,296.1 204.2,296.5 204.7,296.9 205.2,297.5 205.7,297.6 206.2,297.1 206.7,297.3 207.2,298.1 207.7,297.1 208.2,296.9 208.6,296.1 209.1,297.0 209.6,297.7 210.1,298.5 210.6,300.1 211.1,301.0 211.6,300.0 212.1,299.4 212.6,298.3 213.1,297.9 213.5,297.6 214.0,296.5 214.5,296.3 215.0,295.6 215.5,295.3 216.0,294.7 216.5,294.6 217.0,294.5 217.5,295.5 218.0,295.5 218.5,295.9 218.9,296.8 219.4,298.3 219.9,298.2 220.4,297.6 220.9,297.6 221.4,298.4 221.9,299.0 222.4,299.0 222.9,299.1 223.4,298.5 223.8,298.4 224.3,297.3 224.8,296.2 225.3,296.5 225.8,296.2 226.3,296.9 226.8,296.2 227.3,296.0 227.8,296.3 228.3,296.8 228.8,297.7 229.2,298.3 229.7,297.9 230.2,298.4 230.7,300.0 231.2,300.9 231.7,301.6 232.2,300.8 232.7,300.3 233.2,300.2 233.7,299.2 234.1,298.3 234.6,297.6 235.1,298.6 235.6,299.1 236.1,298.9 236.6,299.4 237.1,300.0 237.6,301.7 238.1,301.0 238.6,299.3 239.0,298.7 239.5,298.3 240.0,298.0 240.5,298.1 241.0,298.6 241.5,299.7 242.0,300.0 242.5,299.8 243.0,299.3 243.5,298.7 244.0,299.4 244.4,300.4 244.9,300.8 245.4,300.9 245.9,300.5 246.4,301.2 246.9,302.5 247.4,303.2 247.9,302.9 248.4,302.3 248.9,302.3 249.3,301.9 249.8,302.4 250.3,303.4 250.8,303.1 251.3,303.5 251.8,303.4 252.3,304.4 252.8,304.1 253.3,306.1 253.8,306.3 254.2,306.3 254.7,306.4 255.2,307.1 255.7,306.4 256.2,307.2 256.7,307.1 257.2,307.9 257.7,308.0 258.2,308.0 258.7,305.3 259.2,304.8 259.6,303.4 260.1,303.4 260.6,303.2 261.1,304.3 261.6,304.0 262.1,304.4 262.6,303.6 263.1,302.8 263.6,302.5 264.1,302.7 264.5,301.7 265.0,300.2 265.5,299.9" fill="none" stroke="#111111" stroke-width="1.65" stroke-linejoin="round" stroke-linecap="round"/>
<polyline points="167.0,297.6 167.5,299.3 167.9,299.2 168.4,298.4 168.9,298.4 169.4,297.6 169.9,297.6 170.4,296.8 170.9,297.1 171.4,298.8 171.9,298.7 172.4,300.7 172.8,300.3 173.3,301.1 173.8,300.6 174.3,301.7 174.8,302.0 175.3,302.1 175.8,302.9 176.3,303.6 176.8,303.1 177.3,302.8 177.8,301.9 178.2,301.6 178.7,302.0 179.2,302.1 179.7,301.7 180.2,302.4 180.7,302.2 181.2,302.1 181.7,303.0 182.2,302.0 182.7,302.7 183.1,301.9 183.6,301.2 184.1,300.9 184.6,301.1 185.1,302.4 185.6,302.8 186.1,302.7 186.6,302.0 187.1,301.7 187.6,301.5 188.0,302.7 188.5,302.6 189.0,301.6 189.5,301.6 190.0,300.7 190.5,302.0 191.0,302.1 191.5,301.0 192.0,300.9 192.5,300.4 193.0,301.1 193.4,300.6 193.9,300.4 194.4,299.2 194.9,299.7 195.4,298.8 195.9,299.3 196.4,297.5 196.9,297.7 197.4,296.5 197.9,296.2 198.3,295.2 198.8,294.0 199.3,293.7 199.8,293.7 200.3,294.5 200.8,294.0 201.3,293.0 201.8,292.1 202.3,290.9 202.8,291.0 203.2,291.3 203.7,290.5 204.2,290.4 204.7,290.4 205.2,291.5 205.7,292.2 206.2,290.7 206.7,290.2 207.2,290.0 207.7,289.4 208.2,289.9 208.6,289.3 209.1,290.2 209.6,290.0 210.1,291.7 210.6,290.8 211.1,291.5 211.6,290.0 212.1,289.0 212.6,288.6 213.1,287.8 213.5,286.9 214.0,286.6 214.5,287.6 215.0,287.0 215.5,286.4 216.0,287.7 216.5,287.9 217.0,288.0 217.5,287.9 218.0,286.9 218.5,286.4 218.9,286.3 219.4,286.9 219.9,285.9 220.4,286.3 220.9,287.0 221.4,287.1 221.9,287.4 222.4,288.5 222.9,287.9 223.4,288.0 223.8,287.4 224.3,286.0 224.8,284.8 225.3,284.2 225.8,285.2 226.3,285.4 226.8,285.3 227.3,286.2 227.8,286.7 228.3,286.7 228.8,286.7 229.2,286.6 229.7,287.1 230.2,287.3 230.7,288.5 231.2,287.7 231.7,288.3 232.2,287.1 232.7,287.7 233.2,286.9 233.7,286.2 234.1,285.1 234.6,285.2 235.1,286.3 235.6,286.5 236.1,286.3 236.6,287.9 237.1,288.0 237.6,289.0 238.1,288.7 238.6,287.2 239.0,285.9 239.5,286.3 240.0,287.4 240.5,287.0 241.0,286.3 241.5,286.4 242.0,286.0 242.5,286.2 243.0,286.8 243.5,286.2 244.0,286.8 244.4,287.4 244.9,287.2 245.4,286.8 245.9,287.9 246.4,288.0 246.9,288.5 247.4,289.8 247.9,289.1 248.4,287.9 248.9,287.6 249.3,287.5 249.8,288.3 250.3,288.4 250.8,288.9 251.3,289.2 251.8,288.7 252.3,289.1 252.8,289.6 253.3,290.2 253.8,290.3 254.2,290.4 254.7,291.1 255.2,289.4 255.7,289.5 256.2,289.6 256.7,289.1 257.2,289.4 257.7,288.6 258.2,288.4 258.7,287.2 259.2,286.6 259.6,285.4 260.1,284.4 260.6,285.7 261.1,284.4 261.6,284.1 262.1,283.6 262.6,283.3 263.1,283.9 263.6,282.7 264.1,283.6 264.5,283.1 265.0,282.9 265.5,281.9 266.0,280.9" fill="none" stroke="#ff0000" stroke-width="1.45" stroke-linejoin="round" stroke-linecap="round"/>
<polyline points="167.0,299.5 167.5,299.3 167.9,300.7 168.4,299.2 168.9,300.2 169.4,300.6 169.9,301.4 170.4,301.0 170.9,300.5 171.4,301.8 171.9,303.2 172.4,303.9 172.8,304.0 173.3,304.5 173.8,304.5 174.3,305.0 174.8,303.3 175.3,304.2 175.8,303.9 176.3,304.3 176.8,305.4 177.3,305.1 177.8,304.5 178.2,304.5 178.7,304.8 179.2,305.3 179.7,305.7 180.2,306.6 180.7,307.3 181.2,307.4 181.7,306.8 182.2,306.5 182.7,307.0 183.1,306.1 183.6,306.4 184.1,305.8 184.6,305.7 185.1,306.9 185.6,307.5 186.1,307.6 186.6,307.3 187.1,307.9 187.6,308.0 188.0,308.0 188.5,306.7 189.0,307.2 189.5,307.5 190.0,306.6 190.5,307.1 191.0,306.5 191.5,306.0 192.0,305.7 192.5,305.3 193.0,306.1 193.4,305.2 193.9,304.3 194.4,303.8 194.9,303.9 195.4,303.8 195.9,304.4 196.4,303.2 196.9,303.2 197.4,302.8 197.9,302.1 198.3,301.0 198.8,300.7 199.3,300.2 199.8,300.7 200.3,301.2 200.8,301.2 201.3,300.0 201.8,300.1 202.3,299.2 202.8,298.6 203.2,299.0 203.7,298.1 204.2,299.2 204.7,299.0 205.2,299.7 205.7,299.7 206.2,299.0 206.7,299.6 207.2,300.2 207.7,300.1 208.2,301.7 208.6,301.8 209.1,301.9 209.6,302.3 210.1,302.1 210.6,302.7 211.1,302.9 211.6,302.4 212.1,301.8 212.6,302.0 213.1,302.1 213.5,301.4 214.0,302.0 214.5,301.8 215.0,301.7 215.5,301.5 216.0,301.6 216.5,302.8 217.0,302.7 217.5,302.9 218.0,303.0 218.5,303.8 218.9,304.0 219.4,305.2 219.9,305.1 220.4,305.1 220.9,305.4 221.4,306.6 221.9,306.0 222.4,306.5 222.9,304.8 223.4,305.6 223.8,304.6 224.3,304.4 224.8,304.1 225.3,304.5 225.8,304.7 226.3,305.2 226.8,305.2 227.3,306.2 227.8,306.1 228.3,307.6 228.8,307.2 229.2,307.0 229.7,307.6 230.2,308.6 230.7,309.0 231.2,308.7 231.7,310.1 232.2,308.8 232.7,308.8 233.2,307.5 233.7,307.5 234.1,307.4 234.6,307.6 235.1,306.9 235.6,307.5 236.1,307.2 236.6,307.5 237.1,309.8 237.6,310.5 238.1,309.9 238.6,308.4 239.0,307.7 239.5,308.5 240.0,308.1 240.5,308.0 241.0,308.3 241.5,308.5 242.0,308.3 242.5,308.4 243.0,308.5 243.5,309.0 244.0,309.0 244.4,309.2 244.9,310.4 245.4,310.2 245.9,310.3 246.4,311.1 246.9,312.3 247.4,312.4 247.9,312.8 248.4,311.7 248.9,311.7 249.3,310.9 249.8,311.7 250.3,312.6 250.8,312.8 251.3,311.8 251.8,312.7 252.3,313.4 252.8,314.1 253.3,315.0 253.8,316.5 254.2,315.9 254.7,316.9 255.2,316.6 255.7,315.9 256.2,316.7 256.7,317.4 257.2,317.7 257.7,316.8 258.2,316.5 258.7,315.0 259.2,314.5 259.6,312.7 260.1,312.4 260.6,312.2 261.1,313.5 261.6,311.8 262.1,310.9 262.6,310.2 263.1,310.6 263.6,310.6 264.1,311.0 264.5,310.4 265.0,309.4 265.5,308.9" fill="none" stroke="#c9c9c9" stroke-width="1.55" stroke-linejoin="round" stroke-linecap="round"/>
<path d="M166.90,274.10V340.40H266.20" fill="none" stroke="#9c9c9c" stroke-width="1.25"/>
<path d="M166.90,340.40h1.2M166.90,318.47h1.2M166.90,296.53h1.2M166.90,274.60h1.2M166.90,340.40v-1.2M191.38,340.40v-1.2M216.14,340.40v-1.2M241.17,340.40v-1.2M266.20,340.40v-1.2" stroke="#9c9c9c" stroke-width="0.9" fill="none"/>
<polygon points="313.8,317.5 314.3,318.5 314.8,319.0 315.3,317.8 315.8,319.4 316.2,318.9 316.7,319.6 317.2,319.3 317.7,318.4 318.2,318.4 318.7,320.2 319.2,322.0 319.7,320.0 320.2,320.4 320.7,319.4 321.2,319.2 321.6,319.0 322.1,319.6 322.6,318.6 323.1,318.7 323.6,319.3 324.1,321.0 324.6,319.8 325.1,319.3 325.6,318.5 326.1,320.8 326.5,321.7 327.0,320.6 327.5,321.1 328.0,321.4 328.5,321.5 329.0,322.6 329.5,321.3 330.0,322.0 330.5,321.9 331.0,322.9 331.4,323.3 331.9,322.9 332.4,323.0 332.9,323.1 333.4,322.1 333.9,322.7 334.4,323.0 334.9,321.7 335.4,322.4 335.9,321.7 336.4,323.1 336.8,323.8 337.3,324.8 337.8,323.1 338.3,322.3 338.8,321.9 339.3,325.0 339.8,323.0 340.3,323.3 340.8,323.3 341.3,323.2 341.7,325.1 342.2,324.3 342.7,325.1 343.2,325.2 343.7,322.8 344.2,323.1 344.7,321.7 345.2,322.9 345.7,323.8 346.2,323.9 346.7,325.2 347.1,324.8 347.6,324.7 348.1,326.2 348.6,326.7 349.1,325.5 349.6,324.2 350.1,325.3 350.6,326.4 351.1,328.5 351.6,330.9 352.0,333.5 352.5,321.7 353.0,313.9 353.5,314.7 354.0,312.0 354.5,312.6 355.0,312.6 355.5,311.0 356.0,311.2 356.5,312.6 356.9,312.3 357.4,311.3 357.9,309.9 358.4,310.4 358.9,310.5 359.4,309.3 359.9,309.4 360.4,309.3 360.9,307.3 361.4,306.1 361.9,306.7 362.3,305.6 362.8,302.6 363.3,302.4 363.8,302.4 364.3,304.4 364.8,302.1 365.3,305.4 365.8,307.0 366.3,308.8 366.8,306.1 367.2,304.4 367.7,304.0 368.2,304.0 368.7,306.2 369.2,302.8 369.7,303.9 370.2,304.5 370.7,306.0 371.2,306.7 371.7,306.3 372.2,308.7 372.6,308.9 373.1,310.1 373.6,313.6 374.1,313.2 374.6,314.1 375.1,314.9 375.6,314.5 376.1,315.2 376.6,315.6 377.1,316.3 377.5,317.6 378.0,319.5 378.5,319.8 379.0,320.8 379.5,321.4 380.0,321.6 380.5,317.0 381.0,315.4 381.5,309.7 382.0,307.7 382.4,305.5 382.9,303.0 383.4,306.3 383.4,307.4 382.9,304.5 382.4,306.6 382.0,309.2 381.5,310.6 381.0,316.7 380.5,318.5 380.0,322.9 379.5,323.0 379.0,321.6 378.5,320.9 378.0,320.6 377.5,318.5 377.1,317.6 376.6,316.9 376.1,316.9 375.6,315.6 375.1,316.0 374.6,315.1 374.1,314.7 373.6,314.9 373.1,311.6 372.6,310.4 372.2,309.7 371.7,307.5 371.2,308.0 370.7,307.3 370.2,306.0 369.7,305.1 369.2,304.6 368.7,307.6 368.2,305.2 367.7,305.4 367.2,305.8 366.8,307.8 366.3,310.1 365.8,308.1 365.3,306.7 364.8,303.9 364.3,305.6 363.8,303.7 363.3,303.8 362.8,304.0 362.3,307.2 361.9,307.9 361.4,307.8 360.9,308.7 360.4,310.2 359.9,310.5 359.4,311.0 358.9,312.1 358.4,311.2 357.9,311.3 357.4,312.9 356.9,313.8 356.5,314.1 356.0,311.9 355.5,312.2 355.0,313.5 354.5,314.0 354.0,313.0 353.5,315.8 353.0,315.2 352.5,322.8 352.0,334.9 351.6,332.8 351.1,329.9 350.6,328.1 350.1,326.6 349.6,325.3 349.1,326.7 348.6,328.2 348.1,327.5 347.6,325.6 347.1,326.4 346.7,326.7 346.2,325.6 345.7,324.7 345.2,324.5 344.7,323.1 344.2,324.4 343.7,324.1 343.2,326.6 342.7,326.2 342.2,325.9 341.7,326.3 341.3,324.3 340.8,324.7 340.3,324.4 339.8,324.2 339.3,326.6 338.8,323.5 338.3,323.6 337.8,324.6 337.3,326.1 336.8,325.5 336.4,324.7 335.9,323.2 335.4,324.0 334.9,323.5 334.4,324.1 333.9,324.3 333.4,323.0 332.9,324.5 332.4,324.6 331.9,323.7 331.4,324.3 331.0,324.3 330.5,323.2 330.0,323.0 329.5,323.0 329.0,323.6 328.5,322.5 328.0,322.9 327.5,322.3 327.0,321.9 326.5,323.1 326.1,321.9 325.6,320.2 325.1,320.7 324.6,321.0 324.1,322.7 323.6,320.6 323.1,320.3 322.6,319.7 322.1,320.8 321.6,320.2 321.2,321.0 320.7,321.1 320.2,321.7 319.7,321.4 319.2,323.0 318.7,322.1 318.2,319.9 317.7,319.2 317.2,320.4 316.7,320.7 316.2,320.3 315.8,320.6 315.3,319.3 314.8,319.9 314.3,320.0 313.8,318.5" fill="#111111"/>
<polyline points="313.8,318.1 314.3,319.1 314.8,319.4 315.3,318.7 315.8,319.8 316.2,319.7 316.7,320.1 317.2,319.8 317.7,318.8 318.2,319.2 318.7,321.1 319.2,322.5 319.7,320.9 320.2,321.3 320.7,320.2 321.2,320.1 321.6,319.5 322.1,320.0 322.6,319.0 323.1,319.5 323.6,320.1 324.1,321.8 324.6,320.2 325.1,319.8 325.6,319.2 326.1,321.5 326.5,322.2 327.0,321.0 327.5,321.8 328.0,322.0 328.5,322.1 329.0,323.2 329.5,322.2 330.0,322.5 330.5,322.4 331.0,323.6 331.4,323.8 331.9,323.3 332.4,323.7 332.9,323.7 333.4,322.7 333.9,323.4 334.4,323.6 334.9,322.5 335.4,323.3 335.9,322.4 336.4,323.7 336.8,324.6 337.3,325.4 337.8,323.7 338.3,323.1 338.8,322.6 339.3,325.7 339.8,323.4 340.3,323.7 340.8,324.1 341.3,323.9 341.7,325.5 342.2,325.1 342.7,325.5 343.2,325.7 343.7,323.7 344.2,323.7 344.7,322.5 345.2,323.9 345.7,324.1 346.2,324.8 346.7,325.9 347.1,325.4 347.6,325.2 348.1,326.9 348.6,327.6 349.1,326.3 349.6,324.7 350.1,326.2 350.6,327.4 351.1,329.1 351.6,331.9 352.0,334.4 352.5,322.4 353.0,314.6 353.5,315.5 354.0,312.7 354.5,313.1 355.0,313.0 355.5,311.7 356.0,311.6 356.5,313.1 356.9,313.2 357.4,312.2 357.9,310.4 358.4,310.8 358.9,311.4 359.4,310.3 359.9,309.8 360.4,309.7 360.9,308.0 361.4,307.0 361.9,307.4 362.3,306.4 362.8,303.5 363.3,303.1 363.8,303.2 364.3,305.1 364.8,303.1 365.3,306.4 365.8,307.4 366.3,309.4 366.8,307.1 367.2,304.9 367.7,304.8 368.2,304.5 368.7,306.7 369.2,303.7 369.7,304.4 370.2,305.4 370.7,306.8 371.2,307.2 371.7,307.1 372.2,309.2 372.6,309.6 373.1,310.7 373.6,314.2 374.1,314.1 374.6,314.6 375.1,315.5 375.6,315.3 376.1,316.0 376.6,316.3 377.1,316.7 377.5,318.0 378.0,320.0 378.5,320.3 379.0,321.2 379.5,322.2 380.0,322.2 380.5,317.8 381.0,316.4 381.5,310.1 382.0,308.5 382.4,306.2 382.9,303.7 383.4,306.9" fill="none" stroke="#111111" stroke-width="1.65" stroke-linejoin="round" stroke-linecap="round"/>
<polygon points="284.4,293.2 284.9,298.3 285.4,296.9 285.8,299.1 286.3,298.6 286.8,300.1 287.3,301.6 287.8,300.9 288.3,303.6 288.8,302.7 289.3,305.3 289.8,305.5 290.3,306.8 290.7,306.8 291.2,306.4 291.7,306.2 292.2,306.9 292.7,306.2 293.2,307.0 293.7,308.0 294.2,308.4 294.7,308.0 295.2,307.2 295.7,308.2 296.1,308.3 296.6,309.9 297.1,307.7 297.6,310.5 298.1,310.1 298.6,314.1 299.1,312.1 299.6,311.4 300.1,311.5 300.6,311.6 301.0,314.1 301.5,313.5 302.0,313.3 302.5,310.4 303.0,312.8 303.5,309.6 304.0,310.5 304.5,312.9 305.0,309.4 305.5,313.0 305.9,313.9 306.4,312.5 306.9,313.1 307.4,313.8 307.9,312.7 308.4,311.2 308.9,314.2 309.4,313.1 309.9,313.9 310.4,312.7 310.9,312.7 311.3,313.8 311.8,314.2 312.3,316.3 312.8,310.8 313.3,313.7 313.8,312.2 314.3,311.6 314.8,313.0 315.3,312.4 315.8,313.9 316.2,313.5 316.7,314.0 317.2,313.8 317.7,309.5 318.2,312.4 318.7,313.8 319.2,314.0 319.7,313.5 320.2,312.7 320.7,314.0 321.2,314.3 321.6,311.1 322.1,311.6 322.6,314.3 323.1,312.6 323.6,311.9 324.1,316.3 324.6,315.8 325.1,313.8 325.6,314.2 326.1,314.8 326.5,313.1 327.0,314.5 327.5,312.8 328.0,312.6 328.5,311.5 329.0,310.6 329.5,313.0 330.0,313.6 330.5,313.3 331.0,312.8 331.4,314.4 331.9,313.6 332.4,314.0 332.9,313.7 333.4,312.9 333.9,315.3 334.4,312.2 334.9,312.6 335.4,313.1 335.9,315.9 336.4,315.1 336.8,315.5 337.3,312.4 337.8,312.8 338.3,312.6 338.8,312.8 339.3,311.9 339.8,313.0 340.3,312.6 340.8,313.1 341.3,314.8 341.7,313.5 342.2,315.5 342.7,314.3 343.2,312.7 343.7,312.1 344.2,311.1 344.7,310.2 345.2,313.4 345.7,310.6 346.2,312.2 346.7,315.7 347.1,315.0 347.6,314.3 348.1,315.8 348.6,314.4 349.1,315.2 349.6,311.8 350.1,314.7 350.6,315.4 351.1,313.9 351.6,317.1 352.0,316.8 352.5,307.6 353.0,301.8 353.5,300.5 354.0,299.9 354.5,300.5 355.0,299.9 355.5,299.4 356.0,298.4 356.5,299.3 356.9,300.8 357.4,300.3 357.9,297.2 358.4,298.8 358.9,295.5 359.4,295.2 359.9,294.7 360.4,293.2 360.9,292.0 361.4,288.4 361.9,291.4 362.3,292.0 362.8,291.0 363.3,289.8 363.8,288.3 364.3,292.3 364.8,291.7 365.3,291.3 365.8,291.8 366.3,291.7 366.8,292.2 367.2,288.8 367.7,291.2 368.2,292.2 368.7,292.9 369.2,291.9 369.7,293.1 370.2,295.6 370.7,295.5 371.2,296.0 371.7,293.8 372.2,294.2 372.6,296.9 373.1,300.7 373.6,299.6 374.1,302.6 374.6,302.0 375.1,300.0 375.6,304.3 376.1,301.8 376.6,302.9 377.1,301.4 377.5,302.5 378.0,304.7 378.5,303.0 379.0,305.9 379.5,304.8 380.0,301.5 380.5,297.6 381.0,294.1 381.5,288.6 382.0,286.1 382.4,290.5 382.9,294.9 383.4,303.9 383.4,307.6 382.9,299.3 382.4,294.7 382.0,289.2 381.5,292.2 381.0,296.9 380.5,301.6 380.0,303.8 379.5,308.6 379.0,308.4 378.5,306.4 378.0,307.8 377.5,305.8 377.1,305.4 376.6,307.7 376.1,306.4 375.6,306.6 375.1,303.4 374.6,305.6 374.1,306.2 373.6,303.9 373.1,303.9 372.6,299.6 372.2,298.1 371.7,298.0 371.2,299.6 370.7,299.6 370.2,298.7 369.7,296.5 369.2,295.3 368.7,296.2 368.2,295.4 367.7,293.2 367.2,293.7 366.8,295.0 366.3,294.2 365.8,295.6 365.3,295.3 364.8,295.3 364.3,296.9 363.8,291.8 363.3,294.4 362.8,293.9 362.3,295.4 361.9,295.1 361.4,292.5 360.9,294.1 360.4,296.4 359.9,298.5 359.4,299.6 358.9,299.4 358.4,301.6 357.9,300.0 357.4,303.2 356.9,304.3 356.5,302.1 356.0,301.1 355.5,302.9 355.0,304.2 354.5,304.9 354.0,304.2 353.5,305.1 353.0,305.3 352.5,311.6 352.0,320.4 351.6,320.1 351.1,317.5 350.6,318.6 350.1,318.5 349.6,316.1 349.1,317.7 348.6,317.8 348.1,319.3 347.6,317.1 347.1,318.1 346.7,317.6 346.2,316.2 345.7,313.8 345.2,316.5 344.7,314.3 344.2,314.8 343.7,315.3 343.2,316.1 342.7,318.5 342.2,320.5 341.7,317.4 341.3,318.4 340.8,316.0 340.3,316.8 339.8,317.5 339.3,316.0 338.8,315.1 338.3,317.3 337.8,316.7 337.3,315.2 336.8,319.3 336.4,317.8 335.9,319.6 335.4,316.1 334.9,316.1 334.4,315.6 333.9,318.3 333.4,317.1 332.9,318.1 332.4,316.4 331.9,318.4 331.4,318.4 331.0,316.6 330.5,316.8 330.0,318.0 329.5,316.9 329.0,314.1 328.5,314.8 328.0,315.9 327.5,316.0 327.0,318.4 326.5,316.6 326.1,316.7 325.6,316.8 325.1,317.1 324.6,318.5 324.1,319.7 323.6,314.4 323.1,315.4 322.6,316.2 322.1,314.7 321.6,314.7 321.2,318.1 320.7,316.6 320.2,316.2 319.7,316.3 319.2,317.7 318.7,316.7 318.2,315.9 317.7,313.7 317.2,315.8 316.7,318.2 316.2,316.0 315.8,317.2 315.3,316.2 314.8,315.8 314.3,315.4 313.8,316.6 313.3,316.5 312.8,314.7 312.3,319.8 311.8,317.8 311.3,317.3 310.9,315.3 310.4,316.2 309.9,317.1 309.4,316.3 308.9,317.4 308.4,315.7 307.9,317.1 307.4,317.6 306.9,318.0 306.4,316.5 305.9,316.0 305.5,315.8 305.0,313.8 304.5,316.2 304.0,314.6 303.5,313.3 303.0,315.3 302.5,314.3 302.0,316.2 301.5,316.6 301.0,318.3 300.6,314.9 300.1,314.7 299.6,314.9 299.1,316.3 298.6,317.6 298.1,313.6 297.6,314.4 297.1,312.0 296.6,314.2 296.1,310.8 295.7,311.5 295.2,311.7 294.7,310.9 294.2,312.4 293.7,311.8 293.2,309.1 292.7,308.8 292.2,309.6 291.7,308.9 291.2,309.1 290.7,309.8 290.3,310.1 289.8,309.5 289.3,308.7 288.8,306.2 288.3,306.7 287.8,305.0 287.3,305.8 286.8,303.2 286.3,301.7 285.8,302.3 285.4,300.5 284.9,301.1 284.4,296.5" fill="#ff0000"/>
<polyline points="284.4,295.2 284.9,300.1 285.4,298.0 285.8,300.4 286.3,299.6 286.8,302.0 287.3,303.9 287.8,303.0 288.3,304.8 288.8,304.7 289.3,307.6 289.8,307.4 290.3,309.2 290.7,308.0 291.2,307.8 291.7,307.6 292.2,307.9 292.7,307.3 293.2,308.0 293.7,310.2 294.2,310.6 294.7,309.8 295.2,309.2 295.7,309.8 296.1,309.4 296.6,311.8 297.1,309.8 297.6,312.9 298.1,311.9 298.6,315.0 299.1,314.0 299.6,313.1 300.1,312.6 300.6,312.9 301.0,316.0 301.5,314.8 302.0,314.6 302.5,312.2 303.0,313.8 303.5,311.7 304.0,312.3 304.5,314.5 305.0,311.4 305.5,314.1 305.9,314.9 306.4,314.5 306.9,315.5 307.4,315.7 307.9,314.9 308.4,313.5 308.9,315.4 309.4,314.9 309.9,315.8 310.4,314.1 310.9,314.2 311.3,314.8 311.8,315.8 312.3,317.3 312.8,313.3 313.3,314.9 313.8,314.6 314.3,313.7 314.8,314.8 315.3,313.8 315.8,316.0 316.2,314.5 316.7,316.4 317.2,314.8 317.7,311.8 318.2,313.8 318.7,314.7 319.2,316.0 319.7,315.0 320.2,315.0 320.7,315.5 321.2,315.7 321.6,312.4 322.1,313.6 322.6,315.2 323.1,313.9 323.6,313.0 324.1,317.7 324.6,316.8 325.1,314.8 325.6,315.2 326.1,315.8 326.5,315.4 327.0,316.2 327.5,314.7 328.0,314.9 328.5,313.8 329.0,312.6 329.5,315.0 330.0,315.8 330.5,314.8 331.0,315.2 331.4,316.8 331.9,316.0 332.4,314.9 332.9,315.7 333.4,315.2 333.9,316.4 334.4,313.4 334.9,314.0 335.4,314.2 335.9,317.4 336.4,316.1 336.8,317.1 337.3,313.6 337.8,314.2 338.3,315.1 338.8,313.9 339.3,314.2 339.8,315.2 340.3,314.9 340.8,314.5 341.3,316.4 341.7,315.7 342.2,318.0 342.7,316.1 343.2,315.0 343.7,314.0 344.2,312.6 344.7,312.5 345.2,314.7 345.7,312.5 346.2,314.6 346.7,316.7 347.1,316.2 347.6,315.4 348.1,317.5 348.6,316.4 349.1,316.6 349.6,314.3 350.1,316.5 350.6,316.5 351.1,315.8 351.6,318.2 352.0,318.6 352.5,309.6 353.0,304.1 353.5,302.8 354.0,302.1 354.5,302.5 355.0,302.3 355.5,300.4 356.0,300.2 356.5,301.1 356.9,301.9 357.4,301.2 357.9,298.3 358.4,300.0 358.9,297.6 359.4,297.0 359.9,296.2 360.4,295.2 360.9,293.2 361.4,290.6 361.9,292.6 362.3,293.2 362.8,292.7 363.3,292.0 363.8,290.7 364.3,294.5 364.8,293.0 365.3,293.4 365.8,293.4 366.3,292.9 366.8,293.9 367.2,291.3 367.7,292.2 368.2,293.9 368.7,294.4 369.2,293.8 369.7,294.4 370.2,296.7 370.7,297.9 371.2,297.1 371.7,296.0 372.2,295.8 372.6,298.6 373.1,302.6 373.6,301.8 374.1,303.8 374.6,303.4 375.1,302.4 375.6,305.2 376.1,304.1 376.6,305.3 377.1,303.6 377.5,304.8 378.0,306.5 378.5,305.4 379.0,307.1 379.5,306.4 380.0,302.7 380.5,299.1 381.0,295.8 381.5,289.9 382.0,287.8 382.4,292.6 382.9,297.3 383.4,305.7" fill="none" stroke="#ff0000" stroke-width="1.45" stroke-linejoin="round" stroke-linecap="round"/>
<polygon points="284.4,294.5 284.9,297.3 285.4,295.2 285.8,298.2 286.3,297.7 286.8,300.2 287.3,302.1 287.8,301.9 288.3,304.4 288.8,301.3 289.3,304.5 289.8,304.6 290.3,305.1 290.7,306.4 291.2,307.7 291.7,307.9 292.2,307.2 292.7,308.1 293.2,308.9 293.7,310.7 294.2,311.4 294.7,310.8 295.2,309.7 295.7,310.7 296.1,311.8 296.6,310.5 297.1,311.7 297.6,313.7 298.1,315.2 298.6,314.1 299.1,315.7 299.6,315.9 300.1,316.3 300.6,316.2 301.0,315.7 301.5,317.1 302.0,314.3 302.5,316.7 303.0,316.9 303.5,315.5 304.0,314.2 304.5,316.4 305.0,314.6 305.5,314.9 305.9,317.2 306.4,317.3 306.9,317.6 307.4,316.1 307.9,317.0 308.4,317.5 308.9,319.1 309.4,315.8 309.9,316.8 310.4,319.6 310.9,317.0 311.3,319.0 311.8,317.2 312.3,320.5 312.8,318.4 313.3,318.5 313.8,316.8 314.3,318.3 314.8,318.7 315.3,317.8 315.8,320.0 316.2,320.2 316.7,320.7 317.2,321.3 317.7,319.8 318.2,320.4 318.7,320.6 319.2,320.5 319.7,319.9 320.2,319.4 320.7,321.1 321.2,320.4 321.6,319.9 322.1,320.8 322.6,319.9 323.1,318.6 323.6,321.8 324.1,322.6 324.6,322.0 325.1,323.1 325.6,323.4 326.1,323.8 326.5,322.9 327.0,323.4 327.5,321.1 328.0,323.3 328.5,322.6 329.0,323.5 329.5,322.8 330.0,323.8 330.5,321.9 331.0,324.3 331.4,323.8 331.9,324.3 332.4,325.0 332.9,322.5 333.4,322.8 333.9,322.4 334.4,322.6 334.9,323.4 335.4,325.3 335.9,323.7 336.4,326.0 336.8,326.6 337.3,326.6 337.8,325.8 338.3,325.6 338.8,325.0 339.3,324.0 339.8,325.5 340.3,326.1 340.8,325.1 341.3,325.4 341.7,324.6 342.2,326.3 342.7,325.4 343.2,325.2 343.7,327.6 344.2,328.5 344.7,324.6 345.2,327.0 345.7,327.4 346.2,325.9 346.7,325.7 347.1,327.4 347.6,327.5 348.1,329.8 348.6,330.3 349.1,330.7 349.6,327.5 350.1,327.4 350.6,329.5 351.1,331.4 351.6,333.5 352.0,334.6 352.5,325.3 353.0,318.7 353.5,319.0 354.0,318.3 354.5,318.9 355.0,318.0 355.5,317.4 356.0,318.7 356.5,316.6 356.9,318.6 357.4,316.4 357.9,315.1 358.4,314.8 358.9,314.2 359.4,315.9 359.9,316.2 360.4,311.4 360.9,313.1 361.4,311.7 361.9,313.2 362.3,308.8 362.8,310.2 363.3,308.5 363.8,306.3 364.3,308.2 364.8,308.7 365.3,309.3 365.8,309.9 366.3,312.3 366.8,310.2 367.2,309.0 367.7,311.3 368.2,311.4 368.7,312.6 369.2,311.9 369.7,311.6 370.2,312.8 370.7,313.9 371.2,313.1 371.7,314.0 372.2,313.9 372.6,316.3 373.1,317.7 373.6,318.7 374.1,318.9 374.6,319.0 375.1,321.2 375.6,322.0 376.1,321.3 376.6,322.2 377.1,323.6 377.5,325.0 378.0,324.1 378.5,327.9 379.0,327.9 379.5,330.7 380.0,328.8 380.5,328.8 381.0,325.2 381.5,322.7 382.0,322.0 382.4,322.3 382.9,320.5 383.4,321.4 383.4,323.5 382.9,323.3 382.4,325.3 382.0,325.1 381.5,325.7 381.0,327.3 380.5,331.9 380.0,332.5 379.5,333.4 379.0,331.4 378.5,330.3 378.0,326.3 377.5,328.8 377.1,326.3 376.6,324.3 376.1,323.5 375.6,324.5 375.1,324.0 374.6,322.5 374.1,322.0 373.6,322.5 373.1,322.1 372.6,319.9 372.2,317.2 371.7,316.3 371.2,315.5 370.7,317.4 370.2,316.1 369.7,314.1 369.2,313.9 368.7,315.9 368.2,314.4 367.7,314.0 367.2,312.5 366.8,312.4 366.3,315.2 365.8,312.6 365.3,312.1 364.8,312.4 364.3,310.8 363.8,309.6 363.3,311.1 362.8,312.6 362.3,313.2 361.9,316.0 361.4,315.6 360.9,315.7 360.4,314.7 359.9,318.4 359.4,318.3 358.9,317.9 358.4,318.0 357.9,318.0 357.4,319.5 356.9,322.0 356.5,320.6 356.0,320.9 355.5,322.0 355.0,320.7 354.5,321.1 354.0,321.3 353.5,321.0 353.0,321.3 352.5,329.0 352.0,338.0 351.6,336.3 351.1,334.1 350.6,332.1 350.1,330.7 349.6,331.0 349.1,332.7 348.6,332.8 348.1,332.2 347.6,330.3 347.1,329.8 346.7,329.8 346.2,328.6 345.7,330.1 345.2,330.9 344.7,328.4 344.2,331.7 343.7,329.8 343.2,329.0 342.7,328.8 342.2,330.3 341.7,327.5 341.3,328.6 340.8,328.5 340.3,329.5 339.8,329.0 339.3,328.0 338.8,328.4 338.3,328.1 337.8,329.2 337.3,330.0 336.8,329.2 336.4,328.7 335.9,325.6 335.4,328.1 334.9,326.0 334.4,326.0 333.9,326.2 333.4,324.9 332.9,326.2 332.4,328.0 331.9,328.5 331.4,327.0 331.0,327.3 330.5,324.3 330.0,325.8 329.5,324.8 329.0,325.7 328.5,324.7 328.0,326.4 327.5,325.3 327.0,326.1 326.5,326.6 326.1,327.5 325.6,326.0 325.1,326.3 324.6,324.9 324.1,326.9 323.6,324.4 323.1,323.0 322.6,323.7 322.1,323.9 321.6,322.7 321.2,322.2 320.7,324.5 320.2,323.4 319.7,324.6 319.2,324.8 318.7,324.3 318.2,322.6 317.7,321.8 317.2,324.3 316.7,324.4 316.2,322.6 315.8,322.4 315.3,321.6 314.8,322.5 314.3,321.8 313.8,320.6 313.3,320.8 312.8,321.6 312.3,323.6 311.8,321.2 311.3,322.8 310.9,319.1 310.4,321.4 309.9,320.1 309.4,319.0 308.9,323.5 308.4,321.1 307.9,321.1 307.4,319.2 306.9,320.5 306.4,321.6 305.9,320.3 305.5,318.9 305.0,319.1 304.5,319.5 304.0,317.2 303.5,319.3 303.0,319.3 302.5,319.6 302.0,318.8 301.5,320.1 301.0,318.5 300.6,318.3 300.1,318.8 299.6,319.0 299.1,318.2 298.6,317.0 298.1,318.6 297.6,317.2 297.1,314.7 296.6,313.8 296.1,315.1 295.7,314.1 295.2,312.2 294.7,312.7 294.2,314.0 293.7,313.1 293.2,312.8 292.7,312.0 292.2,310.5 291.7,310.6 291.2,310.8 290.7,309.9 290.3,307.9 289.8,306.7 289.3,307.6 288.8,304.7 288.3,308.3 287.8,304.3 287.3,304.7 286.8,303.5 286.3,301.8 285.8,300.6 285.4,298.3 284.9,300.4 284.4,298.1" fill="#c9c9c9"/>
<polyline points="284.4,296.8 284.9,298.8 285.4,296.8 285.8,299.5 286.3,299.8 286.8,301.7 287.3,303.0 287.8,303.0 288.3,306.3 288.8,302.8 289.3,306.5 289.8,305.9 290.3,306.8 290.7,308.2 291.2,309.5 291.7,309.5 292.2,308.5 292.7,309.8 293.2,311.2 293.7,312.1 294.2,312.8 294.7,311.9 295.2,311.1 295.7,312.6 296.1,313.8 296.6,312.8 297.1,313.7 297.6,315.6 298.1,316.9 298.6,315.4 299.1,316.8 299.6,317.1 300.1,317.2 300.6,317.3 301.0,317.6 301.5,318.1 302.0,316.6 302.5,318.2 303.0,318.1 303.5,317.3 304.0,316.4 304.5,317.3 305.0,316.9 305.5,317.2 305.9,318.2 306.4,319.3 306.9,318.8 307.4,318.1 307.9,318.8 308.4,318.8 308.9,321.2 309.4,318.0 309.9,318.8 310.4,320.4 310.9,318.1 311.3,320.8 311.8,319.0 312.3,322.5 312.8,320.0 313.3,319.4 313.8,318.9 314.3,319.8 314.8,320.2 315.3,319.5 315.8,321.2 316.2,321.1 316.7,322.3 317.2,322.3 317.7,320.9 318.2,321.6 318.7,322.5 319.2,322.5 319.7,322.2 320.2,321.6 320.7,323.3 321.2,321.3 321.6,321.5 322.1,322.7 322.6,321.5 323.1,321.0 323.6,323.1 324.1,324.6 324.6,323.8 325.1,324.6 325.6,325.2 326.1,326.0 326.5,324.4 327.0,324.2 327.5,323.2 328.0,324.9 328.5,323.7 329.0,324.8 329.5,324.0 330.0,324.8 330.5,322.7 331.0,325.3 331.4,325.9 331.9,326.4 332.4,325.9 332.9,323.9 333.4,323.9 333.9,323.9 334.4,324.0 334.9,324.9 335.4,326.3 335.9,324.6 336.4,327.8 336.8,327.6 337.3,328.5 337.8,328.0 338.3,326.7 338.8,326.1 339.3,325.8 339.8,327.0 340.3,328.1 340.8,327.0 341.3,326.5 341.7,326.6 342.2,328.3 342.7,327.7 343.2,327.1 343.7,328.5 344.2,330.0 344.7,326.6 345.2,328.7 345.7,328.9 346.2,327.3 346.7,327.8 347.1,329.0 347.6,329.0 348.1,330.7 348.6,331.4 349.1,331.8 349.6,329.2 350.1,328.8 350.6,331.3 351.1,333.0 351.6,335.2 352.0,336.9 352.5,327.1 353.0,320.2 353.5,320.1 354.0,319.2 354.5,320.2 355.0,319.7 355.5,319.7 356.0,320.0 356.5,318.7 356.9,320.6 357.4,317.9 357.9,316.6 358.4,316.1 358.9,315.7 359.4,317.2 359.9,317.5 360.4,312.9 360.9,314.4 361.4,314.0 361.9,314.2 362.3,310.9 362.8,311.1 363.3,309.8 363.8,307.6 364.3,309.7 364.8,310.9 365.3,310.3 365.8,311.6 366.3,313.4 366.8,311.2 367.2,311.1 367.7,312.9 368.2,312.3 368.7,314.1 369.2,312.8 369.7,312.7 370.2,314.1 370.7,315.2 371.2,314.5 371.7,315.4 372.2,315.9 372.6,318.1 373.1,319.8 373.6,321.0 374.1,321.1 374.6,321.4 375.1,322.8 375.6,323.5 376.1,322.4 376.6,323.5 377.1,325.4 377.5,327.1 378.0,325.3 378.5,329.2 379.0,329.9 379.5,332.3 380.0,330.5 380.5,329.9 381.0,326.5 381.5,324.0 382.0,322.9 382.4,323.6 382.9,321.9 383.4,322.4" fill="none" stroke="#c9c9c9" stroke-width="1.55" stroke-linejoin="round" stroke-linecap="round"/>
<path d="M284.40,274.10V340.40H383.70" fill="none" stroke="#9c9c9c" stroke-width="1.25"/>
<path d="M284.40,340.40h1.2M284.40,318.47h1.2M284.40,296.53h1.2M284.40,274.60h1.2M284.40,340.40v-1.2M308.88,340.40v-1.2M333.64,340.40v-1.2M358.67,340.40v-1.2M383.70,340.40v-1.2" stroke="#9c9c9c" stroke-width="0.9" fill="none"/>
<polyline points="416.7,306.2 417.2,305.5 417.7,305.9 418.1,305.0 418.6,306.1 419.1,306.6 419.6,306.9 420.1,306.5 420.6,306.7 421.1,307.2 421.6,307.4 422.1,308.3 422.6,307.9 423.0,307.9 423.5,308.0 424.0,309.0 424.5,307.7 425.0,307.5 425.5,307.1 426.0,307.5 426.5,305.9 427.0,307.5 427.5,307.0 428.0,306.5 428.4,307.2 428.9,307.3 429.4,306.3 429.9,307.1 430.4,307.3 430.9,307.9 431.4,306.7 431.9,306.9 432.4,305.8 432.9,304.9 433.3,304.5 433.8,305.8 434.3,306.1 434.8,307.5 435.3,306.8 435.8,306.4 436.3,304.9 436.8,305.3 437.3,304.8 437.8,303.6 438.2,302.9 438.7,302.3 439.2,303.2 439.7,302.6 440.2,302.4 440.7,301.7 441.2,302.1 441.7,301.8 442.2,302.8 442.7,304.2 443.2,304.5 443.6,304.3 444.1,304.4 444.6,302.8 445.1,304.1 445.6,303.3 446.1,301.8 446.6,301.9 447.1,300.9 447.6,301.2 448.1,301.7 448.5,302.3 449.0,302.5 449.5,302.8 450.0,302.4 450.5,304.3 451.0,304.8 451.5,306.1 452.0,305.1 452.5,304.5 453.0,304.6 453.5,303.9 453.9,303.1 454.4,303.0 454.9,304.6 455.4,304.7 455.9,305.6 456.4,306.4 456.9,307.9 457.4,307.9 457.9,308.4 458.4,308.4 458.8,309.9 459.3,310.4 459.8,308.7 460.3,307.5 460.8,305.8 461.3,305.2 461.8,306.0 462.3,306.2 462.8,307.0 463.3,308.4 463.8,308.7 464.2,308.2 464.7,307.1 465.2,305.1 465.7,304.3 466.2,304.0 466.7,303.3 467.2,303.0 467.7,302.3 468.2,303.1 468.7,303.3 469.1,302.7 469.6,302.7 470.1,303.6 470.6,304.3 471.1,304.6 471.6,306.3 472.1,307.4 472.6,308.7 473.1,309.6 473.6,310.3 474.0,311.3 474.5,312.1 475.0,311.6 475.5,310.3 476.0,308.6 476.5,306.8 477.0,306.2 477.5,306.3 478.0,306.3 478.5,305.5 479.0,305.0 479.4,305.6 479.9,306.4 480.4,306.0 480.9,305.8 481.4,305.7 481.9,305.6 482.4,307.2 482.9,308.0 483.4,308.3 483.9,309.7 484.3,308.8 484.8,309.5 485.3,308.3 485.8,308.3 486.3,307.7 486.8,306.2 487.3,306.1 487.8,305.5 488.3,306.4 488.8,306.4 489.2,306.2 489.7,306.4 490.2,306.6 490.7,306.8 491.2,306.8 491.7,307.0 492.2,307.0 492.7,306.6 493.2,306.1 493.7,306.8 494.2,307.1 494.6,307.3 495.1,307.3 495.6,306.3 496.1,305.7 496.6,305.9 497.1,306.1 497.6,305.0 498.1,304.6 498.6,304.1 499.1,303.6 499.5,304.5 500.0,304.8 500.5,304.8 501.0,303.7" fill="none" stroke="#111111" stroke-width="1.65" stroke-linejoin="round" stroke-linecap="round"/>
<polyline points="402.0,297.0 402.5,297.4 402.9,297.9 403.4,297.5 403.9,296.7 404.4,296.7 404.9,296.5 405.4,297.7 405.9,298.0 406.4,299.9 406.9,300.6 407.4,300.4 407.8,300.6 408.3,300.6 408.8,302.7 409.3,302.4 409.8,303.8 410.3,304.5 410.8,305.1 411.3,305.2 411.8,304.8 412.3,305.8 412.8,304.9 413.2,305.1 413.7,303.9 414.2,303.7 414.7,303.3 415.2,303.1 415.7,303.4 416.2,303.6 416.7,303.8 417.2,304.1 417.7,304.5 418.1,303.9 418.6,303.7 419.1,304.8 419.6,304.5 420.1,304.7 420.6,304.5 421.1,303.8 421.6,303.8 422.1,304.5 422.6,303.6 423.0,303.9 423.5,304.0 424.0,304.2 424.5,303.8 425.0,304.2 425.5,304.3 426.0,303.2 426.5,302.3 427.0,300.6 427.5,301.2 428.0,300.1 428.4,301.5 428.9,301.4 429.4,301.6 429.9,301.7 430.4,301.2 430.9,301.1 431.4,301.5 431.9,300.7 432.4,301.0 432.9,300.1 433.3,299.5 433.8,299.9 434.3,301.3 434.8,302.5 435.3,301.8 435.8,299.6 436.3,298.7 436.8,297.7 437.3,298.0 437.8,298.9 438.2,300.7 438.7,299.9 439.2,299.0 439.7,296.1 440.2,295.6 440.7,293.7 441.2,294.4 441.7,294.6 442.2,295.2 442.7,295.3 443.2,297.9 443.6,297.5 444.1,297.9 444.6,296.6 445.1,297.5 445.6,295.7 446.1,294.5 446.6,293.3 447.1,292.5 447.6,293.0 448.1,292.4 448.5,294.4 449.0,294.6 449.5,295.5 450.0,295.3 450.5,297.2 451.0,297.3 451.5,297.3 452.0,295.9 452.5,295.0 453.0,295.0 453.5,294.5 453.9,293.5 454.4,292.9 454.9,295.3 455.4,296.0 455.9,297.2 456.4,297.8 456.9,299.1 457.4,299.5 457.9,299.1 458.4,299.5 458.8,299.9 459.3,298.5 459.8,297.4 460.3,295.7 460.8,293.1 461.3,292.9 461.8,293.0 462.3,292.9 462.8,292.7 463.3,294.1 463.8,295.8 464.2,295.5 464.7,294.9 465.2,293.9 465.7,292.9 466.2,291.9 466.7,290.4 467.2,290.8 467.7,290.3 468.2,290.8 468.7,290.0 469.1,291.3 469.6,291.3 470.1,291.2 470.6,291.3 471.1,292.3 471.6,292.7 472.1,295.0 472.6,296.4 473.1,297.5 473.6,299.2 474.0,299.1 474.5,297.3 475.0,296.3 475.5,294.9 476.0,292.1 476.5,292.1 477.0,292.9 477.5,292.5 478.0,292.1 478.5,290.7 479.0,291.1 479.4,290.9 479.9,290.3 480.4,290.4 480.9,288.9 481.4,289.2 481.9,288.7 482.4,289.8 482.9,289.6 483.4,290.6 483.9,291.7 484.3,292.3 484.8,293.1 485.3,293.8 485.8,294.8 486.3,293.0 486.8,292.0 487.3,292.2 487.8,291.3 488.3,291.1 488.8,288.8 489.2,288.6 489.7,288.4 490.2,287.7 490.7,289.1 491.2,288.8 491.7,288.4 492.2,288.9 492.7,288.3 493.2,288.7 493.7,287.8 494.2,287.8 494.6,287.6 495.1,288.8 495.6,288.3 496.1,286.8 496.6,286.4 497.1,284.5 497.6,285.1 498.1,284.1 498.6,285.1 499.1,284.3 499.5,285.5 500.0,285.7 500.5,286.6 501.0,285.6" fill="none" stroke="#ff0000" stroke-width="1.45" stroke-linejoin="round" stroke-linecap="round"/>
<polyline points="402.0,296.8 402.5,297.6 402.9,298.0 403.4,297.4 403.9,298.5 404.4,299.3 404.9,299.8 405.4,300.4 405.9,300.7 406.4,300.9 406.9,302.0 407.4,303.1 407.8,302.9 408.3,303.1 408.8,304.0 409.3,304.3 409.8,305.0 410.3,304.8 410.8,306.1 411.3,306.4 411.8,307.1 412.3,306.7 412.8,306.8 413.2,306.8 413.7,306.8 414.2,306.8 414.7,306.9 415.2,305.8 415.7,306.4 416.2,306.5 416.7,306.8 417.2,306.1 417.7,306.5 418.1,305.5 418.6,306.9 419.1,307.5 419.6,307.6 420.1,307.7 420.6,308.1 421.1,308.1 421.6,308.5 422.1,309.9 422.6,309.3 423.0,308.6 423.5,308.8 424.0,308.7 424.5,308.8 425.0,309.9 425.5,310.2 426.0,310.3 426.5,309.1 427.0,308.2 427.5,308.6 428.0,308.3 428.4,309.4 428.9,309.4 429.4,309.2 429.9,308.6 430.4,309.1 430.9,309.1 431.4,310.0 431.9,309.4 432.4,309.4 432.9,308.1 433.3,308.8 433.8,309.6 434.3,310.1 434.8,311.0 435.3,309.8 435.8,310.3 436.3,309.5 436.8,309.5 437.3,309.1 437.8,308.6 438.2,308.0 438.7,307.2 439.2,307.4 439.7,307.0 440.2,306.7 440.7,306.0 441.2,306.1 441.7,306.1 442.2,306.8 442.7,307.3 443.2,307.1 443.6,307.8 444.1,307.9 444.6,307.7 445.1,308.6 445.6,308.6 446.1,307.7 446.6,307.2 447.1,307.5 447.6,306.6 448.1,307.8 448.5,308.4 449.0,308.6 449.5,308.8 450.0,307.4 450.5,309.1 451.0,309.3 451.5,309.8 452.0,309.9 452.5,309.8 453.0,309.9 453.5,310.4 453.9,310.4 454.4,310.4 454.9,311.4 455.4,312.7 455.9,314.2 456.4,314.6 456.9,315.4 457.4,315.8 457.9,315.4 458.4,315.4 458.8,315.5 459.3,316.1 459.8,316.2 460.3,316.2 460.8,315.3 461.3,315.1 461.8,314.2 462.3,315.0 462.8,313.7 463.3,315.2 463.8,314.8 464.2,315.1 464.7,313.1 465.2,312.5 465.7,311.6 466.2,312.1 466.7,310.8 467.2,310.8 467.7,311.0 468.2,311.7 468.7,312.0 469.1,312.1 469.6,312.5 470.1,312.7 470.6,312.4 471.1,314.0 471.6,314.8 472.1,316.8 472.6,317.4 473.1,319.1 473.6,318.7 474.0,320.7 474.5,319.7 475.0,318.9 475.5,317.7 476.0,316.5 476.5,317.1 477.0,316.2 477.5,316.2 478.0,315.0 478.5,314.2 479.0,314.4 479.4,314.8 479.9,315.2 480.4,315.3 480.9,314.6 481.4,314.6 481.9,315.2 482.4,314.8 482.9,315.6 483.4,316.2 483.9,316.7 484.3,315.3 484.8,315.9 485.3,316.4 485.8,316.5 486.3,316.5 486.8,315.3 487.3,315.8 487.8,316.1 488.3,317.1 488.8,316.0 489.2,316.0 489.7,315.3 490.2,315.4 490.7,315.2 491.2,315.7 491.7,315.4 492.2,315.4 492.7,314.9 493.2,316.2 493.7,315.4 494.2,316.0 494.6,314.9 495.1,315.8 495.6,314.8 496.1,314.7 496.6,313.7 497.1,314.8 497.6,314.2 498.1,313.6 498.6,312.9 499.1,313.1 499.5,314.1 500.0,313.9 500.5,313.8 501.0,313.0" fill="none" stroke="#c9c9c9" stroke-width="1.55" stroke-linejoin="round" stroke-linecap="round"/>
<path d="M402.00,274.10V340.40H501.30" fill="none" stroke="#9c9c9c" stroke-width="1.25"/>
<path d="M402.00,340.40h1.2M402.00,318.47h1.2M402.00,296.53h1.2M402.00,274.60h1.2M402.00,340.40v-1.2M426.48,340.40v-1.2M451.24,340.40v-1.2M476.27,340.40v-1.2M501.30,340.40v-1.2" stroke="#9c9c9c" stroke-width="0.9" fill="none"/>
<polyline points="79.5,398.3 80.0,398.2 80.5,397.5 81.0,398.4 81.4,398.0 81.9,397.8 82.4,396.6 82.9,394.5 83.4,393.6 83.9,393.1 84.4,394.2 84.9,394.9 85.4,396.0 85.9,395.3 86.3,393.9 86.8,393.1 87.3,392.7 87.8,391.4 88.3,392.5 88.8,393.0 89.3,394.0 89.8,393.6 90.3,392.9 90.8,393.6 91.3,393.6 91.7,395.9 92.2,394.7 92.7,393.6 93.2,391.0 93.7,393.8 94.2,394.2 94.7,395.6 95.2,392.6 95.7,391.9 96.2,392.3 96.6,392.8 97.1,392.1 97.6,391.6 98.1,390.9 98.6,391.3 99.1,393.1 99.6,393.2 100.1,393.4 100.6,393.5 101.1,393.9 101.6,392.6 102.0,393.3 102.5,392.8 103.0,393.4 103.5,393.0 104.0,394.2 104.5,393.3 105.0,393.3 105.5,392.3 106.0,393.9 106.5,394.3 106.9,392.2 107.4,391.9 107.9,391.7 108.4,391.6 108.9,390.3 109.4,390.2 109.9,390.5 110.4,390.7 110.9,390.9 111.4,391.5 111.8,391.5 112.3,391.5 112.8,391.0 113.3,391.2 113.8,390.0 114.3,390.2 114.8,389.6 115.3,390.4 115.8,391.7 116.3,392.8 116.8,391.7 117.2,390.2 117.7,391.2 118.2,390.5 118.7,390.2 119.2,388.1 119.7,385.9 120.2,387.4 120.7,390.1 121.2,391.4 121.7,391.8 122.1,390.4 122.6,391.2 123.1,390.9 123.6,391.1 124.1,391.8 124.6,393.6 125.1,393.4 125.6,393.0 126.1,393.5 126.6,393.4 127.1,392.7 127.5,393.1 128.0,393.2 128.5,394.5 129.0,393.4 129.5,394.3 130.0,393.4 130.5,394.2 131.0,394.5 131.5,394.1 132.0,394.4 132.4,394.9 132.9,395.0 133.4,394.7 133.9,395.4 134.4,396.0 134.9,397.0 135.4,395.7 135.9,397.1 136.4,395.3 136.9,397.1 137.3,396.4 137.8,397.7 138.3,395.8 138.8,396.1 139.3,396.8 139.8,398.7 140.3,400.0 140.8,399.9 141.3,400.4 141.8,399.1 142.3,400.0 142.7,398.7 143.2,398.1 143.7,398.8 144.2,400.1 144.7,401.1 145.2,400.3 145.7,398.6 146.2,397.8 146.7,397.2 147.2,398.4 147.6,399.8 148.1,399.2 148.6,399.7" fill="none" stroke="#111111" stroke-width="1.65" stroke-linejoin="round" stroke-linecap="round"/>
<polyline points="49.6,386.0 50.1,387.6 50.5,387.7 51.0,388.1 51.5,388.1 52.0,388.2 52.5,388.8 53.0,388.6 53.5,388.8 54.0,390.0 54.5,391.3 55.0,392.0 55.5,390.8 55.9,391.8 56.4,393.3 56.9,393.0 57.4,392.9 57.9,392.1 58.4,391.6 58.9,393.4 59.4,393.1 59.9,393.5 60.4,392.6 60.8,393.5 61.3,392.9 61.8,392.6 62.3,393.7 62.8,394.3 63.3,393.4 63.8,392.6 64.3,391.2 64.8,392.2 65.3,393.0 65.8,394.4 66.2,394.3 66.7,393.7 67.2,392.1 67.7,391.4 68.2,391.5 68.7,393.1 69.2,394.6 69.7,396.2 70.2,394.2 70.7,393.2 71.1,392.4 71.6,393.3 72.1,394.2 72.6,394.4 73.1,393.1 73.6,391.5 74.1,391.9 74.6,392.3 75.1,391.1 75.6,389.6 76.0,389.0 76.5,390.9 77.0,391.8 77.5,392.2 78.0,391.5 78.5,390.9 79.0,390.4 79.5,390.1 80.0,390.5 80.5,390.1 81.0,390.3 81.4,389.3 81.9,389.5 82.4,387.4 82.9,387.0 83.4,385.2 83.9,385.1 84.4,384.1 84.9,384.8 85.4,384.8 85.9,383.9 86.3,382.3 86.8,380.2 87.3,379.1 87.8,377.9 88.3,377.8 88.8,377.3 89.3,377.0 89.8,377.0 90.3,374.8 90.8,375.4 91.3,376.0 91.7,378.3 92.2,377.2 92.7,378.3 93.2,376.0 93.7,376.7 94.2,375.1 94.7,376.5 95.2,374.5 95.7,374.2 96.2,372.8 96.6,373.2 97.1,372.3 97.6,372.5 98.1,371.9 98.6,371.7 99.1,373.3 99.6,373.3 100.1,372.8 100.6,371.9 101.1,370.6 101.6,371.3 102.0,371.0 102.5,372.0 103.0,372.4 103.5,371.0 104.0,372.2 104.5,370.7 105.0,370.9 105.5,369.3 106.0,370.3 106.5,370.8 106.9,370.8 107.4,369.5 107.9,369.5 108.4,369.2 108.9,368.2 109.4,367.8 109.9,367.9 110.4,369.6 110.9,368.1 111.4,368.5 111.8,368.9 112.3,368.3 112.8,366.0 113.3,367.1 113.8,366.4 114.3,366.9 114.8,366.5 115.3,367.4 115.8,367.9 116.3,367.4 116.8,367.5 117.2,368.7 117.7,369.8 118.2,366.3 118.7,362.8 119.2,360.5 119.7,359.4 120.2,359.1 120.7,361.5 121.2,362.8 121.7,362.8 122.1,362.5 122.6,364.0 123.1,364.8 123.6,365.7 124.1,366.7 124.6,366.5 125.1,366.1 125.6,366.5 126.1,369.2 126.6,369.9 127.1,368.9 127.5,369.0 128.0,370.0 128.5,370.5 129.0,369.6 129.5,368.9 130.0,370.3 130.5,369.9 131.0,370.3 131.5,369.7 132.0,370.9 132.4,370.0 132.9,371.0 133.4,371.3 133.9,371.9 134.4,371.5 134.9,370.1 135.4,369.9 135.9,370.4 136.4,370.2 136.9,370.8 137.3,369.7 137.8,370.6 138.3,369.5 138.8,369.5 139.3,369.7 139.8,371.4 140.3,371.0 140.8,369.9 141.3,370.5 141.8,370.2 142.3,370.8 142.7,371.0 143.2,369.3 143.7,369.6 144.2,371.6 144.7,372.4 145.2,371.8 145.7,369.5 146.2,369.0 146.7,368.8 147.2,369.8 147.6,370.9 148.1,371.8 148.6,371.9" fill="none" stroke="#ff0000" stroke-width="1.45" stroke-linejoin="round" stroke-linecap="round"/>
<polyline points="49.6,388.2 50.1,388.8 50.5,388.6 51.0,390.3 51.5,390.1 52.0,391.5 52.5,391.6 53.0,391.9 53.5,393.5 54.0,395.0 54.5,396.2 55.0,397.0 55.5,396.0 55.9,396.7 56.4,397.4 56.9,396.6 57.4,395.1 57.9,395.4 58.4,395.9 58.9,396.9 59.4,396.6 59.9,397.9 60.4,397.3 60.8,398.5 61.3,397.3 61.8,397.0 62.3,398.6 62.8,398.1 63.3,398.3 63.8,398.4 64.3,397.4 64.8,397.0 65.3,398.1 65.8,400.2 66.2,399.1 66.7,399.3 67.2,397.6 67.7,398.0 68.2,398.0 68.7,399.1 69.2,399.9 69.7,400.9 70.2,398.9 70.7,399.2 71.1,398.7 71.6,399.1 72.1,400.6 72.6,400.8 73.1,400.9 73.6,399.6 74.1,398.6 74.6,397.7 75.1,398.0 75.6,398.3 76.0,398.1 76.5,398.0 77.0,397.5 77.5,397.8 78.0,397.8 78.5,399.0 79.0,399.2 79.5,398.7 80.0,398.6 80.5,397.9 81.0,398.8 81.4,398.2 81.9,398.6 82.4,397.7 82.9,395.7 83.4,394.4 83.9,394.3 84.4,396.4 84.9,395.8 85.4,397.2 85.9,396.8 86.3,396.6 86.8,395.4 87.3,395.2 87.8,394.2 88.3,393.7 88.8,394.1 89.3,395.0 89.8,395.4 90.3,394.8 90.8,394.9 91.3,394.8 91.7,396.5 92.2,397.1 92.7,396.5 93.2,394.7 93.7,395.4 94.2,395.0 94.7,396.5 95.2,395.9 95.7,396.0 96.2,395.6 96.6,396.2 97.1,396.0 97.6,396.5 98.1,397.3 98.6,397.4 99.1,397.8 99.6,397.4 100.1,398.1 100.6,396.8 101.1,396.7 101.6,396.3 102.0,396.8 102.5,397.8 103.0,399.0 103.5,399.2 104.0,398.1 104.5,397.8 105.0,398.4 105.5,398.2 106.0,399.1 106.5,399.0 106.9,398.9 107.4,398.8 107.9,399.2 108.4,399.4 108.9,399.3 109.4,399.1 109.9,399.7 110.4,399.1 110.9,398.2 111.4,398.1 111.8,398.1 112.3,398.4 112.8,397.7 113.3,399.0 113.8,397.7 114.3,397.9 114.8,397.1 115.3,399.0 115.8,399.0 116.3,400.1 116.8,399.4 117.2,399.6 117.7,399.9 118.2,399.6 118.7,398.9 119.2,398.1 119.7,397.1 120.2,396.8 120.7,397.9 121.2,397.4 121.7,398.9 122.1,398.8 122.6,399.9 123.1,399.6 123.6,399.8 124.1,399.8 124.6,400.4 125.1,400.0 125.6,400.5 126.1,401.3 126.6,402.0 127.1,399.9 127.5,401.1 128.0,401.9 128.5,401.9 129.0,401.2 129.5,401.8 130.0,402.2 130.5,401.1 131.0,401.5 131.5,401.2 132.0,400.4 132.4,400.4 132.9,401.1 133.4,402.1 133.9,402.0 134.4,401.6 134.9,402.0 135.4,402.3 135.9,401.4 136.4,401.3 136.9,402.8 137.3,403.4 137.8,403.7 138.3,403.9 138.8,403.9 139.3,405.4 139.8,406.0 140.3,405.2 140.8,404.2 141.3,403.9 141.8,405.3 142.3,405.5 142.7,405.9 143.2,403.6 143.7,403.0 144.2,405.3 144.7,406.6 145.2,406.3 145.7,405.4 146.2,404.2 146.7,404.4 147.2,403.4 147.6,404.0 148.1,403.3 148.6,404.9" fill="none" stroke="#c9c9c9" stroke-width="1.55" stroke-linejoin="round" stroke-linecap="round"/>
<path d="M49.50,359.00V425.30H148.80" fill="none" stroke="#9c9c9c" stroke-width="1.25"/>
<path d="M49.50,425.30h1.2M49.50,408.85h1.2M49.50,392.40h1.2M49.50,375.95h1.2M49.50,359.50h1.2M49.50,425.30v-1.2M73.98,425.30v-1.2M98.74,425.30v-1.2M123.77,425.30v-1.2M148.80,425.30v-1.2" stroke="#9c9c9c" stroke-width="0.9" fill="none"/>
<polyline points="185.6,400.3 186.1,400.4 186.6,400.5 187.1,400.2 187.6,400.4 188.0,400.7 188.5,400.9 189.0,400.7 189.5,400.5 190.0,400.4 190.5,400.4 191.0,399.8 191.5,399.9 192.0,399.6 192.5,399.2 193.0,398.7 193.4,398.5 193.9,398.7 194.4,398.8 194.9,398.8 195.4,397.8 195.9,398.3 196.4,397.6 196.9,397.1 197.4,397.2 197.9,396.7 198.3,395.9 198.8,395.3 199.3,394.8 199.8,394.5 200.3,394.4 200.8,392.7 201.3,391.8 201.8,392.0 202.3,391.2 202.8,391.5 203.2,391.0 203.7,391.0 204.2,391.2 204.7,391.6 205.2,392.0 205.7,391.5 206.2,390.3 206.7,390.0 207.2,389.3 207.7,388.5 208.2,388.6 208.6,389.9 209.1,390.7 209.6,391.6 210.1,391.5 210.6,392.3 211.1,392.7 211.6,391.5 212.1,390.4 212.6,388.8 213.1,387.1 213.5,386.1 214.0,386.4 214.5,387.1 215.0,388.6 215.5,388.0 216.0,388.0 216.5,388.9 217.0,388.2 217.5,388.7 218.0,387.8 218.5,387.4 218.9,387.4 219.4,386.4 219.9,386.6 220.4,386.1 220.9,387.3 221.4,387.2 221.9,387.0 222.4,387.2 222.9,389.0 223.4,387.9 223.8,388.9 224.3,387.8 224.8,388.1 225.3,386.8 225.8,386.1 226.3,386.4 226.8,385.2 227.3,385.0 227.8,386.0 228.3,386.7 228.8,386.3 229.2,386.5 229.7,386.8 230.2,387.6 230.7,387.5 231.2,388.7 231.7,388.3 232.2,387.7 232.7,387.1 233.2,386.7 233.7,386.6 234.1,387.1 234.6,386.6 235.1,385.6 235.6,385.2 236.1,385.5 236.6,386.0 237.1,387.3 237.6,387.5 238.1,388.5 238.6,387.5 239.0,387.3 239.5,386.8 240.0,385.9 240.5,385.0 241.0,384.9 241.5,385.2 242.0,386.1 242.5,386.1 243.0,386.3 243.5,386.9 244.0,386.9 244.4,386.6 244.9,387.0 245.4,388.8 245.9,388.9 246.4,388.8 246.9,389.0 247.4,389.9 247.9,389.9 248.4,390.6 248.9,390.2 249.3,391.0 249.8,391.6 250.3,391.1 250.8,390.9 251.3,390.0 251.8,391.1 252.3,393.0 252.8,393.7 253.3,394.5 253.8,395.0 254.2,394.2 254.7,394.8 255.2,395.5 255.7,396.5 256.2,396.0 256.7,396.9 257.2,397.0 257.7,395.7 258.2,395.4 258.7,396.1 259.2,395.9 259.6,395.7 260.1,394.6 260.6,394.0 261.1,394.8 261.6,394.3 262.1,394.9 262.6,394.2 263.1,394.4 263.6,394.4 264.1,394.5 264.5,394.3 265.0,393.6 265.5,394.2" fill="none" stroke="#111111" stroke-width="1.65" stroke-linejoin="round" stroke-linecap="round"/>
<polyline points="167.0,389.4 167.5,390.6 167.9,390.4 168.4,389.5 168.9,388.7 169.4,388.2 169.9,388.6 170.4,389.6 170.9,389.5 171.4,390.1 171.9,390.7 172.4,391.8 172.8,392.4 173.3,392.4 173.8,393.1 174.3,392.0 174.8,393.8 175.3,394.1 175.8,393.9 176.3,394.7 176.8,395.4 177.3,394.5 177.8,394.1 178.2,394.0 178.7,394.3 179.2,393.4 179.7,394.2 180.2,393.8 180.7,395.0 181.2,394.6 181.7,394.9 182.2,394.9 182.7,396.1 183.1,395.8 183.6,395.8 184.1,396.1 184.6,395.5 185.1,395.3 185.6,396.6 186.1,396.4 186.6,396.4 187.1,395.5 187.6,395.5 188.0,395.3 188.5,394.7 189.0,395.3 189.5,394.9 190.0,394.5 190.5,394.5 191.0,394.3 191.5,393.4 192.0,393.8 192.5,392.7 193.0,392.8 193.4,392.3 193.9,392.7 194.4,392.6 194.9,392.0 195.4,391.5 195.9,391.2 196.4,390.2 196.9,389.7 197.4,389.9 197.9,389.4 198.3,389.1 198.8,388.0 199.3,387.3 199.8,386.4 200.3,384.9 200.8,383.7 201.3,383.0 201.8,383.0 202.3,382.7 202.8,381.5 203.2,380.6 203.7,381.7 204.2,382.4 204.7,382.8 205.2,383.3 205.7,382.6 206.2,381.6 206.7,380.3 207.2,378.5 207.7,377.2 208.2,377.7 208.6,377.8 209.1,378.8 209.6,379.8 210.1,380.6 210.6,381.6 211.1,380.9 211.6,380.2 212.1,378.1 212.6,376.4 213.1,375.1 213.5,373.8 214.0,374.0 214.5,374.1 215.0,373.7 215.5,374.0 216.0,374.7 216.5,375.3 217.0,375.0 217.5,375.0 218.0,373.8 218.5,372.0 218.9,371.8 219.4,370.5 219.9,370.4 220.4,370.8 220.9,371.5 221.4,371.9 221.9,371.4 222.4,372.7 222.9,373.2 223.4,373.4 223.8,373.4 224.3,373.1 224.8,372.9 225.3,372.1 225.8,370.9 226.3,370.3 226.8,368.7 227.3,368.2 227.8,369.3 228.3,369.5 228.8,369.4 229.2,369.1 229.7,369.9 230.2,371.0 230.7,371.9 231.2,371.9 231.7,371.2 232.2,369.0 232.7,369.7 233.2,368.0 233.7,368.0 234.1,367.8 234.6,366.5 235.1,366.0 235.6,365.7 236.1,367.4 236.6,367.9 237.1,370.4 237.6,369.7 238.1,369.8 238.6,369.8 239.0,369.2 239.5,368.2 240.0,367.4 240.5,366.7 241.0,365.8 241.5,366.1 242.0,366.1 242.5,366.4 243.0,366.9 243.5,366.9 244.0,367.6 244.4,368.2 244.9,369.4 245.4,370.0 245.9,370.1 246.4,371.0 246.9,369.9 247.4,369.8 247.9,370.4 248.4,370.8 248.9,370.0 249.3,370.3 249.8,370.8 250.3,371.2 250.8,371.4 251.3,370.8 251.8,371.8 252.3,372.8 252.8,373.6 253.3,374.3 253.8,374.6 254.2,375.2 254.7,375.5 255.2,375.2 255.7,375.5 256.2,375.5 256.7,375.6 257.2,375.4 257.7,375.6 258.2,373.9 258.7,373.0 259.2,372.5 259.6,371.8 260.1,370.5 260.6,370.6 261.1,370.8 261.6,370.3 262.1,370.2 262.6,369.7 263.1,369.1 263.6,369.7 264.1,369.3 264.5,369.1 265.0,369.2 265.5,369.1" fill="none" stroke="#ff0000" stroke-width="1.45" stroke-linejoin="round" stroke-linecap="round"/>
<polyline points="167.0,389.9 167.5,391.0 167.9,391.1 168.4,391.2 168.9,390.9 169.4,392.3 169.9,392.8 170.4,392.4 170.9,393.1 171.4,394.1 171.9,394.5 172.4,395.3 172.8,395.8 173.3,396.3 173.8,396.2 174.3,395.6 174.8,396.3 175.3,396.7 175.8,397.2 176.3,397.3 176.8,397.8 177.3,397.2 177.8,398.3 178.2,397.4 178.7,398.3 179.2,398.5 179.7,398.5 180.2,398.0 180.7,399.0 181.2,398.7 181.7,399.4 182.2,399.1 182.7,398.5 183.1,399.5 183.6,399.4 184.1,399.8 184.6,399.7 185.1,400.0 185.6,400.7 186.1,400.8 186.6,400.9 187.1,400.6 187.6,400.8 188.0,401.0 188.5,401.0 189.0,401.0 189.5,400.5 190.0,400.6 190.5,400.1 191.0,400.1 191.5,400.1 192.0,399.9 192.5,398.8 193.0,398.6 193.4,398.2 193.9,398.5 194.4,398.1 194.9,399.0 195.4,397.9 195.9,398.1 196.4,397.9 196.9,397.2 197.4,396.8 197.9,397.6 198.3,396.7 198.8,396.1 199.3,395.3 199.8,395.4 200.3,395.3 200.8,393.8 201.3,393.3 201.8,393.4 202.3,393.6 202.8,393.0 203.2,393.6 203.7,394.1 204.2,393.5 204.7,394.1 205.2,394.5 205.7,394.7 206.2,395.2 206.7,394.5 207.2,395.5 207.7,395.9 208.2,395.6 208.6,395.3 209.1,395.7 209.6,396.9 210.1,395.7 210.6,396.6 211.1,396.4 211.6,396.9 212.1,396.1 212.6,395.7 213.1,394.9 213.5,395.0 214.0,394.6 214.5,394.8 215.0,394.4 215.5,395.2 216.0,394.7 216.5,394.6 217.0,394.2 217.5,393.6 218.0,393.7 218.5,393.8 218.9,393.7 219.4,393.2 219.9,394.7 220.4,395.3 220.9,395.2 221.4,394.8 221.9,395.8 222.4,396.0 222.9,396.5 223.4,396.9 223.8,396.7 224.3,396.5 224.8,396.3 225.3,394.7 225.8,394.1 226.3,394.7 226.8,395.1 227.3,394.9 227.8,395.0 228.3,395.6 228.8,395.6 229.2,395.5 229.7,396.8 230.2,396.7 230.7,397.6 231.2,397.9 231.7,396.9 232.2,396.5 232.7,396.5 233.2,396.0 233.7,396.0 234.1,396.1 234.6,395.6 235.1,395.5 235.6,394.4 236.1,395.0 236.6,394.4 237.1,396.5 237.6,396.5 238.1,397.0 238.6,396.6 239.0,397.3 239.5,397.7 240.0,397.3 240.5,395.9 241.0,396.0 241.5,395.5 242.0,395.4 242.5,396.3 243.0,397.0 243.5,397.0 244.0,396.6 244.4,396.4 244.9,397.0 245.4,398.3 245.9,397.5 246.4,398.7 246.9,398.3 247.4,398.3 247.9,399.3 248.4,400.0 248.9,399.1 249.3,399.4 249.8,399.4 250.3,399.9 250.8,400.7 251.3,400.0 251.8,400.9 252.3,401.1 252.8,402.9 253.3,402.9 253.8,403.0 254.2,403.5 254.7,402.9 255.2,403.8 255.7,403.6 256.2,404.0 256.7,404.0 257.2,403.8 257.7,403.9 258.2,402.9 258.7,403.2 259.2,403.5 259.6,403.8 260.1,403.3 260.6,404.0 261.1,402.7 261.6,402.9 262.1,402.5 262.6,401.6 263.1,402.3 263.6,401.4 264.1,401.2 264.5,401.2 265.0,401.0 265.5,401.4" fill="none" stroke="#c9c9c9" stroke-width="1.55" stroke-linejoin="round" stroke-linecap="round"/>
<path d="M166.90,359.00V425.30H266.20" fill="none" stroke="#9c9c9c" stroke-width="1.25"/>
<path d="M166.90,425.30h1.2M166.90,408.85h1.2M166.90,392.40h1.2M166.90,375.95h1.2M166.90,359.50h1.2M166.90,425.30v-1.2M191.38,425.30v-1.2M216.14,425.30v-1.2M241.17,425.30v-1.2M266.20,425.30v-1.2" stroke="#9c9c9c" stroke-width="0.9" fill="none"/>
<polygon points="315.8,411.4 316.2,411.5 316.7,412.0 317.2,410.9 317.7,409.2 318.2,408.9 318.7,408.6 319.2,409.5 319.7,410.0 320.2,408.8 320.7,408.4 321.2,408.9 321.6,408.4 322.1,408.7 322.6,409.2 323.1,408.6 323.6,410.2 324.1,409.7 324.6,409.7 325.1,409.3 325.6,409.7 326.1,409.8 326.5,407.9 327.0,407.6 327.5,408.7 328.0,410.4 328.5,409.1 329.0,408.3 329.5,409.7 330.0,409.6 330.5,409.8 331.0,408.1 331.4,407.1 331.9,407.6 332.4,410.0 332.9,409.4 333.4,409.4 333.9,410.1 334.4,410.9 334.9,409.3 335.4,409.7 335.9,410.4 336.4,409.6 336.8,411.8 337.3,410.9 337.8,411.6 338.3,409.5 338.8,409.5 339.3,409.1 339.8,410.6 340.3,411.2 340.8,411.0 341.3,409.8 341.7,409.9 342.2,410.6 342.7,411.4 343.2,410.2 343.7,411.4 344.2,410.9 344.7,410.5 345.2,413.0 345.7,410.2 346.2,412.0 346.7,410.0 347.1,412.6 347.6,412.7 348.1,411.5 348.6,412.5 349.1,409.7 349.6,410.4 350.1,409.6 350.6,409.1 351.1,412.0 351.6,413.1 352.0,413.4 352.5,414.0 353.0,410.6 353.5,405.5 354.0,402.1 354.5,400.1 355.0,398.8 355.5,400.0 356.0,400.1 356.5,399.1 356.9,398.6 357.4,401.2 357.9,400.6 358.4,399.6 358.9,397.2 359.4,396.9 359.9,393.0 360.4,393.8 360.9,391.2 361.4,391.8 361.9,392.5 362.3,392.7 362.8,391.9 363.3,392.3 363.8,394.6 364.3,395.9 364.8,396.6 365.3,395.7 365.8,394.8 366.3,393.0 366.8,391.4 367.2,390.4 367.7,389.3 368.2,392.3 368.7,392.5 369.2,392.1 369.7,392.1 370.2,394.0 370.7,394.2 371.2,396.2 371.7,395.4 372.2,396.3 372.6,398.0 373.1,400.1 373.6,401.1 374.1,402.9 374.6,401.3 375.1,402.9 375.6,402.8 376.1,403.3 376.6,404.7 377.1,405.1 377.5,406.5 378.0,405.6 378.5,406.1 379.0,405.2 379.5,406.8 380.0,405.3 380.5,403.5 381.0,402.3 381.5,400.0 382.0,402.6 382.4,397.2 382.9,396.4 383.4,396.7 383.4,397.9 382.9,397.4 382.4,398.2 382.0,403.6 381.5,401.2 381.0,403.6 380.5,405.0 380.0,407.0 379.5,408.2 379.0,406.5 378.5,407.5 378.0,407.0 377.5,407.5 377.1,406.7 376.6,405.5 376.1,404.4 375.6,404.0 375.1,404.2 374.6,402.8 374.1,403.8 373.6,402.4 373.1,401.4 372.6,399.5 372.2,398.0 371.7,396.5 371.2,397.4 370.7,395.1 370.2,395.2 369.7,393.3 369.2,393.0 368.7,393.4 368.2,393.2 367.7,390.7 367.2,391.6 366.8,392.5 366.3,394.5 365.8,395.6 365.3,396.9 364.8,398.2 364.3,397.3 363.8,396.0 363.3,393.8 362.8,393.7 362.3,394.4 361.9,393.9 361.4,392.7 360.9,392.2 360.4,395.4 359.9,394.2 359.4,398.4 358.9,398.6 358.4,401.1 357.9,402.3 357.4,402.4 356.9,400.0 356.5,400.6 356.0,401.1 355.5,401.4 355.0,400.4 354.5,401.0 354.0,403.1 353.5,406.3 353.0,412.4 352.5,415.2 352.0,415.0 351.6,414.7 351.1,413.6 350.6,410.9 350.1,411.1 349.6,411.5 349.1,410.9 348.6,413.9 348.1,412.5 347.6,413.8 347.1,413.8 346.7,411.8 346.2,413.1 345.7,411.4 345.2,414.3 344.7,411.8 344.2,412.4 343.7,412.8 343.2,411.2 342.7,412.6 342.2,411.8 341.7,410.7 341.3,411.2 340.8,412.4 340.3,412.2 339.8,412.3 339.3,410.2 338.8,411.2 338.3,411.1 337.8,413.2 337.3,412.4 336.8,413.3 336.4,410.9 335.9,411.4 335.4,410.9 334.9,411.0 334.4,412.4 333.9,411.3 333.4,410.8 332.9,410.8 332.4,411.3 331.9,409.4 331.4,408.6 331.0,409.5 330.5,411.3 330.0,410.9 329.5,411.5 329.0,410.0 328.5,410.5 328.0,411.8 327.5,409.8 327.0,408.6 326.5,409.7 326.1,411.3 325.6,410.9 325.1,411.0 324.6,410.7 324.1,411.2 323.6,412.0 323.1,410.4 322.6,410.7 322.1,409.6 321.6,409.3 321.2,410.2 320.7,409.7 320.2,410.0 319.7,411.8 319.2,410.7 318.7,410.2 318.2,410.4 317.7,410.4 317.2,412.4 316.7,412.9 316.2,412.9 315.8,413.2" fill="#111111"/>
<polyline points="315.8,412.3 316.2,412.1 316.7,412.6 317.2,411.7 317.7,410.1 318.2,409.5 318.7,409.2 319.2,410.2 319.7,410.9 320.2,409.2 320.7,409.3 321.2,409.4 321.6,408.8 322.1,409.1 322.6,409.8 323.1,409.5 323.6,411.1 324.1,410.3 324.6,410.1 325.1,410.1 325.6,410.3 326.1,410.5 326.5,408.7 327.0,408.0 327.5,409.1 328.0,410.9 328.5,409.9 329.0,409.2 329.5,410.6 330.0,410.1 330.5,410.7 331.0,408.9 331.4,407.8 331.9,408.6 332.4,410.8 332.9,410.1 333.4,410.3 333.9,410.6 334.4,411.7 334.9,410.3 335.4,410.4 335.9,410.9 336.4,410.3 336.8,412.7 337.3,411.8 337.8,412.5 338.3,410.2 338.8,410.5 339.3,409.8 339.8,411.4 340.3,411.6 340.8,411.4 341.3,410.5 341.7,410.4 342.2,411.4 342.7,411.9 343.2,410.7 343.7,411.9 344.2,411.7 344.7,411.3 345.2,413.7 345.7,410.8 346.2,412.5 346.7,410.8 347.1,413.3 347.6,413.2 348.1,412.0 348.6,413.0 349.1,410.3 349.6,410.9 350.1,410.3 350.6,410.0 351.1,412.9 351.6,414.0 352.0,414.0 352.5,414.4 353.0,411.4 353.5,405.9 354.0,402.4 354.5,400.7 355.0,399.5 355.5,400.7 356.0,400.8 356.5,399.6 356.9,399.4 357.4,401.7 357.9,401.3 358.4,400.4 358.9,397.7 359.4,397.5 359.9,393.6 360.4,394.7 360.9,391.6 361.4,392.2 361.9,393.1 362.3,393.4 362.8,392.8 363.3,392.8 363.8,395.2 364.3,396.5 364.8,397.3 365.3,396.2 365.8,395.2 366.3,393.6 366.8,391.8 367.2,390.9 367.7,390.0 368.2,392.8 368.7,392.8 369.2,392.5 369.7,392.7 370.2,394.4 370.7,394.7 371.2,396.7 371.7,396.1 372.2,397.0 372.6,398.9 373.1,400.7 373.6,401.9 374.1,403.2 374.6,402.2 375.1,403.4 375.6,403.7 376.1,403.6 376.6,405.1 377.1,405.8 377.5,406.9 378.0,406.5 378.5,406.9 379.0,405.6 379.5,407.5 380.0,406.2 380.5,404.4 381.0,403.2 381.5,400.7 382.0,403.0 382.4,397.8 382.9,396.7 383.4,397.3" fill="none" stroke="#111111" stroke-width="1.65" stroke-linejoin="round" stroke-linecap="round"/>
<polygon points="284.4,385.2 284.9,385.6 285.4,386.7 285.8,385.4 286.3,389.0 286.8,388.9 287.3,390.1 287.8,391.9 288.3,390.5 288.8,393.5 289.3,394.3 289.8,393.8 290.3,393.6 290.7,395.0 291.2,395.7 291.7,396.5 292.2,396.1 292.7,397.4 293.2,398.9 293.7,399.0 294.2,399.2 294.7,396.8 295.2,398.6 295.7,398.8 296.1,398.9 296.6,400.9 297.1,402.1 297.6,399.7 298.1,401.2 298.6,402.5 299.1,398.8 299.6,403.3 300.1,401.6 300.6,402.8 301.0,397.3 301.5,401.8 302.0,402.2 302.5,403.3 303.0,403.0 303.5,404.1 304.0,402.5 304.5,403.8 305.0,401.4 305.5,404.9 305.9,402.8 306.4,404.3 306.9,401.7 307.4,402.9 307.9,403.9 308.4,401.9 308.9,406.7 309.4,404.2 309.9,403.9 310.4,402.4 310.9,405.6 311.3,403.5 311.8,402.4 312.3,402.1 312.8,405.7 313.3,402.9 313.8,404.0 314.3,400.3 314.8,403.5 315.3,405.9 315.8,405.3 316.2,403.9 316.7,405.5 317.2,403.8 317.7,403.9 318.2,404.0 318.7,402.1 319.2,405.1 319.7,406.0 320.2,403.6 320.7,403.3 321.2,402.7 321.6,401.6 322.1,400.7 322.6,402.4 323.1,402.4 323.6,404.9 324.1,404.6 324.6,401.7 325.1,401.2 325.6,404.0 326.1,403.5 326.5,403.1 327.0,401.0 327.5,403.8 328.0,404.0 328.5,401.6 329.0,401.8 329.5,402.9 330.0,401.8 330.5,403.7 331.0,401.2 331.4,402.7 331.9,400.4 332.4,403.1 332.9,403.1 333.4,402.5 333.9,400.8 334.4,404.4 334.9,403.4 335.4,403.0 335.9,402.8 336.4,405.5 336.8,404.9 337.3,404.3 337.8,407.1 338.3,401.9 338.8,400.0 339.3,402.6 339.8,402.2 340.3,401.3 340.8,403.3 341.3,403.4 341.7,400.0 342.2,401.7 342.7,400.3 343.2,400.7 343.7,400.8 344.2,402.9 344.7,402.0 345.2,404.7 345.7,401.7 346.2,402.8 346.7,401.4 347.1,403.5 347.6,404.1 348.1,404.6 348.6,403.2 349.1,402.4 349.6,401.5 350.1,402.3 350.6,403.7 351.1,402.7 351.6,404.5 352.0,402.3 352.5,404.7 353.0,400.3 353.5,389.6 354.0,387.6 354.5,382.1 355.0,384.3 355.5,383.1 356.0,382.3 356.5,383.1 356.9,382.2 357.4,381.5 357.9,379.8 358.4,382.0 358.9,380.2 359.4,376.9 359.9,375.1 360.4,376.5 360.9,371.7 361.4,375.4 361.9,374.0 362.3,374.9 362.8,374.1 363.3,375.7 363.8,376.8 364.3,381.0 364.8,379.5 365.3,376.2 365.8,375.8 366.3,375.7 366.8,374.8 367.2,376.0 367.7,373.5 368.2,374.0 368.7,374.5 369.2,374.4 369.7,375.9 370.2,376.1 370.7,378.4 371.2,379.7 371.7,380.6 372.2,379.7 372.6,382.8 373.1,382.3 373.6,384.8 374.1,386.6 374.6,385.8 375.1,387.7 375.6,386.3 376.1,387.9 376.6,388.6 377.1,391.6 377.5,392.7 378.0,392.1 378.5,392.8 379.0,391.8 379.5,393.8 380.0,391.7 380.5,389.1 381.0,386.6 381.5,384.3 382.0,382.4 382.4,376.3 382.9,379.3 383.4,380.7 383.4,384.7 382.9,382.6 382.4,379.9 382.0,386.2 381.5,388.3 381.0,390.0 380.5,393.1 380.0,396.4 379.5,397.2 379.0,396.1 378.5,397.1 378.0,395.8 377.5,395.2 377.1,396.1 376.6,391.1 376.1,391.3 375.6,389.2 375.1,390.1 374.6,389.4 374.1,390.4 373.6,389.7 373.1,386.9 372.6,385.7 372.2,384.0 371.7,383.4 371.2,383.8 370.7,381.1 370.2,378.9 369.7,378.1 369.2,378.7 368.7,378.2 368.2,378.9 367.7,378.1 367.2,379.4 366.8,377.0 366.3,378.2 365.8,379.5 365.3,379.5 364.8,382.5 364.3,385.2 363.8,380.1 363.3,377.6 362.8,376.3 362.3,378.9 361.9,377.8 361.4,379.8 360.9,376.6 360.4,380.5 359.9,378.4 359.4,381.4 358.9,383.5 358.4,385.1 357.9,383.6 357.4,384.3 356.9,385.0 356.5,385.9 356.0,385.2 355.5,387.1 355.0,387.0 354.5,385.7 354.0,389.9 353.5,392.4 353.0,404.3 352.5,407.9 352.0,407.0 351.6,406.6 351.1,407.3 350.6,408.3 350.1,406.5 349.6,404.8 349.1,405.4 348.6,406.0 348.1,407.6 347.6,407.5 347.1,406.1 346.7,404.5 346.2,405.6 345.7,405.0 345.2,407.8 344.7,405.3 344.2,405.5 343.7,405.5 343.2,403.9 342.7,403.8 342.2,405.3 341.7,404.1 341.3,407.8 340.8,408.0 340.3,406.0 339.8,406.2 339.3,405.8 338.8,403.7 338.3,405.4 337.8,410.8 337.3,407.0 336.8,406.9 336.4,409.4 335.9,406.7 335.4,406.9 334.9,408.0 334.4,407.6 333.9,404.8 333.4,405.8 332.9,407.3 332.4,406.9 331.9,404.7 331.4,405.8 331.0,404.6 330.5,407.1 330.0,405.3 329.5,405.3 329.0,404.9 328.5,406.2 328.0,407.2 327.5,407.8 327.0,404.8 326.5,406.7 326.1,407.6 325.6,407.6 325.1,404.7 324.6,405.6 324.1,408.3 323.6,408.2 323.1,405.6 322.6,405.6 322.1,404.1 321.6,405.2 321.2,406.5 320.7,407.0 320.2,406.1 319.7,408.1 319.2,408.8 318.7,404.5 318.2,407.9 317.7,407.5 317.2,406.3 316.7,408.6 316.2,408.0 315.8,409.0 315.3,407.9 314.8,407.8 314.3,404.1 313.8,406.7 313.3,405.8 312.8,407.9 312.3,406.6 311.8,406.0 311.3,407.9 310.9,409.1 310.4,407.0 309.9,406.7 309.4,408.6 308.9,410.2 308.4,405.7 307.9,407.6 307.4,405.1 306.9,405.4 306.4,407.9 305.9,407.7 305.5,407.7 305.0,404.6 304.5,408.0 304.0,406.6 303.5,406.6 303.0,406.8 302.5,405.8 302.0,404.6 301.5,405.4 301.0,400.7 300.6,405.8 300.1,405.9 299.6,406.9 299.1,402.1 298.6,404.7 298.1,404.5 297.6,403.5 297.1,406.1 296.6,404.7 296.1,402.0 295.7,402.6 295.2,402.8 294.7,400.6 294.2,403.3 293.7,402.9 293.2,402.8 292.7,400.7 292.2,400.7 291.7,400.0 291.2,398.2 290.7,397.9 290.3,397.1 289.8,396.8 289.3,397.6 288.8,397.8 288.3,394.9 287.8,395.4 287.3,393.2 286.8,392.1 286.3,393.3 285.8,388.6 285.4,390.3 284.9,389.1 284.4,387.8" fill="#ff0000"/>
<polyline points="284.4,386.8 284.9,387.3 285.4,387.9 285.8,387.7 286.3,391.2 286.8,390.3 287.3,391.6 287.8,393.5 288.3,392.6 288.8,395.9 289.3,395.9 289.8,395.6 290.3,395.5 290.7,396.4 291.2,396.8 291.7,398.9 292.2,398.3 292.7,398.9 293.2,401.4 293.7,401.5 294.2,401.6 294.7,399.1 295.2,400.6 295.7,400.4 296.1,400.4 296.6,403.4 297.1,403.8 297.6,401.5 298.1,402.5 298.6,403.5 299.1,401.2 299.6,405.0 300.1,403.6 300.6,403.8 301.0,399.2 301.5,403.9 302.0,403.3 302.5,404.9 303.0,404.7 303.5,405.3 304.0,404.5 304.5,405.8 305.0,403.6 305.5,406.2 305.9,405.3 306.4,406.3 306.9,404.1 307.4,404.0 307.9,405.0 308.4,403.8 308.9,407.7 309.4,406.4 309.9,405.1 310.4,404.8 310.9,407.0 311.3,405.7 311.8,403.6 312.3,404.2 312.8,406.6 313.3,404.4 313.8,405.5 314.3,402.6 314.8,405.5 315.3,406.8 315.8,407.0 316.2,405.5 316.7,406.6 317.2,405.2 317.7,405.4 318.2,405.5 318.7,403.3 319.2,407.2 319.7,407.0 320.2,404.7 320.7,405.7 321.2,404.1 321.6,403.7 322.1,402.9 322.6,404.4 323.1,403.7 323.6,406.8 324.1,406.4 324.6,404.1 325.1,402.2 325.6,405.6 326.1,405.9 326.5,404.7 327.0,403.5 327.5,405.8 328.0,405.4 328.5,404.1 329.0,403.6 329.5,403.9 330.0,404.2 330.5,405.2 331.0,403.2 331.4,404.6 331.9,402.5 332.4,405.3 332.9,405.6 333.4,404.5 333.9,403.3 334.4,405.3 334.9,405.7 335.4,405.5 335.9,404.3 336.4,407.2 336.8,405.9 337.3,405.6 337.8,408.4 338.3,404.1 338.8,402.2 339.3,403.6 339.8,404.6 340.3,403.8 340.8,405.8 341.3,405.3 341.7,402.4 342.2,403.5 342.7,402.5 343.2,401.8 343.7,403.3 344.2,404.2 344.7,404.3 345.2,405.8 345.7,403.8 346.2,403.8 346.7,403.1 347.1,404.5 347.6,405.7 348.1,405.9 348.6,404.3 349.1,403.9 349.6,403.7 350.1,404.2 350.6,406.0 351.1,404.8 351.6,405.6 352.0,404.8 352.5,406.7 353.0,402.5 353.5,391.5 354.0,388.7 354.5,384.4 355.0,385.8 355.5,385.2 356.0,383.9 356.5,384.7 356.9,383.9 357.4,382.4 357.9,382.0 358.4,383.3 358.9,382.2 359.4,379.1 359.9,377.2 360.4,378.6 360.9,374.2 361.4,377.7 361.9,375.5 362.3,376.6 362.8,375.0 363.3,376.7 363.8,378.5 364.3,383.1 364.8,381.4 365.3,378.0 365.8,378.1 366.3,377.1 366.8,376.1 367.2,377.0 367.7,375.7 368.2,376.5 368.7,375.7 369.2,376.4 369.7,377.2 370.2,377.4 370.7,379.8 371.2,381.4 371.7,381.6 372.2,382.0 372.6,384.3 373.1,384.5 373.6,387.2 374.1,388.5 374.6,388.0 375.1,388.8 375.6,387.9 376.1,388.9 376.6,389.8 377.1,393.7 377.5,394.0 378.0,393.9 378.5,395.3 379.0,394.3 379.5,395.2 380.0,394.1 380.5,391.3 381.0,388.1 381.5,386.6 382.0,383.9 382.4,378.3 382.9,380.3 383.4,382.7" fill="none" stroke="#ff0000" stroke-width="1.45" stroke-linejoin="round" stroke-linecap="round"/>
<polygon points="284.4,387.2 284.9,385.7 285.4,385.9 285.8,386.9 286.3,387.2 286.8,391.6 287.3,390.6 287.8,391.0 288.3,393.7 288.8,396.1 289.3,394.9 289.8,395.5 290.3,395.7 290.7,396.3 291.2,395.0 291.7,397.1 292.2,397.3 292.7,400.3 293.2,402.6 293.7,402.2 294.2,400.7 294.7,399.5 295.2,401.0 295.7,402.2 296.1,403.8 296.6,404.9 297.1,403.8 297.6,403.0 298.1,403.8 298.6,404.0 299.1,405.5 299.6,408.9 300.1,407.7 300.6,406.9 301.0,406.1 301.5,406.3 302.0,409.3 302.5,408.1 303.0,408.0 303.5,407.0 304.0,406.0 304.5,406.9 305.0,406.4 305.5,408.2 305.9,407.4 306.4,409.1 306.9,408.0 307.4,409.2 307.9,407.9 308.4,408.8 308.9,408.7 309.4,408.8 309.9,408.0 310.4,408.5 310.9,408.9 311.3,408.1 311.8,408.1 312.3,406.9 312.8,409.8 313.3,410.2 313.8,407.8 314.3,408.9 314.8,407.4 315.3,410.6 315.8,410.9 316.2,411.4 316.7,412.6 317.2,411.5 317.7,409.9 318.2,408.1 318.7,408.7 319.2,411.6 319.7,410.9 320.2,410.3 320.7,411.3 321.2,408.6 321.6,408.0 322.1,409.6 322.6,408.4 323.1,410.2 323.6,411.4 324.1,411.2 324.6,411.8 325.1,412.1 325.6,412.2 326.1,410.5 326.5,408.8 327.0,409.1 327.5,411.4 328.0,412.5 328.5,411.6 329.0,407.8 329.5,409.8 330.0,409.8 330.5,410.2 331.0,410.1 331.4,409.4 331.9,409.5 332.4,411.4 332.9,412.3 333.4,414.1 333.9,413.4 334.4,411.9 334.9,411.6 335.4,411.4 335.9,413.0 336.4,411.7 336.8,412.6 337.3,414.5 337.8,413.3 338.3,409.9 338.8,413.7 339.3,411.9 339.8,413.2 340.3,413.3 340.8,413.2 341.3,412.6 341.7,410.5 342.2,411.7 342.7,411.9 343.2,411.2 343.7,412.4 344.2,410.9 344.7,411.1 345.2,413.6 345.7,413.4 346.2,413.8 346.7,413.4 347.1,412.6 347.6,411.8 348.1,414.1 348.6,414.1 349.1,413.4 349.6,415.3 350.1,413.3 350.6,414.8 351.1,415.0 351.6,414.2 352.0,414.1 352.5,415.6 353.0,413.9 353.5,410.0 354.0,407.3 354.5,405.5 355.0,408.1 355.5,406.4 356.0,405.1 356.5,402.5 356.9,402.9 357.4,403.0 357.9,402.8 358.4,401.9 358.9,402.8 359.4,400.8 359.9,400.5 360.4,399.8 360.9,396.3 361.4,399.1 361.9,398.0 362.3,397.8 362.8,395.9 363.3,396.4 363.8,398.3 364.3,398.0 364.8,398.8 365.3,398.4 365.8,397.1 366.3,396.1 366.8,396.6 367.2,395.4 367.7,396.6 368.2,400.0 368.7,401.8 369.2,401.0 369.7,399.9 370.2,400.5 370.7,400.3 371.2,402.0 371.7,401.6 372.2,402.1 372.6,404.1 373.1,405.4 373.6,406.1 374.1,406.3 374.6,406.2 375.1,407.4 375.6,406.0 376.1,408.7 376.6,408.4 377.1,408.8 377.5,410.5 378.0,410.1 378.5,409.9 379.0,409.2 379.5,410.1 380.0,410.4 380.5,408.0 381.0,406.9 381.5,406.6 382.0,405.5 382.4,404.0 382.9,404.3 383.4,403.5 383.4,406.3 382.9,406.1 382.4,407.9 382.0,408.5 381.5,409.6 381.0,410.0 380.5,411.6 380.0,412.7 379.5,412.6 379.0,411.7 378.5,413.1 378.0,413.5 377.5,413.8 377.1,412.4 376.6,412.4 376.1,411.9 375.6,409.9 375.1,409.5 374.6,409.2 374.1,409.9 373.6,409.8 373.1,407.6 372.6,406.8 372.2,405.6 371.7,404.6 371.2,405.1 370.7,404.4 370.2,404.2 369.7,402.4 369.2,403.8 368.7,404.8 368.2,402.7 367.7,399.7 367.2,397.6 366.8,399.7 366.3,399.3 365.8,400.6 365.3,402.0 364.8,401.4 364.3,400.2 363.8,401.3 363.3,400.0 362.8,398.2 362.3,402.0 361.9,401.6 361.4,401.8 360.9,399.9 360.4,402.3 359.9,403.2 359.4,403.1 358.9,406.2 358.4,404.1 357.9,406.3 357.4,404.9 356.9,406.5 356.5,407.0 356.0,409.1 355.5,409.4 355.0,411.0 354.5,409.6 354.0,410.4 353.5,412.9 353.0,417.1 352.5,419.2 352.0,417.7 351.6,417.0 351.1,417.8 350.6,417.7 350.1,415.5 349.6,417.1 349.1,416.6 348.6,416.6 348.1,417.0 347.6,415.5 347.1,416.1 346.7,416.7 346.2,416.3 345.7,417.0 345.2,417.0 344.7,414.3 344.2,414.8 343.7,414.8 343.2,413.0 342.7,414.7 342.2,415.7 341.7,414.4 341.3,417.0 340.8,416.9 340.3,417.7 339.8,416.1 339.3,415.6 338.8,416.8 338.3,413.4 337.8,415.3 337.3,416.9 336.8,415.1 336.4,414.9 335.9,415.7 335.4,415.1 334.9,414.3 334.4,414.9 333.9,416.2 333.4,417.2 332.9,414.8 332.4,414.5 331.9,412.7 331.4,412.4 331.0,413.4 330.5,413.9 330.0,412.2 329.5,413.9 329.0,412.0 328.5,414.6 328.0,416.2 327.5,414.3 327.0,411.4 326.5,412.8 326.1,413.3 325.6,415.4 325.1,415.5 324.6,414.5 324.1,414.9 323.6,414.5 323.1,413.3 322.6,411.3 322.1,413.3 321.6,411.0 321.2,412.9 320.7,415.3 320.2,413.4 319.7,413.7 319.2,413.5 318.7,412.2 318.2,411.5 317.7,412.6 317.2,414.4 316.7,415.5 316.2,414.2 315.8,415.3 315.3,414.4 314.8,411.4 314.3,412.2 313.8,409.6 313.3,413.4 312.8,412.3 312.3,411.5 311.8,412.5 311.3,411.6 310.9,411.6 310.4,411.2 309.9,411.0 309.4,412.7 308.9,411.1 308.4,411.5 307.9,412.4 307.4,411.3 306.9,411.7 306.4,412.6 305.9,409.7 305.5,410.3 305.0,409.1 304.5,409.4 304.0,409.7 303.5,411.1 303.0,410.9 302.5,411.1 302.0,413.3 301.5,409.2 301.0,409.1 300.6,409.7 300.1,410.9 299.6,411.0 299.1,409.2 298.6,407.4 298.1,406.6 297.6,405.9 297.1,406.6 296.6,408.3 296.1,407.2 295.7,406.6 295.2,403.7 294.7,402.4 294.2,404.5 293.7,405.1 293.2,405.0 292.7,402.1 292.2,400.6 291.7,401.0 291.2,399.1 290.7,398.5 290.3,398.8 289.8,398.7 289.3,397.5 288.8,399.4 288.3,396.4 287.8,394.1 287.3,393.3 286.8,394.5 286.3,389.6 285.8,390.3 285.4,388.6 284.9,388.5 284.4,390.8" fill="#c9c9c9"/>
<polyline points="284.4,388.6 284.9,387.2 285.4,386.8 285.8,388.3 286.3,388.7 286.8,393.3 287.3,391.4 287.8,393.0 288.3,395.1 288.8,397.1 289.3,396.6 289.8,396.6 290.3,397.6 290.7,397.5 291.2,396.9 291.7,399.5 292.2,398.9 292.7,401.1 293.2,403.7 293.7,403.6 294.2,402.3 294.7,401.5 295.2,402.6 295.7,404.3 296.1,404.9 296.6,406.1 297.1,405.0 297.6,404.4 298.1,405.5 298.6,405.2 299.1,407.6 299.6,409.8 300.1,408.9 300.6,408.7 301.0,407.0 301.5,408.0 302.0,411.5 302.5,409.6 303.0,409.4 303.5,408.9 304.0,408.1 304.5,407.7 305.0,407.7 305.5,409.0 305.9,408.4 306.4,410.7 306.9,409.9 307.4,410.4 307.9,410.2 308.4,410.5 308.9,409.9 309.4,410.9 309.9,409.6 310.4,410.1 310.9,409.9 311.3,410.3 311.8,410.4 312.3,409.2 312.8,411.5 313.3,412.3 313.8,408.8 314.3,409.9 314.8,409.3 315.3,412.6 315.8,413.1 316.2,412.8 316.7,413.6 317.2,412.9 317.7,411.1 318.2,410.0 318.7,410.5 319.2,412.4 319.7,412.8 320.2,412.3 320.7,413.2 321.2,410.9 321.6,409.5 322.1,411.6 322.6,409.8 323.1,412.2 323.6,413.4 324.1,413.1 324.6,413.2 325.1,413.3 325.6,413.6 326.1,411.4 326.5,410.6 327.0,410.4 327.5,413.4 328.0,414.4 328.5,412.5 329.0,409.9 329.5,412.0 330.0,411.1 330.5,412.2 331.0,411.4 331.4,411.5 331.9,410.8 332.4,413.2 332.9,413.5 333.4,415.2 333.9,415.0 334.4,414.1 334.9,413.0 335.4,413.8 335.9,414.0 336.4,413.8 336.8,413.5 337.3,415.5 337.8,414.2 338.3,411.3 338.8,415.3 339.3,413.6 339.8,414.1 340.3,415.4 340.8,414.7 341.3,414.8 341.7,412.8 342.2,413.9 342.7,413.3 343.2,412.1 343.7,413.4 344.2,412.8 344.7,412.8 345.2,415.8 345.7,414.8 346.2,415.3 346.7,414.5 347.1,414.9 347.6,414.1 348.1,416.2 348.6,415.7 349.1,414.4 349.6,416.1 350.1,414.2 350.6,415.7 351.1,416.5 351.6,415.7 352.0,416.3 352.5,417.4 353.0,415.4 353.5,411.0 354.0,408.1 354.5,407.8 355.0,409.6 355.5,407.9 356.0,407.4 356.5,404.7 356.9,405.0 357.4,403.9 357.9,404.7 358.4,403.1 358.9,404.2 359.4,402.1 359.9,401.3 360.4,401.5 360.9,398.3 361.4,400.7 361.9,399.4 362.3,399.8 362.8,397.2 363.3,398.4 363.8,399.6 364.3,399.2 364.8,400.5 365.3,400.7 365.8,398.8 366.3,398.4 366.8,398.2 367.2,396.7 367.7,398.0 368.2,401.8 368.7,402.8 369.2,401.9 369.7,401.0 370.2,402.7 370.7,402.3 371.2,403.6 371.7,403.3 372.2,403.9 372.6,405.7 373.1,406.5 373.6,408.1 374.1,408.4 374.6,408.3 375.1,408.3 375.6,408.3 376.1,409.7 376.6,410.3 377.1,411.1 377.5,412.6 378.0,411.7 378.5,410.9 379.0,410.8 379.5,411.4 380.0,411.5 380.5,409.3 381.0,408.0 381.5,407.6 382.0,407.0 382.4,406.2 382.9,405.2 383.4,404.7" fill="none" stroke="#c9c9c9" stroke-width="1.55" stroke-linejoin="round" stroke-linecap="round"/>
<path d="M284.40,359.00V425.30H383.70" fill="none" stroke="#9c9c9c" stroke-width="1.25"/>
<path d="M284.40,425.30h1.2M284.40,408.85h1.2M284.40,392.40h1.2M284.40,375.95h1.2M284.40,359.50h1.2M284.40,425.30v-1.2M308.88,425.30v-1.2M333.64,425.30v-1.2M358.67,425.30v-1.2M383.70,425.30v-1.2" stroke="#9c9c9c" stroke-width="0.9" fill="none"/>
<polyline points="428.4,401.3 428.9,401.5 429.4,401.0 429.9,400.6 430.4,401.2 430.9,401.6 431.4,401.5 431.9,400.4 432.4,400.1 432.9,400.2 433.3,399.4 433.8,399.0 434.3,399.5 434.8,399.2 435.3,399.3 435.8,398.7 436.3,399.8 436.8,399.3 437.3,399.4 437.8,399.3 438.2,398.3 438.7,397.8 439.2,396.8 439.7,396.3 440.2,395.8 440.7,394.3 441.2,395.4 441.7,395.0 442.2,395.3 442.7,395.1 443.2,396.4 443.6,396.7 444.1,395.4 444.6,395.1 445.1,395.4 445.6,396.4 446.1,395.2 446.6,395.4 447.1,394.1 447.6,395.1 448.1,394.5 448.5,394.6 449.0,394.4 449.5,395.0 450.0,395.6 450.5,395.7 451.0,397.5 451.5,397.1 452.0,396.8 452.5,396.3 453.0,395.1 453.5,394.9 453.9,393.9 454.4,394.4 454.9,394.6 455.4,395.4 455.9,395.2 456.4,396.0 456.9,395.6 457.4,397.5 457.9,398.0 458.4,400.1 458.8,399.6 459.3,399.2 459.8,397.6 460.3,396.7 460.8,394.7 461.3,392.6 461.8,393.0 462.3,393.1 462.8,394.7 463.3,395.2 463.8,395.8 464.2,395.3 464.7,394.3 465.2,393.7 465.7,393.4 466.2,392.3 466.7,393.1 467.2,393.7 467.7,393.4 468.2,391.5 468.7,391.1 469.1,392.4 469.6,392.2 470.1,393.3 470.6,393.8 471.1,393.8 471.6,393.9 472.1,395.1 472.6,395.2 473.1,397.4 473.6,398.6 474.0,398.9 474.5,397.0 475.0,395.3 475.5,394.2 476.0,393.4 476.5,392.5 477.0,392.7 477.5,392.5 478.0,393.3 478.5,392.0 479.0,392.4 479.4,392.7 479.9,393.1 480.4,392.8 480.9,393.0 481.4,393.8 481.9,394.5 482.4,395.1 482.9,395.0 483.4,394.6 483.9,394.3 484.3,395.6 484.8,394.8 485.3,395.0 485.8,395.1 486.3,395.2 486.8,395.4 487.3,396.3 487.8,395.3 488.3,395.4 488.8,395.0 489.2,396.5 489.7,396.7 490.2,396.6 490.7,397.5 491.2,397.3 491.7,398.0 492.2,396.6 492.7,397.2 493.2,396.2 493.7,396.1 494.2,396.5 494.6,397.2 495.1,397.4 495.6,397.0 496.1,396.2 496.6,396.6 497.1,395.1 497.6,395.4 498.1,396.5 498.6,396.4 499.1,396.6 499.5,396.8 500.0,396.6 500.5,397.0 501.0,396.7" fill="none" stroke="#111111" stroke-width="1.65" stroke-linejoin="round" stroke-linecap="round"/>
<polyline points="402.0,388.0 402.5,388.1 402.9,389.0 403.4,389.5 403.9,390.5 404.4,390.2 404.9,389.9 405.4,390.4 405.9,392.3 406.4,391.8 406.9,392.3 407.4,393.0 407.8,394.3 408.3,394.4 408.8,394.1 409.3,394.1 409.8,394.1 410.3,394.9 410.8,396.1 411.3,395.5 411.8,395.3 412.3,394.2 412.8,395.1 413.2,395.6 413.7,395.1 414.2,395.8 414.7,395.5 415.2,396.3 415.7,396.8 416.2,395.7 416.7,396.7 417.2,396.8 417.7,396.4 418.1,396.6 418.6,397.8 419.1,398.0 419.6,398.2 420.1,397.9 420.6,397.8 421.1,398.1 421.6,397.3 422.1,396.9 422.6,397.4 423.0,397.8 423.5,398.6 424.0,397.9 424.5,398.2 425.0,397.5 425.5,396.4 426.0,395.5 426.5,394.8 427.0,396.0 427.5,395.7 428.0,396.1 428.4,396.3 428.9,394.8 429.4,395.4 429.9,394.0 430.4,395.7 430.9,396.0 431.4,395.3 431.9,394.2 432.4,393.8 432.9,393.3 433.3,394.0 433.8,393.0 434.3,393.1 434.8,393.0 435.3,391.7 435.8,391.0 436.3,391.5 436.8,390.9 437.3,391.8 437.8,391.7 438.2,391.9 438.7,391.0 439.2,390.0 439.7,387.9 440.2,386.7 440.7,386.1 441.2,386.9 441.7,387.4 442.2,387.3 442.7,387.2 443.2,388.0 443.6,388.5 444.1,387.2 444.6,386.8 445.1,386.1 445.6,387.2 446.1,384.9 446.6,384.6 447.1,383.5 447.6,384.3 448.1,382.7 448.5,383.5 449.0,384.0 449.5,384.3 450.0,384.9 450.5,385.5 451.0,386.7 451.5,387.2 452.0,386.1 452.5,384.8 453.0,383.3 453.5,382.0 453.9,381.1 454.4,381.3 454.9,382.7 455.4,383.9 455.9,384.5 456.4,384.9 456.9,385.0 457.4,385.3 457.9,384.9 458.4,384.3 458.8,382.7 459.3,382.3 459.8,380.6 460.3,378.7 460.8,377.1 461.3,375.5 461.8,377.1 462.3,378.6 462.8,380.1 463.3,381.3 463.8,380.5 464.2,379.0 464.7,377.6 465.2,376.8 465.7,375.8 466.2,374.8 466.7,374.8 467.2,375.0 467.7,374.0 468.2,372.7 468.7,372.8 469.1,373.0 469.6,373.6 470.1,374.7 470.6,375.8 471.1,376.7 471.6,377.0 472.1,378.2 472.6,380.3 473.1,381.5 473.6,382.5 474.0,382.2 474.5,380.4 475.0,377.8 475.5,375.6 476.0,373.7 476.5,373.0 477.0,374.7 477.5,374.5 478.0,374.8 478.5,374.5 479.0,374.4 479.4,375.0 479.9,374.5 480.4,374.1 480.9,373.4 481.4,373.2 481.9,373.3 482.4,373.7 482.9,374.7 483.4,374.9 483.9,374.8 484.3,376.0 484.8,376.4 485.3,377.1 485.8,375.6 486.3,374.7 486.8,374.1 487.3,374.7 487.8,372.7 488.3,373.0 488.8,372.0 489.2,373.5 489.7,373.9 490.2,374.3 490.7,374.2 491.2,374.8 491.7,374.5 492.2,374.2 492.7,373.5 493.2,372.4 493.7,370.7 494.2,371.4 494.6,370.9 495.1,371.0 495.6,369.9 496.1,368.6 496.6,368.4 497.1,369.0 497.6,368.5 498.1,368.9 498.6,369.9 499.1,370.9 499.5,371.6 500.0,371.1 500.5,372.1 501.0,370.5" fill="none" stroke="#ff0000" stroke-width="1.45" stroke-linejoin="round" stroke-linecap="round"/>
<polyline points="402.0,388.2 402.5,388.3 402.9,389.3 403.4,390.3 403.9,390.5 404.4,390.1 404.9,391.4 405.4,392.2 405.9,393.2 406.4,393.7 406.9,395.1 407.4,394.6 407.8,395.9 408.3,396.5 408.8,396.7 409.3,396.9 409.8,397.1 410.3,398.2 410.8,398.3 411.3,398.5 411.8,397.6 412.3,397.9 412.8,398.3 413.2,399.1 413.7,398.7 414.2,399.2 414.7,399.6 415.2,399.9 415.7,399.3 416.2,399.8 416.7,399.6 417.2,400.4 417.7,400.4 418.1,400.9 418.6,400.7 419.1,401.8 419.6,401.6 420.1,401.8 420.6,401.3 421.1,401.6 421.6,401.6 422.1,402.4 422.6,402.3 423.0,402.0 423.5,402.6 424.0,401.2 424.5,401.7 425.0,401.9 425.5,401.8 426.0,401.4 426.5,401.1 427.0,400.8 427.5,401.3 428.0,401.0 428.4,401.7 428.9,401.9 429.4,401.4 429.9,401.0 430.4,401.7 430.9,402.0 431.4,402.3 431.9,400.4 432.4,400.0 432.9,400.5 433.3,401.1 433.8,400.8 434.3,401.6 434.8,400.6 435.3,401.1 435.8,399.8 436.3,399.9 436.8,399.5 437.3,399.1 437.8,399.0 438.2,399.1 438.7,399.8 439.2,399.3 439.7,399.4 440.2,399.9 440.7,398.9 441.2,399.6 441.7,398.8 442.2,398.2 442.7,399.0 443.2,398.3 443.6,399.0 444.1,398.8 444.6,398.9 445.1,398.9 445.6,399.8 446.1,399.7 446.6,399.8 447.1,399.5 447.6,400.0 448.1,399.7 448.5,398.7 449.0,398.6 449.5,398.2 450.0,399.4 450.5,399.6 451.0,399.8 451.5,400.0 452.0,399.8 452.5,399.5 453.0,398.9 453.5,398.8 453.9,399.9 454.4,400.3 454.9,401.1 455.4,402.2 455.9,401.9 456.4,402.4 456.9,401.8 457.4,402.9 457.9,403.7 458.4,405.4 458.8,404.6 459.3,405.1 459.8,404.4 460.3,403.4 460.8,403.0 461.3,401.6 461.8,400.6 462.3,401.2 462.8,400.9 463.3,401.4 463.8,401.1 464.2,401.1 464.7,401.0 465.2,400.2 465.7,399.8 466.2,398.3 466.7,399.7 467.2,398.8 467.7,398.3 468.2,396.6 468.7,397.8 469.1,397.8 469.6,399.3 470.1,400.4 470.6,399.9 471.1,400.8 471.6,400.8 472.1,402.3 472.6,403.1 473.1,403.5 473.6,404.4 474.0,404.6 474.5,403.7 475.0,401.4 475.5,400.9 476.0,400.3 476.5,399.8 477.0,400.5 477.5,401.6 478.0,401.5 478.5,401.1 479.0,400.8 479.4,400.8 479.9,400.1 480.4,400.9 480.9,400.9 481.4,400.6 481.9,401.3 482.4,402.0 482.9,401.5 483.4,401.2 483.9,401.6 484.3,402.0 484.8,402.1 485.3,401.4 485.8,400.9 486.3,401.2 486.8,401.0 487.3,402.4 487.8,403.0 488.3,403.2 488.8,402.6 489.2,402.9 489.7,403.0 490.2,404.2 490.7,404.2 491.2,403.5 491.7,403.4 492.2,403.2 492.7,403.6 493.2,402.5 493.7,402.9 494.2,403.9 494.6,404.3 495.1,404.4 495.6,404.1 496.1,403.5 496.6,403.1 497.1,402.1 497.6,402.5 498.1,403.0 498.6,404.1 499.1,404.7 499.5,404.6 500.0,403.7 500.5,404.3 501.0,403.6" fill="none" stroke="#c9c9c9" stroke-width="1.55" stroke-linejoin="round" stroke-linecap="round"/>
<path d="M402.00,359.00V425.30H501.30" fill="none" stroke="#9c9c9c" stroke-width="1.25"/>
<path d="M402.00,425.30h1.2M402.00,408.85h1.2M402.00,392.40h1.2M402.00,375.95h1.2M402.00,359.50h1.2M402.00,425.30v-1.2M426.48,425.30v-1.2M451.24,425.30v-1.2M476.27,425.30v-1.2M501.30,425.30v-1.2" stroke="#9c9c9c" stroke-width="0.9" fill="none"/>
<rect x="407.6" y="28.4" width="84.2" height="33.2" fill="#fff" stroke="#707070" stroke-width="0.9"/>
<line x1="410.6" x2="436.5" y1="35.2" y2="35.2" stroke="#222" stroke-width="1.4"/>
<line x1="410.6" x2="436.5" y1="45.3" y2="45.3" stroke="#ff1a1a" stroke-width="1.4"/>
<line x1="410.6" x2="436.5" y1="55.1" y2="55.1" stroke="#d4d4d4" stroke-width="1.4"/>
</g>
<g filter="url(#bt)">
<text transform="translate(99.15,17.80) scale(1,1.1)" font-size="8.75" font-weight="bold" text-anchor="middle" style="fill:#000;stroke:#000;stroke-width:0.3px">Gordon Point</text>
<text transform="translate(216.55,17.80) scale(1,1.1)" font-size="8.75" font-weight="bold" text-anchor="middle" style="fill:#000;stroke:#000;stroke-width:0.3px">West Point</text>
<text transform="translate(334.05,17.80) scale(1,1.1)" font-size="8.75" font-weight="bold" text-anchor="middle" style="fill:#000;stroke:#000;stroke-width:0.3px">Hood Canal</text>
<text transform="translate(451.65,17.80) scale(1,1.1)" font-size="8.75" font-weight="bold" text-anchor="middle" style="fill:#000;stroke:#000;stroke-width:0.3px">Saratoga Passage</text>
<text transform="translate(49.50,97.50) scale(1,1.1)" font-size="7.9" text-anchor="middle">Jan</text>
<text transform="translate(73.98,97.50) scale(1,1.1)" font-size="7.9" text-anchor="middle">Apr</text>
<text transform="translate(98.74,97.50) scale(1,1.1)" font-size="7.9" text-anchor="middle">Jul</text>
<text transform="translate(123.77,97.50) scale(1,1.1)" font-size="7.9" text-anchor="middle">Oct</text>
<text transform="translate(148.80,97.50) scale(1,1.1)" font-size="7.9" text-anchor="middle">Jan</text>
<text transform="translate(45.90,89.11) scale(1,1.1)" font-size="7.9" text-anchor="end">0</text>
<text transform="translate(45.90,67.18) scale(1,1.1)" font-size="7.9" text-anchor="end">1</text>
<text transform="translate(45.90,45.25) scale(1,1.1)" font-size="7.9" text-anchor="end">2</text>
<text transform="translate(45.90,23.31) scale(1,1.1)" font-size="7.9" text-anchor="end">3</text>
<text transform="translate(166.90,97.50) scale(1,1.1)" font-size="7.9" text-anchor="middle">Jan</text>
<text transform="translate(191.38,97.50) scale(1,1.1)" font-size="7.9" text-anchor="middle">Apr</text>
<text transform="translate(216.14,97.50) scale(1,1.1)" font-size="7.9" text-anchor="middle">Jul</text>
<text transform="translate(241.17,97.50) scale(1,1.1)" font-size="7.9" text-anchor="middle">Oct</text>
<text transform="translate(266.20,97.50) scale(1,1.1)" font-size="7.9" text-anchor="middle">Jan</text>
<text transform="translate(284.40,97.50) scale(1,1.1)" font-size="7.9" text-anchor="middle">Jan</text>
<text transform="translate(308.88,97.50) scale(1,1.1)" font-size="7.9" text-anchor="middle">Apr</text>
<text transform="translate(333.64,97.50) scale(1,1.1)" font-size="7.9" text-anchor="middle">Jul</text>
<text transform="translate(358.67,97.50) scale(1,1.1)" font-size="7.9" text-anchor="middle">Oct</text>
<text transform="translate(383.70,97.50) scale(1,1.1)" font-size="7.9" text-anchor="middle">Jan</text>
<text transform="translate(402.00,97.50) scale(1,1.1)" font-size="7.9" text-anchor="middle">Jan</text>
<text transform="translate(426.48,97.50) scale(1,1.1)" font-size="7.9" text-anchor="middle">Apr</text>
<text transform="translate(451.24,97.50) scale(1,1.1)" font-size="7.9" text-anchor="middle">Jul</text>
<text transform="translate(476.27,97.50) scale(1,1.1)" font-size="7.9" text-anchor="middle">Oct</text>
<text transform="translate(501.30,97.50) scale(1,1.1)" font-size="7.9" text-anchor="middle">Jan</text>
<text transform="translate(49.50,182.40) scale(1,1.1)" font-size="7.9" text-anchor="middle">Jan</text>
<text transform="translate(73.98,182.40) scale(1,1.1)" font-size="7.9" text-anchor="middle">Apr</text>
<text transform="translate(98.74,182.40) scale(1,1.1)" font-size="7.9" text-anchor="middle">Jul</text>
<text transform="translate(123.77,182.40) scale(1,1.1)" font-size="7.9" text-anchor="middle">Oct</text>
<text transform="translate(148.80,182.40) scale(1,1.1)" font-size="7.9" text-anchor="middle">Jan</text>
<text transform="translate(45.90,174.01) scale(1,1.1)" font-size="7.9" text-anchor="end">2000</text>
<text transform="translate(45.90,152.08) scale(1,1.1)" font-size="7.9" text-anchor="end">2100</text>
<text transform="translate(45.90,130.15) scale(1,1.1)" font-size="7.9" text-anchor="end">2200</text>
<text transform="translate(45.90,108.21) scale(1,1.1)" font-size="7.9" text-anchor="end">2300</text>
<text transform="translate(166.90,182.40) scale(1,1.1)" font-size="7.9" text-anchor="middle">Jan</text>
<text transform="translate(191.38,182.40) scale(1,1.1)" font-size="7.9" text-anchor="middle">Apr</text>
<text transform="translate(216.14,182.40) scale(1,1.1)" font-size="7.9" text-anchor="middle">Jul</text>
<text transform="translate(241.17,182.40) scale(1,1.1)" font-size="7.9" text-anchor="middle">Oct</text>
<text transform="translate(266.20,182.40) scale(1,1.1)" font-size="7.9" text-anchor="middle">Jan</text>
<text transform="translate(284.40,182.40) scale(1,1.1)" font-size="7.9" text-anchor="middle">Jan</text>
<text transform="translate(308.88,182.40) scale(1,1.1)" font-size="7.9" text-anchor="middle">Apr</text>
<text transform="translate(333.64,182.40) scale(1,1.1)" font-size="7.9" text-anchor="middle">Jul</text>
<text transform="translate(358.67,182.40) scale(1,1.1)" font-size="7.9" text-anchor="middle">Oct</text>
<text transform="translate(383.70,182.40) scale(1,1.1)" font-size="7.9" text-anchor="middle">Jan</text>
<text transform="translate(402.00,182.40) scale(1,1.1)" font-size="7.9" text-anchor="middle">Jan</text>
<text transform="translate(426.48,182.40) scale(1,1.1)" font-size="7.9" text-anchor="middle">Apr</text>
<text transform="translate(451.24,182.40) scale(1,1.1)" font-size="7.9" text-anchor="middle">Jul</text>
<text transform="translate(476.27,182.40) scale(1,1.1)" font-size="7.9" text-anchor="middle">Oct</text>
<text transform="translate(501.30,182.40) scale(1,1.1)" font-size="7.9" text-anchor="middle">Jan</text>
<text transform="translate(49.50,267.30) scale(1,1.1)" font-size="7.9" text-anchor="middle">Jan</text>
<text transform="translate(73.98,267.30) scale(1,1.1)" font-size="7.9" text-anchor="middle">Apr</text>
<text transform="translate(98.74,267.30) scale(1,1.1)" font-size="7.9" text-anchor="middle">Jul</text>
<text transform="translate(123.77,267.30) scale(1,1.1)" font-size="7.9" text-anchor="middle">Oct</text>
<text transform="translate(148.80,267.30) scale(1,1.1)" font-size="7.9" text-anchor="middle">Jan</text>
<text transform="translate(45.90,258.91) scale(1,1.1)" font-size="7.9" text-anchor="end">2000</text>
<text transform="translate(45.90,242.46) scale(1,1.1)" font-size="7.9" text-anchor="end">2050</text>
<text transform="translate(45.90,226.01) scale(1,1.1)" font-size="7.9" text-anchor="end">2100</text>
<text transform="translate(45.90,209.56) scale(1,1.1)" font-size="7.9" text-anchor="end">2150</text>
<text transform="translate(45.90,193.11) scale(1,1.1)" font-size="7.9" text-anchor="end">2200</text>
<text transform="translate(166.90,267.30) scale(1,1.1)" font-size="7.9" text-anchor="middle">Jan</text>
<text transform="translate(191.38,267.30) scale(1,1.1)" font-size="7.9" text-anchor="middle">Apr</text>
<text transform="translate(216.14,267.30) scale(1,1.1)" font-size="7.9" text-anchor="middle">Jul</text>
<text transform="translate(241.17,267.30) scale(1,1.1)" font-size="7.9" text-anchor="middle">Oct</text>
<text transform="translate(266.20,267.30) scale(1,1.1)" font-size="7.9" text-anchor="middle">Jan</text>
<text transform="translate(284.40,267.30) scale(1,1.1)" font-size="7.9" text-anchor="middle">Jan</text>
<text transform="translate(308.88,267.30) scale(1,1.1)" font-size="7.9" text-anchor="middle">Apr</text>
<text transform="translate(333.64,267.30) scale(1,1.1)" font-size="7.9" text-anchor="middle">Jul</text>
<text transform="translate(358.67,267.30) scale(1,1.1)" font-size="7.9" text-anchor="middle">Oct</text>
<text transform="translate(383.70,267.30) scale(1,1.1)" font-size="7.9" text-anchor="middle">Jan</text>
<text transform="translate(402.00,267.30) scale(1,1.1)" font-size="7.9" text-anchor="middle">Jan</text>
<text transform="translate(426.48,267.30) scale(1,1.1)" font-size="7.9" text-anchor="middle">Apr</text>
<text transform="translate(451.24,267.30) scale(1,1.1)" font-size="7.9" text-anchor="middle">Jul</text>
<text transform="translate(476.27,267.30) scale(1,1.1)" font-size="7.9" text-anchor="middle">Oct</text>
<text transform="translate(501.30,267.30) scale(1,1.1)" font-size="7.9" text-anchor="middle">Jan</text>
<text transform="translate(49.50,352.20) scale(1,1.1)" font-size="7.9" text-anchor="middle">Jan</text>
<text transform="translate(73.98,352.20) scale(1,1.1)" font-size="7.9" text-anchor="middle">Apr</text>
<text transform="translate(98.74,352.20) scale(1,1.1)" font-size="7.9" text-anchor="middle">Jul</text>
<text transform="translate(123.77,352.20) scale(1,1.1)" font-size="7.9" text-anchor="middle">Oct</text>
<text transform="translate(148.80,352.20) scale(1,1.1)" font-size="7.9" text-anchor="middle">Jan</text>
<text transform="translate(45.90,343.81) scale(1,1.1)" font-size="7.9" text-anchor="end">7.2</text>
<text transform="translate(45.90,321.88) scale(1,1.1)" font-size="7.9" text-anchor="end">7.4</text>
<text transform="translate(45.90,299.95) scale(1,1.1)" font-size="7.9" text-anchor="end">7.6</text>
<text transform="translate(45.90,278.01) scale(1,1.1)" font-size="7.9" text-anchor="end">7.8</text>
<text transform="translate(166.90,352.20) scale(1,1.1)" font-size="7.9" text-anchor="middle">Jan</text>
<text transform="translate(191.38,352.20) scale(1,1.1)" font-size="7.9" text-anchor="middle">Apr</text>
<text transform="translate(216.14,352.20) scale(1,1.1)" font-size="7.9" text-anchor="middle">Jul</text>
<text transform="translate(241.17,352.20) scale(1,1.1)" font-size="7.9" text-anchor="middle">Oct</text>
<text transform="translate(266.20,352.20) scale(1,1.1)" font-size="7.9" text-anchor="middle">Jan</text>
<text transform="translate(284.40,352.20) scale(1,1.1)" font-size="7.9" text-anchor="middle">Jan</text>
<text transform="translate(308.88,352.20) scale(1,1.1)" font-size="7.9" text-anchor="middle">Apr</text>
<text transform="translate(333.64,352.20) scale(1,1.1)" font-size="7.9" text-anchor="middle">Jul</text>
<text transform="translate(358.67,352.20) scale(1,1.1)" font-size="7.9" text-anchor="middle">Oct</text>
<text transform="translate(383.70,352.20) scale(1,1.1)" font-size="7.9" text-anchor="middle">Jan</text>
<text transform="translate(402.00,352.20) scale(1,1.1)" font-size="7.9" text-anchor="middle">Jan</text>
<text transform="translate(426.48,352.20) scale(1,1.1)" font-size="7.9" text-anchor="middle">Apr</text>
<text transform="translate(451.24,352.20) scale(1,1.1)" font-size="7.9" text-anchor="middle">Jul</text>
<text transform="translate(476.27,352.20) scale(1,1.1)" font-size="7.9" text-anchor="middle">Oct</text>
<text transform="translate(501.30,352.20) scale(1,1.1)" font-size="7.9" text-anchor="middle">Jan</text>
<text transform="translate(49.50,437.10) scale(1,1.1)" font-size="7.9" text-anchor="middle">Jan</text>
<text transform="translate(73.98,437.10) scale(1,1.1)" font-size="7.9" text-anchor="middle">Apr</text>
<text transform="translate(98.74,437.10) scale(1,1.1)" font-size="7.9" text-anchor="middle">Jul</text>
<text transform="translate(123.77,437.10) scale(1,1.1)" font-size="7.9" text-anchor="middle">Oct</text>
<text transform="translate(148.80,437.10) scale(1,1.1)" font-size="7.9" text-anchor="middle">Jan</text>
<text transform="translate(45.90,428.71) scale(1,1.1)" font-size="7.9" text-anchor="end">0.2</text>
<text transform="translate(45.90,412.26) scale(1,1.1)" font-size="7.9" text-anchor="end">0.4</text>
<text transform="translate(45.90,395.81) scale(1,1.1)" font-size="7.9" text-anchor="end">0.6</text>
<text transform="translate(45.90,379.36) scale(1,1.1)" font-size="7.9" text-anchor="end">0.8</text>
<text transform="translate(45.90,362.91) scale(1,1.1)" font-size="7.9" text-anchor="end">1</text>
<text transform="translate(166.90,437.10) scale(1,1.1)" font-size="7.9" text-anchor="middle">Jan</text>
<text transform="translate(191.38,437.10) scale(1,1.1)" font-size="7.9" text-anchor="middle">Apr</text>
<text transform="translate(216.14,437.10) scale(1,1.1)" font-size="7.9" text-anchor="middle">Jul</text>
<text transform="translate(241.17,437.10) scale(1,1.1)" font-size="7.9" text-anchor="middle">Oct</text>
<text transform="translate(266.20,437.10) scale(1,1.1)" font-size="7.9" text-anchor="middle">Jan</text>
<text transform="translate(284.40,437.10) scale(1,1.1)" font-size="7.9" text-anchor="middle">Jan</text>
<text transform="translate(308.88,437.10) scale(1,1.1)" font-size="7.9" text-anchor="middle">Apr</text>
<text transform="translate(333.64,437.10) scale(1,1.1)" font-size="7.9" text-anchor="middle">Jul</text>
<text transform="translate(358.67,437.10) scale(1,1.1)" font-size="7.9" text-anchor="middle">Oct</text>
<text transform="translate(383.70,437.10) scale(1,1.1)" font-size="7.9" text-anchor="middle">Jan</text>
<text transform="translate(402.00,437.10) scale(1,1.1)" font-size="7.9" text-anchor="middle">Jan</text>
<text transform="translate(426.48,437.10) scale(1,1.1)" font-size="7.9" text-anchor="middle">Apr</text>
<text transform="translate(451.24,437.10) scale(1,1.1)" font-size="7.9" text-anchor="middle">Jul</text>
<text transform="translate(476.27,437.10) scale(1,1.1)" font-size="7.9" text-anchor="middle">Oct</text>
<text transform="translate(501.30,437.10) scale(1,1.1)" font-size="7.9" text-anchor="middle">Jan</text>
<text transform="translate(37.60,52.10) rotate(-90) scale(1.04,1)" font-size="8.65" text-anchor="middle">Chl (<tspan font-style="italic">&#956;</tspan>g L<tspan font-size="6.3" dy="-4.0" dx="0.5">-1</tspan><tspan dy="4.0">)</tspan></text>
<text transform="translate(24.20,137.00) rotate(-90) scale(1.04,1)" font-size="8.65" text-anchor="middle">DIC (<tspan font-style="italic">&#956;</tspan>mol kg<tspan font-size="6.3" dy="-4.0" dx="0.5">-1</tspan><tspan dy="4.0">)</tspan></text>
<text transform="translate(24.30,221.90) rotate(-90) scale(1.04,1)" font-size="8.65" text-anchor="middle">TA (<tspan font-style="italic">&#956;</tspan>mol kg<tspan font-size="6.3" dy="-4.0" dx="0.5">-1</tspan><tspan dy="4.0">)</tspan></text>
<text transform="translate(30.80,306.80) rotate(-90) scale(1.04,1)" font-size="8.65" text-anchor="middle">pH (total)</text>
<text transform="translate(26.70,391.70) rotate(-90) scale(1.04,1)" font-size="8.65" text-anchor="middle">&#937;<tspan font-size="7" dy="4.5">A</tspan></text>
<text transform="translate(439.40,38.01) scale(1,1.1)" font-size="7.0" >Baseline</text>
<text transform="translate(439.40,48.10) scale(1,1.1)" font-size="7.0" >FW@AmbientC</text>
<text transform="translate(439.40,57.91) scale(1,1.1)" font-size="7.0" >High DICobc</text>
</g>
</svg></body></html>
